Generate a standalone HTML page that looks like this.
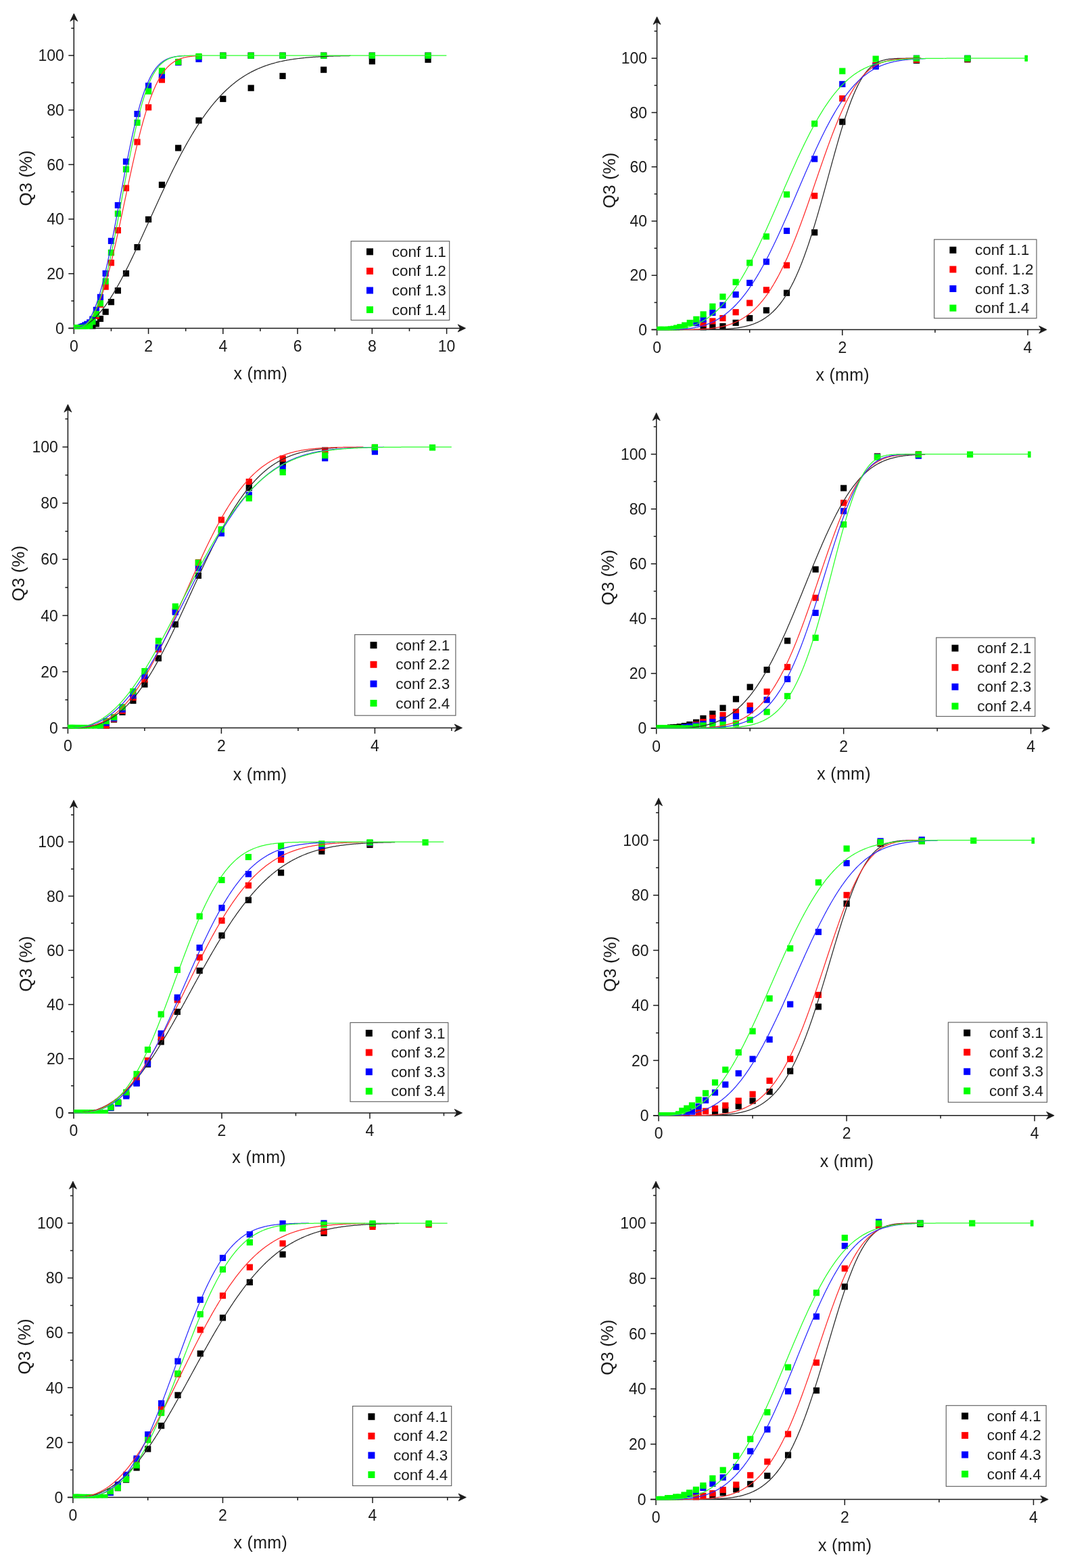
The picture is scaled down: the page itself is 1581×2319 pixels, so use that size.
<!DOCTYPE html>
<html><head><meta charset="utf-8"><title>Q3 cumulative distribution plots</title>
<style>html,body{margin:0;padding:0;background:#fff;}svg{display:block;}</style></head>
<body><svg xmlns="http://www.w3.org/2000/svg" width="1581" height="2319" viewBox="0 0 1581 2319">
<rect width="1581" height="2319" fill="#fff"/>
<g stroke="#1a1a1a" stroke-width="1.5" fill="none">
<line x1="109.3" y1="485.4" x2="109.3" y2="25.6"/>
<line x1="101.3" y1="485.4" x2="683" y2="485.4"/>
<line x1="101.3" y1="485.4" x2="109.3" y2="485.4"/>
<line x1="101.3" y1="404.73" x2="109.3" y2="404.73"/>
<line x1="101.3" y1="324.06" x2="109.3" y2="324.06"/>
<line x1="101.3" y1="243.39" x2="109.3" y2="243.39"/>
<line x1="101.3" y1="162.72" x2="109.3" y2="162.72"/>
<line x1="101.3" y1="82.05" x2="109.3" y2="82.05"/>
<line x1="105.3" y1="445.06" x2="109.3" y2="445.06"/>
<line x1="105.3" y1="364.39" x2="109.3" y2="364.39"/>
<line x1="105.3" y1="283.72" x2="109.3" y2="283.72"/>
<line x1="105.3" y1="203.05" x2="109.3" y2="203.05"/>
<line x1="105.3" y1="122.38" x2="109.3" y2="122.38"/>
<line x1="105.3" y1="41.71" x2="109.3" y2="41.71"/>
<line x1="109.3" y1="485.4" x2="109.3" y2="493.9"/>
<line x1="219.56" y1="485.4" x2="219.56" y2="493.9"/>
<line x1="329.82" y1="485.4" x2="329.82" y2="493.9"/>
<line x1="440.08" y1="485.4" x2="440.08" y2="493.9"/>
<line x1="550.34" y1="485.4" x2="550.34" y2="493.9"/>
<line x1="660.6" y1="485.4" x2="660.6" y2="493.9"/>
<line x1="164.43" y1="485.4" x2="164.43" y2="489.9"/>
<line x1="274.69" y1="485.4" x2="274.69" y2="489.9"/>
<line x1="384.95" y1="485.4" x2="384.95" y2="489.9"/>
<line x1="495.21" y1="485.4" x2="495.21" y2="489.9"/>
<line x1="605.47" y1="485.4" x2="605.47" y2="489.9"/>
</g>
<path d="M109.3,20 L114.8,31.4 L109.3,28 L103.8,31.4 Z" fill="#1a1a1a" stroke="#1a1a1a" stroke-width="0.8" stroke-linejoin="round"/>
<path d="M688.6,485.4 L677.2,479.9 L680.6,485.4 L677.2,490.9 Z" fill="#1a1a1a" stroke="#1a1a1a" stroke-width="0.8" stroke-linejoin="round"/>
<clipPath id="cP1"><rect x="109.3" y="33.65" width="551.3" height="452.75"/></clipPath>
<g clip-path="url(#cP1)">
<rect x="132.27" y="480.8" width="9.2" height="9.2" fill="#000000"/>
<rect x="137.78" y="474.35" width="9.2" height="9.2" fill="#000000"/>
<rect x="143.84" y="466.88" width="9.2" height="9.2" fill="#000000"/>
<rect x="151.56" y="456.6" width="9.2" height="9.2" fill="#000000"/>
<rect x="159.83" y="442.08" width="9.2" height="9.2" fill="#000000"/>
<rect x="169.75" y="425.18" width="9.2" height="9.2" fill="#000000"/>
<rect x="181.88" y="399.77" width="9.2" height="9.2" fill="#000000"/>
<rect x="198.42" y="361.05" width="9.2" height="9.2" fill="#000000"/>
<rect x="214.96" y="319.9" width="9.2" height="9.2" fill="#000000"/>
<rect x="234.81" y="268.72" width="9.2" height="9.2" fill="#000000"/>
<rect x="259.06" y="214.27" width="9.2" height="9.2" fill="#000000"/>
<rect x="289.39" y="173.57" width="9.2" height="9.2" fill="#000000"/>
<rect x="325.22" y="141.7" width="9.2" height="9.2" fill="#000000"/>
<rect x="366.57" y="125.57" width="9.2" height="9.2" fill="#000000"/>
<rect x="413.43" y="107.82" width="9.2" height="9.2" fill="#000000"/>
<rect x="474.07" y="98.59" width="9.2" height="9.2" fill="#000000"/>
<rect x="545.74" y="86.08" width="9.2" height="9.2" fill="#000000"/>
<rect x="628.43" y="83.66" width="9.2" height="9.2" fill="#000000"/>
<rect x="137.78" y="462.65" width="9.2" height="9.2" fill="#ff0000"/>
<rect x="143.84" y="445.71" width="9.2" height="9.2" fill="#ff0000"/>
<rect x="151.56" y="419.53" width="9.2" height="9.2" fill="#ff0000"/>
<rect x="159.83" y="384.04" width="9.2" height="9.2" fill="#ff0000"/>
<rect x="169.75" y="336.04" width="9.2" height="9.2" fill="#ff0000"/>
<rect x="181.88" y="273.56" width="9.2" height="9.2" fill="#ff0000"/>
<rect x="198.42" y="205.43" width="9.2" height="9.2" fill="#ff0000"/>
<rect x="214.96" y="154.21" width="9.2" height="9.2" fill="#ff0000"/>
<rect x="234.81" y="113.47" width="9.2" height="9.2" fill="#ff0000"/>
<rect x="259.06" y="87.7" width="9.2" height="9.2" fill="#ff0000"/>
<rect x="289.39" y="79.87" width="9.2" height="9.2" fill="#ff0000"/>
<rect x="325.22" y="77.61" width="9.2" height="9.2" fill="#ff0000"/>
<rect x="366.57" y="77.61" width="9.2" height="9.2" fill="#ff0000"/>
<rect x="413.43" y="77.61" width="9.2" height="9.2" fill="#ff0000"/>
<rect x="474.07" y="77.61" width="9.2" height="9.2" fill="#ff0000"/>
<rect x="545.74" y="77.61" width="9.2" height="9.2" fill="#ff0000"/>
<rect x="628.43" y="77.61" width="9.2" height="9.2" fill="#ff0000"/>
<rect x="114.62" y="479.59" width="9.2" height="9.2" fill="#0000ff"/>
<rect x="116.39" y="478.78" width="9.2" height="9.2" fill="#0000ff"/>
<rect x="118.48" y="477.98" width="9.2" height="9.2" fill="#0000ff"/>
<rect x="121.24" y="476.36" width="9.2" height="9.2" fill="#0000ff"/>
<rect x="124.27" y="474.75" width="9.2" height="9.2" fill="#0000ff"/>
<rect x="128.13" y="472.33" width="9.2" height="9.2" fill="#0000ff"/>
<rect x="132.27" y="467.49" width="9.2" height="9.2" fill="#0000ff"/>
<rect x="137.78" y="453.78" width="9.2" height="9.2" fill="#0000ff"/>
<rect x="143.84" y="434.82" width="9.2" height="9.2" fill="#0000ff"/>
<rect x="151.56" y="399.77" width="9.2" height="9.2" fill="#0000ff"/>
<rect x="159.83" y="351.77" width="9.2" height="9.2" fill="#0000ff"/>
<rect x="169.75" y="298.97" width="9.2" height="9.2" fill="#0000ff"/>
<rect x="181.88" y="234.43" width="9.2" height="9.2" fill="#0000ff"/>
<rect x="198.42" y="163.89" width="9.2" height="9.2" fill="#0000ff"/>
<rect x="214.96" y="122.34" width="9.2" height="9.2" fill="#0000ff"/>
<rect x="234.81" y="107.02" width="9.2" height="9.2" fill="#0000ff"/>
<rect x="259.06" y="87.7" width="9.2" height="9.2" fill="#0000ff"/>
<rect x="289.39" y="82.85" width="9.2" height="9.2" fill="#0000ff"/>
<rect x="325.22" y="77.61" width="9.2" height="9.2" fill="#0000ff"/>
<rect x="366.57" y="77.61" width="9.2" height="9.2" fill="#0000ff"/>
<rect x="413.43" y="77.61" width="9.2" height="9.2" fill="#0000ff"/>
<rect x="474.07" y="77.61" width="9.2" height="9.2" fill="#0000ff"/>
<rect x="545.74" y="77.61" width="9.2" height="9.2" fill="#0000ff"/>
<rect x="628.43" y="77.61" width="9.2" height="9.2" fill="#0000ff"/>
<rect x="105.8" y="480.8" width="9.2" height="9.2" fill="#00ff00"/>
<rect x="106.08" y="480.8" width="9.2" height="9.2" fill="#00ff00"/>
<rect x="106.46" y="480.8" width="9.2" height="9.2" fill="#00ff00"/>
<rect x="106.79" y="480.8" width="9.2" height="9.2" fill="#00ff00"/>
<rect x="107.18" y="480.8" width="9.2" height="9.2" fill="#00ff00"/>
<rect x="107.62" y="480.8" width="9.2" height="9.2" fill="#00ff00"/>
<rect x="108.17" y="480.8" width="9.2" height="9.2" fill="#00ff00"/>
<rect x="108.83" y="480.8" width="9.2" height="9.2" fill="#00ff00"/>
<rect x="109.66" y="480.8" width="9.2" height="9.2" fill="#00ff00"/>
<rect x="110.54" y="480.8" width="9.2" height="9.2" fill="#00ff00"/>
<rect x="111.59" y="480.8" width="9.2" height="9.2" fill="#00ff00"/>
<rect x="112.97" y="480.8" width="9.2" height="9.2" fill="#00ff00"/>
<rect x="114.62" y="480.8" width="9.2" height="9.2" fill="#00ff00"/>
<rect x="116.39" y="480.8" width="9.2" height="9.2" fill="#00ff00"/>
<rect x="118.48" y="480.8" width="9.2" height="9.2" fill="#00ff00"/>
<rect x="121.24" y="479.99" width="9.2" height="9.2" fill="#00ff00"/>
<rect x="124.27" y="478.78" width="9.2" height="9.2" fill="#00ff00"/>
<rect x="128.13" y="477.17" width="9.2" height="9.2" fill="#00ff00"/>
<rect x="132.27" y="471.12" width="9.2" height="9.2" fill="#00ff00"/>
<rect x="137.78" y="459.83" width="9.2" height="9.2" fill="#00ff00"/>
<rect x="143.84" y="444.1" width="9.2" height="9.2" fill="#00ff00"/>
<rect x="151.56" y="411.46" width="9.2" height="9.2" fill="#00ff00"/>
<rect x="159.83" y="369.11" width="9.2" height="9.2" fill="#00ff00"/>
<rect x="169.75" y="311.47" width="9.2" height="9.2" fill="#00ff00"/>
<rect x="181.88" y="245.73" width="9.2" height="9.2" fill="#00ff00"/>
<rect x="198.42" y="176.8" width="9.2" height="9.2" fill="#00ff00"/>
<rect x="214.96" y="130.41" width="9.2" height="9.2" fill="#00ff00"/>
<rect x="234.81" y="100.2" width="9.2" height="9.2" fill="#00ff00"/>
<rect x="259.06" y="86.89" width="9.2" height="9.2" fill="#00ff00"/>
<rect x="289.39" y="78.82" width="9.2" height="9.2" fill="#00ff00"/>
<rect x="325.22" y="77.61" width="9.2" height="9.2" fill="#00ff00"/>
<rect x="366.57" y="77.61" width="9.2" height="9.2" fill="#00ff00"/>
<rect x="413.43" y="77.61" width="9.2" height="9.2" fill="#00ff00"/>
<rect x="474.07" y="77.61" width="9.2" height="9.2" fill="#00ff00"/>
<rect x="545.74" y="77.61" width="9.2" height="9.2" fill="#00ff00"/>
<rect x="628.43" y="77.61" width="9.2" height="9.2" fill="#00ff00"/>
<polyline points="109.3,485.4 110.33,485.38 111.35,485.33 112.38,485.25 113.4,485.14 114.43,484.99 115.45,484.8 116.48,484.59 117.5,484.34 118.53,484.06 119.55,483.74 120.58,483.39 121.6,483.01 122.63,482.59 123.65,482.14 124.68,481.66 125.7,481.14 126.73,480.59 127.75,480.01 128.78,479.39 129.8,478.75 130.83,478.07 131.85,477.35 132.88,476.61 133.91,475.83 134.93,475.02 135.96,474.18 136.98,473.31 138.01,472.41 139.03,471.48 140.06,470.51 141.08,469.52 142.11,468.49 143.13,467.44 144.16,466.35 145.18,465.24 146.21,464.1 147.23,462.92 148.26,461.72 149.28,460.49 150.31,459.23 151.33,457.95 152.36,456.63 153.38,455.29 154.41,453.93 155.44,452.53 156.46,451.11 157.49,449.66 158.51,448.19 159.54,446.69 160.56,445.17 161.59,443.62 162.61,442.05 163.64,440.46 164.66,438.84 165.69,437.2 166.71,435.53 167.74,433.85 168.76,432.14 169.79,430.41 170.81,428.66 171.84,426.88 172.86,425.09 173.89,423.28 174.91,421.45 175.94,419.6 176.96,417.73 177.99,415.84 179.02,413.93 180.04,412.01 181.07,410.07 182.09,408.11 183.12,406.14 184.14,404.15 185.17,402.15 186.19,400.13 187.22,398.1 188.24,396.05 189.27,393.99 190.29,391.91 191.32,389.83 192.34,387.73 193.37,385.62 194.39,383.5 195.42,381.36 196.44,379.22 197.47,377.07 198.49,374.9 199.52,372.73 200.54,370.55 201.57,368.36 202.6,366.17 203.62,363.96 204.65,361.75 205.67,359.53 206.7,357.31 207.72,355.08 208.75,352.84 209.77,350.6 210.8,348.36 211.82,346.11 212.85,343.86 213.87,341.6 214.9,339.35 215.92,337.09 216.95,334.82 217.97,332.56 219,330.3 220.02,328.03 221.05,325.77 222.07,323.5 223.1,321.23 224.13,318.97 225.15,316.71 226.18,314.44 227.2,312.18 228.23,309.93 229.25,307.67 230.28,305.42 231.3,303.17 232.33,300.93 233.35,298.69 234.38,296.45 235.4,294.22 236.43,291.99 237.45,289.77 238.48,287.56 239.5,285.35 240.53,283.14 241.55,280.95 242.58,278.76 243.6,276.58 244.63,274.4 245.65,272.24 246.68,270.08 247.71,267.93 248.73,265.79 249.76,263.65 250.78,261.53 251.81,259.42 252.83,257.31 253.86,255.22 254.88,253.14 255.91,251.06 256.93,249 257.96,246.95 258.98,244.91 260.01,242.88 261.03,240.86 262.06,238.86 263.08,236.86 264.11,234.88 265.13,232.91 266.16,230.95 267.18,229.01 268.21,227.08 269.24,225.16 270.26,223.25 271.29,221.36 272.31,219.48 273.34,217.62 274.36,215.77 275.39,213.93 276.41,212.11 277.44,210.3 278.46,208.5 279.49,206.72 280.51,204.95 281.54,203.2 282.56,201.46 283.59,199.74 284.61,198.03 285.64,196.34 286.66,194.66 287.69,193 288.71,191.35 289.74,189.72 290.76,188.1 291.79,186.5 292.82,184.91 293.84,183.34 294.87,181.78 295.89,180.24 296.92,178.72 297.94,177.21 298.97,175.71 299.99,174.23 301.02,172.77 302.04,171.32 303.07,169.89 304.09,168.47 305.12,167.07 306.14,165.68 307.17,164.31 308.19,162.96 309.22,161.62 310.24,160.29 311.27,158.98 312.29,157.69 313.32,156.41 314.34,155.15 315.37,153.9 316.4,152.67 317.42,151.45 318.45,150.25 319.47,149.06 320.5,147.89 321.52,146.73 322.55,145.59 323.57,144.46 324.6,143.34 325.62,142.25 326.65,141.16 327.67,140.09 328.7,139.04 329.72,137.99 330.75,136.97 331.77,135.96 332.8,134.96 333.82,133.97 334.85,133 335.87,132.04 336.9,131.1 337.93,130.17 338.95,129.26 339.98,128.35 341,127.46 342.03,126.59 343.05,125.72 344.08,124.87 345.1,124.04 346.13,123.21 347.15,122.4 348.18,121.6 349.2,120.82 350.23,120.04 351.25,119.28 352.28,118.53 353.3,117.79 354.33,117.06 355.35,116.35 356.38,115.65 357.4,114.96 358.43,114.28 359.45,113.61 360.48,112.95 361.51,112.3 362.53,111.67 363.56,111.04 364.58,110.43 365.61,109.83 366.63,109.23 367.66,108.65 368.68,108.08 369.71,107.52 370.73,106.97 371.76,106.42 372.78,105.89 373.81,105.37 374.83,104.85 375.86,104.35 376.88,103.86 377.91,103.37 378.93,102.89 379.96,102.43 380.98,101.97 382.01,101.52 383.03,101.07 384.06,100.64 385.09,100.21 386.11,99.8 387.14,99.39 388.16,98.99 389.19,98.59 390.21,98.21 391.24,97.83 392.26,97.46 393.29,97.1 394.31,96.74 395.34,96.39 396.36,96.05 397.39,95.72 398.41,95.39 399.44,95.07 400.46,94.75 401.49,94.45 402.51,94.14 403.54,93.85 404.56,93.56 405.59,93.28 406.62,93 407.64,92.73 408.67,92.46 409.69,92.21 410.72,91.95 411.74,91.7 412.77,91.46 413.79,91.22 414.82,90.99 415.84,90.76 416.87,90.54 417.89,90.32 418.92,90.11 419.94,89.9 420.97,89.7 421.99,89.5 423.02,89.31 424.04,89.12 425.07,88.93 426.09,88.75 427.12,88.58 428.14,88.4 429.17,88.23 430.2,88.07 431.22,87.91 432.25,87.75 433.27,87.6 434.3,87.45 435.32,87.3 436.35,87.16 437.37,87.02 438.4,86.89 439.42,86.75 440.45,86.62 441.47,86.5 442.5,86.38 443.52,86.26 444.55,86.14 445.57,86.02 446.6,85.91 447.62,85.8 448.65,85.7 449.67,85.6 450.7,85.5 451.73,85.4 452.75,85.3 453.78,85.21 454.8,85.12 455.83,85.03 456.85,84.94 457.88,84.86 458.9,84.78 459.93,84.7 460.95,84.62 461.98,84.55 463,84.47 464.03,84.4 465.05,84.33 466.08,84.27 467.1,84.2 468.13,84.14 469.15,84.07 470.18,84.01 471.2,83.95 472.23,83.9 473.25,83.84 474.28,83.79 475.31,83.73 476.33,83.68 477.36,83.63 478.38,83.58 479.41,83.54 480.43,83.49 481.46,83.45 482.48,83.4 483.51,83.36 484.53,83.32 485.56,83.28 486.58,83.24 487.61,83.21 488.63,83.17 489.66,83.13 490.68,83.1 491.71,83.07 492.73,83.03 493.76,83 494.78,82.97 495.81,82.94 496.83,82.91 497.86,82.89 498.89,82.86 499.91,82.83 500.94,82.81 501.96,82.78 502.99,82.76 504.01,82.74 505.04,82.71 506.06,82.69 507.09,82.67 508.11,82.65 509.14,82.63 510.16,82.61 511.19,82.59 512.21,82.57 513.24,82.56 514.26,82.54 515.29,82.52 516.31,82.51 517.34,82.49 518.36,82.48" fill="none" stroke="#2a2a2a" stroke-width="1.25"/>
<polyline points="109.3,485.4 109.76,485.4 110.23,485.4 110.69,485.39 111.15,485.39 111.61,485.37 112.08,485.36 112.54,485.34 113,485.31 113.47,485.28 113.93,485.24 114.39,485.19 114.85,485.14 115.32,485.08 115.78,485.01 116.24,484.93 116.71,484.85 117.17,484.75 117.63,484.64 118.09,484.53 118.56,484.4 119.02,484.26 119.48,484.11 119.95,483.95 120.41,483.78 120.87,483.6 121.33,483.4 121.8,483.19 122.26,482.97 122.72,482.74 123.19,482.49 123.65,482.23 124.11,481.95 124.57,481.66 125.04,481.35 125.5,481.03 125.96,480.7 126.43,480.35 126.89,479.98 127.35,479.6 127.81,479.2 128.28,478.79 128.74,478.36 129.2,477.91 129.67,477.44 130.13,476.96 130.59,476.46 131.05,475.95 131.52,475.41 131.98,474.86 132.44,474.29 132.91,473.7 133.37,473.1 133.83,472.47 134.3,471.83 134.76,471.17 135.22,470.49 135.68,469.79 136.15,469.07 136.61,468.33 137.07,467.57 137.54,466.79 138,466 138.46,465.18 138.92,464.35 139.39,463.49 139.85,462.61 140.31,461.72 140.78,460.8 141.24,459.87 141.7,458.91 142.16,457.93 142.63,456.94 143.09,455.92 143.55,454.88 144.02,453.83 144.48,452.75 144.94,451.65 145.4,450.53 145.87,449.39 146.33,448.24 146.79,447.06 147.26,445.86 147.72,444.64 148.18,443.4 148.64,442.14 149.11,440.86 149.57,439.56 150.03,438.24 150.5,436.9 150.96,435.54 151.42,434.16 151.88,432.76 152.35,431.35 152.81,429.91 153.27,428.45 153.74,426.98 154.2,425.48 154.66,423.97 155.12,422.44 155.59,420.89 156.05,419.32 156.51,417.73 156.98,416.12 157.44,414.5 157.9,412.86 158.36,411.2 158.83,409.52 159.29,407.83 159.75,406.12 160.22,404.39 160.68,402.65 161.14,400.89 161.6,399.11 162.07,397.32 162.53,395.51 162.99,393.69 163.46,391.85 163.92,390 164.38,388.13 164.84,386.25 165.31,384.35 165.77,382.44 166.23,380.52 166.7,378.58 167.16,376.63 167.62,374.67 168.08,372.69 168.55,370.7 169.01,368.7 169.47,366.69 169.94,364.67 170.4,362.64 170.86,360.6 171.32,358.54 171.79,356.48 172.25,354.41 172.71,352.32 173.18,350.23 173.64,348.13 174.1,346.03 174.56,343.91 175.03,341.79 175.49,339.66 175.95,337.52 176.42,335.38 176.88,333.23 177.34,331.07 177.8,328.91 178.27,326.74 178.73,324.57 179.19,322.4 179.66,320.22 180.12,318.04 180.58,315.85 181.04,313.66 181.51,311.47 181.97,309.28 182.43,307.08 182.9,304.89 183.36,302.69 183.82,300.49 184.29,298.29 184.75,296.1 185.21,293.9 185.67,291.7 186.14,289.51 186.6,287.31 187.06,285.12 187.53,282.93 187.99,280.74 188.45,278.56 188.91,276.37 189.38,274.2 189.84,272.02 190.3,269.85 190.77,267.69 191.23,265.53 191.69,263.37 192.15,261.23 192.62,259.08 193.08,256.95 193.54,254.82 194.01,252.69 194.47,250.58 194.93,248.47 195.39,246.37 195.86,244.28 196.32,242.2 196.78,240.12 197.25,238.06 197.71,236 198.17,233.96 198.63,231.92 199.1,229.89 199.56,227.88 200.02,225.87 200.49,223.88 200.95,221.9 201.41,219.93 201.87,217.97 202.34,216.02 202.8,214.09 203.26,212.17 203.73,210.26 204.19,208.36 204.65,206.48 205.11,204.61 205.58,202.75 206.04,200.91 206.5,199.08 206.97,197.26 207.43,195.46 207.89,193.68 208.35,191.91 208.82,190.15 209.28,188.41 209.74,186.68 210.21,184.97 210.67,183.28 211.13,181.6 211.59,179.93 212.06,178.28 212.52,176.65 212.98,175.03 213.45,173.43 213.91,171.85 214.37,170.28 214.83,168.72 215.3,167.19 215.76,165.67 216.22,164.17 216.69,162.68 217.15,161.21 217.61,159.76 218.07,158.32 218.54,156.9 219,155.5 219.46,154.11 219.93,152.74 220.39,151.39 220.85,150.05 221.31,148.74 221.78,147.43 222.24,146.15 222.7,144.88 223.17,143.63 223.63,142.4 224.09,141.18 224.55,139.98 225.02,138.79 225.48,137.62 225.94,136.47 226.41,135.34 226.87,134.22 227.33,133.12 227.79,132.03 228.26,130.97 228.72,129.91 229.18,128.88 229.65,127.86 230.11,126.85 230.57,125.86 231.04,124.89 231.5,123.93 231.96,122.99 232.42,122.07 232.89,121.15 233.35,120.26 233.81,119.38 234.28,118.51 234.74,117.66 235.2,116.83 235.66,116.01 236.13,115.2 236.59,114.41 237.05,113.63 237.52,112.87 237.98,112.12 238.44,111.39 238.9,110.67 239.37,109.96 239.83,109.26 240.29,108.58 240.76,107.92 241.22,107.26 241.68,106.62 242.14,105.99 242.61,105.38 243.07,104.77 243.53,104.18 244,103.6 244.46,103.03 244.92,102.48 245.38,101.94 245.85,101.4 246.31,100.88 246.77,100.37 247.24,99.87 247.7,99.39 248.16,98.91 248.62,98.44 249.09,97.99 249.55,97.54 250.01,97.11 250.48,96.68 250.94,96.27 251.4,95.86 251.86,95.47 252.33,95.08 252.79,94.7 253.25,94.33 253.72,93.97 254.18,93.62 254.64,93.28 255.1,92.94 255.57,92.62 256.03,92.3 256.49,91.99 256.96,91.69 257.42,91.39 257.88,91.11 258.34,90.83 258.81,90.56 259.27,90.29 259.73,90.03 260.2,89.78 260.66,89.54 261.12,89.3 261.58,89.07 262.05,88.84 262.51,88.62 262.97,88.41 263.44,88.2 263.9,88 264.36,87.81 264.82,87.62 265.29,87.43 265.75,87.25 266.21,87.08 266.68,86.91 267.14,86.74 267.6,86.59 268.06,86.43 268.53,86.28 268.99,86.13 269.45,85.99 269.92,85.86 270.38,85.72 270.84,85.59 271.3,85.47 271.77,85.35 272.23,85.23 272.69,85.12 273.16,85.01 273.62,84.9 274.08,84.8 274.54,84.7 275.01,84.6 275.47,84.51 275.93,84.41 276.4,84.33 276.86,84.24 277.32,84.16 277.79,84.08 278.25,84 278.71,83.93 279.17,83.86 279.64,83.79 280.1,83.72 280.56,83.66 281.03,83.6 281.49,83.54 281.95,83.48 282.41,83.42 282.88,83.37 283.34,83.31 283.8,83.26 284.27,83.22 284.73,83.17 285.19,83.12 285.65,83.08 286.12,83.04 286.58,83 287.04,82.96 287.51,82.92 287.97,82.89 288.43,82.85 288.89,82.82 289.36,82.79 289.82,82.75 290.28,82.73 290.75,82.7 291.21,82.67 291.67,82.64 292.13,82.62 292.6,82.59 293.06,82.57 293.52,82.55 293.99,82.53" fill="none" stroke="#ff2a2a" stroke-width="1.25"/>
<polyline points="109.3,485.4 109.71,485.4 110.13,485.4 110.54,485.39 110.95,485.39 111.37,485.38 111.78,485.37 112.19,485.35 112.61,485.33 113.02,485.3 113.43,485.27 113.84,485.23 114.26,485.18 114.67,485.13 115.08,485.07 115.5,485 115.91,484.92 116.32,484.84 116.74,484.75 117.15,484.64 117.56,484.53 117.98,484.41 118.39,484.28 118.8,484.13 119.22,483.98 119.63,483.81 120.04,483.64 120.45,483.45 120.87,483.25 121.28,483.03 121.69,482.81 122.11,482.57 122.52,482.31 122.93,482.05 123.35,481.77 123.76,481.47 124.17,481.17 124.59,480.84 125,480.5 125.41,480.15 125.83,479.78 126.24,479.4 126.65,478.99 127.06,478.58 127.48,478.14 127.89,477.69 128.3,477.23 128.72,476.74 129.13,476.24 129.54,475.73 129.96,475.19 130.37,474.64 130.78,474.06 131.2,473.47 131.61,472.87 132.02,472.24 132.44,471.6 132.85,470.93 133.26,470.25 133.67,469.55 134.09,468.83 134.5,468.08 134.91,467.32 135.33,466.55 135.74,465.75 136.15,464.93 136.57,464.09 136.98,463.23 137.39,462.35 137.81,461.45 138.22,460.53 138.63,459.59 139.05,458.63 139.46,457.65 139.87,456.65 140.28,455.63 140.7,454.59 141.11,453.52 141.52,452.44 141.94,451.34 142.35,450.21 142.76,449.07 143.18,447.9 143.59,446.71 144,445.51 144.42,444.28 144.83,443.03 145.24,441.76 145.66,440.47 146.07,439.16 146.48,437.83 146.89,436.48 147.31,435.11 147.72,433.72 148.13,432.31 148.55,430.88 148.96,429.43 149.37,427.96 149.79,426.47 150.2,424.96 150.61,423.43 151.03,421.88 151.44,420.31 151.85,418.73 152.27,417.12 152.68,415.5 153.09,413.86 153.5,412.2 153.92,410.52 154.33,408.82 154.74,407.11 155.16,405.38 155.57,403.63 155.98,401.86 156.4,400.08 156.81,398.28 157.22,396.46 157.64,394.63 158.05,392.78 158.46,390.92 158.88,389.04 159.29,387.14 159.7,385.23 160.11,383.31 160.53,381.37 160.94,379.42 161.35,377.45 161.77,375.47 162.18,373.48 162.59,371.48 163.01,369.46 163.42,367.43 163.83,365.38 164.25,363.33 164.66,361.27 165.07,359.19 165.49,357.1 165.9,355.01 166.31,352.9 166.73,350.78 167.14,348.66 167.55,346.52 167.96,344.38 168.38,342.23 168.79,340.07 169.2,337.9 169.62,335.73 170.03,333.55 170.44,331.36 170.86,329.17 171.27,326.97 171.68,324.77 172.1,322.56 172.51,320.35 172.92,318.13 173.34,315.91 173.75,313.69 174.16,311.46 174.57,309.23 174.99,307 175.4,304.77 175.81,302.53 176.23,300.3 176.64,298.06 177.05,295.83 177.47,293.59 177.88,291.36 178.29,289.12 178.71,286.89 179.12,284.66 179.53,282.43 179.95,280.2 180.36,277.98 180.77,275.76 181.18,273.54 181.6,271.33 182.01,269.12 182.42,266.91 182.84,264.72 183.25,262.52 183.66,260.33 184.08,258.15 184.49,255.98 184.9,253.81 185.32,251.65 185.73,249.49 186.14,247.35 186.56,245.21 186.97,243.08 187.38,240.96 187.79,238.85 188.21,236.75 188.62,234.66 189.03,232.57 189.45,230.5 189.86,228.44 190.27,226.39 190.69,224.35 191.1,222.32 191.51,220.31 191.93,218.3 192.34,216.31 192.75,214.33 193.17,212.37 193.58,210.41 193.99,208.47 194.4,206.55 194.82,204.64 195.23,202.74 195.64,200.85 196.06,198.98 196.47,197.13 196.88,195.29 197.3,193.46 197.71,191.65 198.12,189.86 198.54,188.08 198.95,186.31 199.36,184.56 199.78,182.83 200.19,181.11 200.6,179.41 201.01,177.73 201.43,176.06 201.84,174.41 202.25,172.78 202.67,171.16 203.08,169.56 203.49,167.98 203.91,166.41 204.32,164.86 204.73,163.33 205.15,161.82 205.56,160.32 205.97,158.84 206.39,157.38 206.8,155.94 207.21,154.51 207.62,153.1 208.04,151.71 208.45,150.33 208.86,148.98 209.28,147.64 209.69,146.32 210.1,145.01 210.52,143.73 210.93,142.46 211.34,141.21 211.76,139.98 212.17,138.76 212.58,137.56 213,136.38 213.41,135.22 213.82,134.07 214.23,132.94 214.65,131.83 215.06,130.73 215.47,129.66 215.89,128.59 216.3,127.55 216.71,126.52 217.13,125.51 217.54,124.52 217.95,123.54 218.37,122.58 218.78,121.63 219.19,120.71 219.61,119.79 220.02,118.9 220.43,118.02 220.84,117.15 221.26,116.3 221.67,115.47 222.08,114.65 222.5,113.84 222.91,113.05 223.32,112.28 223.74,111.52 224.15,110.78 224.56,110.04 224.98,109.33 225.39,108.63 225.8,107.94 226.22,107.26 226.63,106.6 227.04,105.96 227.46,105.32 227.87,104.7 228.28,104.09 228.69,103.5 229.11,102.92 229.52,102.35 229.93,101.79 230.35,101.25 230.76,100.71 231.17,100.19 231.59,99.68 232,99.18 232.41,98.7 232.83,98.22 233.24,97.76 233.65,97.3 234.07,96.86 234.48,96.43 234.89,96.01 235.3,95.59 235.72,95.19 236.13,94.8 236.54,94.42 236.96,94.04 237.37,93.68 237.78,93.32 238.2,92.98 238.61,92.64 239.02,92.31 239.44,91.99 239.85,91.68 240.26,91.38 240.68,91.08 241.09,90.79 241.5,90.51 241.91,90.24 242.33,89.98 242.74,89.72 243.15,89.47 243.57,89.22 243.98,88.99 244.39,88.76 244.81,88.53 245.22,88.32 245.63,88.11 246.05,87.9 246.46,87.7 246.87,87.51 247.29,87.32 247.7,87.14 248.11,86.96 248.52,86.79 248.94,86.62 249.35,86.46 249.76,86.31 250.18,86.15 250.59,86.01 251,85.86 251.42,85.73 251.83,85.59 252.24,85.46 252.66,85.34 253.07,85.22 253.48,85.1 253.9,84.99 254.31,84.88 254.72,84.77 255.13,84.67 255.55,84.57 255.96,84.47 256.37,84.38 256.79,84.29 257.2,84.2 257.61,84.12 258.03,84.04 258.44,83.96 258.85,83.89 259.27,83.81 259.68,83.74 260.09,83.68 260.51,83.61 260.92,83.55 261.33,83.49 261.74,83.43 262.16,83.37 262.57,83.32 262.98,83.27 263.4,83.22 263.81,83.17 264.22,83.12 264.64,83.08 265.05,83.03 265.46,82.99 265.88,82.95 266.29,82.91 266.7,82.88 267.12,82.84 267.53,82.81 267.94,82.77 268.35,82.74 268.77,82.71 269.18,82.68 269.59,82.65 270.01,82.63 270.42,82.6 270.83,82.58 271.25,82.55 271.66,82.53 272.07,82.51 272.49,82.49 272.9,82.47 273.31,82.45 273.73,82.43 274.14,82.41" fill="none" stroke="#2a2aff" stroke-width="1.25"/>
<polyline points="109.3,485.4 110.68,485.4 112.06,485.37 113.45,485.31 114.83,485.21 116.21,485.03 117.59,484.79 118.97,484.46 120.35,484.03 121.74,483.49 123.12,482.83 124.5,482.04 125.88,481.11 127.26,480.03 128.64,478.79 130.03,477.38 131.41,475.8 132.79,474.04 134.17,472.09 135.55,469.94 136.93,467.58 138.32,465.02 139.7,462.25 141.08,459.26 142.46,456.05 143.84,452.62 145.22,448.97 146.61,445.09 147.99,440.99 149.37,436.66 150.75,432.11 152.13,427.34 153.51,422.35 154.9,417.15 156.28,411.74 157.66,406.12 159.04,400.31 160.42,394.32 161.8,388.14 163.19,381.79 164.57,375.27 165.95,368.61 167.33,361.8 168.71,354.87 170.09,347.82 171.48,340.67 172.86,333.42 174.24,326.1 175.62,318.72 177,311.28 178.39,303.82 179.77,296.33 181.15,288.83 182.53,281.35 183.91,273.89 185.29,266.47 186.68,259.1 188.06,251.8 189.44,244.57 190.82,237.44 192.2,230.41 193.58,223.5 194.97,216.71 196.35,210.06 197.73,203.57 199.11,197.22 200.49,191.05 201.87,185.04 203.26,179.21 204.64,173.57 206.02,168.12 207.4,162.87 208.78,157.81 210.16,152.95 211.55,148.29 212.93,143.83 214.31,139.57 215.69,135.52 217.07,131.66 218.45,128 219.84,124.53 221.22,121.26 222.6,118.17 223.98,115.26 225.36,112.53 226.74,109.98 228.13,107.59 229.51,105.35 230.89,103.28 232.27,101.35 233.65,99.56 235.04,97.9 236.42,96.38 237.8,94.97 239.18,93.68 240.56,92.49 241.94,91.41 243.33,90.42 244.71,89.52 246.09,88.71 247.47,87.97 248.85,87.3 250.23,86.69 251.62,86.15 253,85.66 254.38,85.22 255.76,84.83 257.14,84.49 258.52,84.18 259.91,83.9 261.29,83.66 262.67,83.45 264.05,83.26 265.43,83.09 266.81,82.95 268.2,82.82 269.58,82.71 270.96,82.61 272.34,82.53 273.72,82.46 275.1,82.4 276.49,82.34 277.87,82.3 279.25,82.26 280.63,82.22 282.01,82.2 283.39,82.17 284.78,82.15 286.16,82.13 287.54,82.12 288.92,82.11 290.3,82.1 291.68,82.09 293.07,82.08 294.45,82.08 295.83,82.07 297.21,82.07 298.59,82.06 299.98,82.06 301.36,82.06 302.74,82.06 304.12,82.06 305.5,82.05 306.88,82.05 308.27,82.05 309.65,82.05 311.03,82.05 312.41,82.05 313.79,82.05 315.17,82.05 316.56,82.05 317.94,82.05 319.32,82.05 320.7,82.05 322.08,82.05 323.46,82.05 324.85,82.05 326.23,82.05 327.61,82.05 328.99,82.05 330.37,82.05 331.75,82.05 333.14,82.05 334.52,82.05 335.9,82.05 337.28,82.05 338.66,82.05 340.04,82.05 341.43,82.05 342.81,82.05 344.19,82.05 345.57,82.05 346.95,82.05 348.33,82.05 349.72,82.05 351.1,82.05 352.48,82.05 353.86,82.05 355.24,82.05 356.63,82.05 358.01,82.05 359.39,82.05 360.77,82.05 362.15,82.05 363.53,82.05 364.92,82.05 366.3,82.05 367.68,82.05 369.06,82.05 370.44,82.05 371.82,82.05 373.21,82.05 374.59,82.05 375.97,82.05 377.35,82.05 378.73,82.05 380.11,82.05 381.5,82.05 382.88,82.05 384.26,82.05 385.64,82.05 387.02,82.05 388.4,82.05 389.79,82.05 391.17,82.05 392.55,82.05 393.93,82.05 395.31,82.05 396.69,82.05 398.08,82.05 399.46,82.05 400.84,82.05 402.22,82.05 403.6,82.05 404.98,82.05 406.37,82.05 407.75,82.05 409.13,82.05 410.51,82.05 411.89,82.05 413.27,82.05 414.66,82.05 416.04,82.05 417.42,82.05 418.8,82.05 420.18,82.05 421.57,82.05 422.95,82.05 424.33,82.05 425.71,82.05 427.09,82.05 428.47,82.05 429.86,82.05 431.24,82.05 432.62,82.05 434,82.05 435.38,82.05 436.76,82.05 438.15,82.05 439.53,82.05 440.91,82.05 442.29,82.05 443.67,82.05 445.05,82.05 446.44,82.05 447.82,82.05 449.2,82.05 450.58,82.05 451.96,82.05 453.34,82.05 454.73,82.05 456.11,82.05 457.49,82.05 458.87,82.05 460.25,82.05 461.63,82.05 463.02,82.05 464.4,82.05 465.78,82.05 467.16,82.05 468.54,82.05 469.92,82.05 471.31,82.05 472.69,82.05 474.07,82.05 475.45,82.05 476.83,82.05 478.22,82.05 479.6,82.05 480.98,82.05 482.36,82.05 483.74,82.05 485.12,82.05 486.51,82.05 487.89,82.05 489.27,82.05 490.65,82.05 492.03,82.05 493.41,82.05 494.8,82.05 496.18,82.05 497.56,82.05 498.94,82.05 500.32,82.05 501.7,82.05 503.09,82.05 504.47,82.05 505.85,82.05 507.23,82.05 508.61,82.05 509.99,82.05 511.38,82.05 512.76,82.05 514.14,82.05 515.52,82.05 516.9,82.05 518.28,82.05 519.67,82.05 521.05,82.05 522.43,82.05 523.81,82.05 525.19,82.05 526.57,82.05 527.96,82.05 529.34,82.05 530.72,82.05 532.1,82.05 533.48,82.05 534.86,82.05 536.25,82.05 537.63,82.05 539.01,82.05 540.39,82.05 541.77,82.05 543.16,82.05 544.54,82.05 545.92,82.05 547.3,82.05 548.68,82.05 550.06,82.05 551.45,82.05 552.83,82.05 554.21,82.05 555.59,82.05 556.97,82.05 558.35,82.05 559.74,82.05 561.12,82.05 562.5,82.05 563.88,82.05 565.26,82.05 566.64,82.05 568.03,82.05 569.41,82.05 570.79,82.05 572.17,82.05 573.55,82.05 574.93,82.05 576.32,82.05 577.7,82.05 579.08,82.05 580.46,82.05 581.84,82.05 583.22,82.05 584.61,82.05 585.99,82.05 587.37,82.05 588.75,82.05 590.13,82.05 591.51,82.05 592.9,82.05 594.28,82.05 595.66,82.05 597.04,82.05 598.42,82.05 599.81,82.05 601.19,82.05 602.57,82.05 603.95,82.05 605.33,82.05 606.71,82.05 608.1,82.05 609.48,82.05 610.86,82.05 612.24,82.05 613.62,82.05 615,82.05 616.39,82.05 617.77,82.05 619.15,82.05 620.53,82.05 621.91,82.05 623.29,82.05 624.68,82.05 626.06,82.05 627.44,82.05 628.82,82.05 630.2,82.05 631.58,82.05 632.97,82.05 634.35,82.05 635.73,82.05 637.11,82.05 638.49,82.05 639.87,82.05 641.26,82.05 642.64,82.05 644.02,82.05 645.4,82.05 646.78,82.05 648.16,82.05 649.55,82.05 650.93,82.05 652.31,82.05 653.69,82.05 655.07,82.05 656.45,82.05 657.84,82.05 659.22,82.05 660.6,82.05" fill="none" stroke="#2aff2a" stroke-width="1.25"/>
</g>
<g style="font-family:'Liberation Sans',Arial,sans-serif;font-size:23px" fill="#1a1a1a">
<text x="94.8" y="493.6" text-anchor="end">0</text>
<text x="94.8" y="412.93" text-anchor="end">20</text>
<text x="94.8" y="332.26" text-anchor="end">40</text>
<text x="94.8" y="251.59" text-anchor="end">60</text>
<text x="94.8" y="170.92" text-anchor="end">80</text>
<text x="94.8" y="90.25" text-anchor="end">100</text>
<text x="109.3" y="519.9" text-anchor="middle">0</text>
<text x="219.56" y="519.9" text-anchor="middle">2</text>
<text x="329.82" y="519.9" text-anchor="middle">4</text>
<text x="440.08" y="519.9" text-anchor="middle">6</text>
<text x="550.34" y="519.9" text-anchor="middle">8</text>
<text x="660.6" y="519.9" text-anchor="middle">10</text>
<text transform="translate(46.9,263.56) rotate(-90)" text-anchor="middle" style="font-size:26px">Q3 (%)</text>
<text x="385.35" y="560.9" text-anchor="middle" style="font-size:25px;letter-spacing:0.3px">x (mm)</text>
</g>
<rect x="519.2" y="356.7" width="145.5" height="116.8" fill="#fff" stroke="#666" stroke-width="1.2"/>
<g style="font-family:'Liberation Sans',Arial,sans-serif;font-size:22.5px" fill="#1a1a1a">
<rect x="542" y="367.3" width="10" height="10" fill="#000000"/>
<text x="579.7" y="379.8">conf 1.1</text>
<rect x="542" y="395.9" width="10" height="10" fill="#ff0000"/>
<text x="579.7" y="408.4">conf 1.2</text>
<rect x="542" y="424.5" width="10" height="10" fill="#0000ff"/>
<text x="579.7" y="437">conf 1.3</text>
<rect x="542" y="453.1" width="10" height="10" fill="#00ff00"/>
<text x="579.7" y="465.6">conf 1.4</text>
</g>
<g stroke="#1a1a1a" stroke-width="1.5" fill="none">
<line x1="971.6" y1="487.55" x2="971.6" y2="30.4"/>
<line x1="963.6" y1="487.55" x2="1542.5" y2="487.55"/>
<line x1="963.6" y1="487.55" x2="971.6" y2="487.55"/>
<line x1="963.6" y1="407.28" x2="971.6" y2="407.28"/>
<line x1="963.6" y1="327.01" x2="971.6" y2="327.01"/>
<line x1="963.6" y1="246.74" x2="971.6" y2="246.74"/>
<line x1="963.6" y1="166.47" x2="971.6" y2="166.47"/>
<line x1="963.6" y1="86.2" x2="971.6" y2="86.2"/>
<line x1="967.6" y1="447.42" x2="971.6" y2="447.42"/>
<line x1="967.6" y1="367.15" x2="971.6" y2="367.15"/>
<line x1="967.6" y1="286.88" x2="971.6" y2="286.88"/>
<line x1="967.6" y1="206.61" x2="971.6" y2="206.61"/>
<line x1="967.6" y1="126.34" x2="971.6" y2="126.34"/>
<line x1="967.6" y1="46.07" x2="971.6" y2="46.07"/>
<line x1="971.6" y1="487.55" x2="971.6" y2="496.05"/>
<line x1="1245.8" y1="487.55" x2="1245.8" y2="496.05"/>
<line x1="1520" y1="487.55" x2="1520" y2="496.05"/>
<line x1="1108.7" y1="487.55" x2="1108.7" y2="492.05"/>
<line x1="1382.9" y1="487.55" x2="1382.9" y2="492.05"/>
</g>
<path d="M971.6,24.8 L977.1,36.2 L971.6,32.8 L966.1,36.2 Z" fill="#1a1a1a" stroke="#1a1a1a" stroke-width="0.8" stroke-linejoin="round"/>
<path d="M1548.1,487.55 L1536.7,482.05 L1540.1,487.55 L1536.7,493.05 Z" fill="#1a1a1a" stroke="#1a1a1a" stroke-width="0.8" stroke-linejoin="round"/>
<clipPath id="cP2"><rect x="971.6" y="38.04" width="548.4" height="450.51"/></clipPath>
<g clip-path="url(#cP2)">
<rect x="1035.55" y="479.58" width="9.2" height="9.2" fill="#000000"/>
<rect x="1049.26" y="478.78" width="9.2" height="9.2" fill="#000000"/>
<rect x="1064.34" y="477.97" width="9.2" height="9.2" fill="#000000"/>
<rect x="1083.54" y="472.76" width="9.2" height="9.2" fill="#000000"/>
<rect x="1104.1" y="465.97" width="9.2" height="9.2" fill="#000000"/>
<rect x="1128.78" y="454.33" width="9.2" height="9.2" fill="#000000"/>
<rect x="1158.94" y="428.65" width="9.2" height="9.2" fill="#000000"/>
<rect x="1200.07" y="339.19" width="9.2" height="9.2" fill="#000000"/>
<rect x="1241.2" y="175.56" width="9.2" height="9.2" fill="#000000"/>
<rect x="1290.56" y="92.12" width="9.2" height="9.2" fill="#000000"/>
<rect x="1350.88" y="84.89" width="9.2" height="9.2" fill="#000000"/>
<rect x="1426.29" y="83.29" width="9.2" height="9.2" fill="#000000"/>
<rect x="1035.55" y="473.96" width="9.2" height="9.2" fill="#ff0000"/>
<rect x="1049.26" y="470.35" width="9.2" height="9.2" fill="#ff0000"/>
<rect x="1064.34" y="465.97" width="9.2" height="9.2" fill="#ff0000"/>
<rect x="1083.54" y="457.14" width="9.2" height="9.2" fill="#ff0000"/>
<rect x="1104.1" y="443.5" width="9.2" height="9.2" fill="#ff0000"/>
<rect x="1128.78" y="424.23" width="9.2" height="9.2" fill="#ff0000"/>
<rect x="1158.94" y="387.75" width="9.2" height="9.2" fill="#ff0000"/>
<rect x="1200.07" y="285.04" width="9.2" height="9.2" fill="#ff0000"/>
<rect x="1241.2" y="141.08" width="9.2" height="9.2" fill="#ff0000"/>
<rect x="1290.56" y="91.71" width="9.2" height="9.2" fill="#ff0000"/>
<rect x="1350.88" y="83.69" width="9.2" height="9.2" fill="#ff0000"/>
<rect x="1426.29" y="82.48" width="9.2" height="9.2" fill="#ff0000"/>
<rect x="1025.27" y="473.16" width="9.2" height="9.2" fill="#0000ff"/>
<rect x="1035.55" y="467.74" width="9.2" height="9.2" fill="#0000ff"/>
<rect x="1049.26" y="457.95" width="9.2" height="9.2" fill="#0000ff"/>
<rect x="1064.34" y="446.71" width="9.2" height="9.2" fill="#0000ff"/>
<rect x="1083.54" y="431.06" width="9.2" height="9.2" fill="#0000ff"/>
<rect x="1104.1" y="413.8" width="9.2" height="9.2" fill="#0000ff"/>
<rect x="1128.78" y="382.53" width="9.2" height="9.2" fill="#0000ff"/>
<rect x="1158.94" y="336.82" width="9.2" height="9.2" fill="#0000ff"/>
<rect x="1200.07" y="230.5" width="9.2" height="9.2" fill="#0000ff"/>
<rect x="1241.2" y="119.81" width="9.2" height="9.2" fill="#0000ff"/>
<rect x="1290.56" y="93.72" width="9.2" height="9.2" fill="#0000ff"/>
<rect x="1350.88" y="81.68" width="9.2" height="9.2" fill="#0000ff"/>
<rect x="1426.29" y="81.68" width="9.2" height="9.2" fill="#0000ff"/>
<rect x="969.74" y="482.95" width="9.2" height="9.2" fill="#00ff00"/>
<rect x="970.43" y="482.95" width="9.2" height="9.2" fill="#00ff00"/>
<rect x="971.39" y="482.95" width="9.2" height="9.2" fill="#00ff00"/>
<rect x="972.21" y="482.95" width="9.2" height="9.2" fill="#00ff00"/>
<rect x="973.17" y="482.95" width="9.2" height="9.2" fill="#00ff00"/>
<rect x="974.27" y="482.95" width="9.2" height="9.2" fill="#00ff00"/>
<rect x="975.64" y="482.95" width="9.2" height="9.2" fill="#00ff00"/>
<rect x="977.28" y="482.95" width="9.2" height="9.2" fill="#00ff00"/>
<rect x="979.34" y="482.95" width="9.2" height="9.2" fill="#00ff00"/>
<rect x="981.53" y="482.95" width="9.2" height="9.2" fill="#00ff00"/>
<rect x="984.14" y="482.75" width="9.2" height="9.2" fill="#00ff00"/>
<rect x="987.56" y="482.35" width="9.2" height="9.2" fill="#00ff00"/>
<rect x="991.68" y="481.75" width="9.2" height="9.2" fill="#00ff00"/>
<rect x="996.07" y="480.54" width="9.2" height="9.2" fill="#00ff00"/>
<rect x="1001.27" y="479.14" width="9.2" height="9.2" fill="#00ff00"/>
<rect x="1008.13" y="476.53" width="9.2" height="9.2" fill="#00ff00"/>
<rect x="1015.67" y="472.92" width="9.2" height="9.2" fill="#00ff00"/>
<rect x="1025.27" y="467.7" width="9.2" height="9.2" fill="#00ff00"/>
<rect x="1035.55" y="460.35" width="9.2" height="9.2" fill="#00ff00"/>
<rect x="1049.26" y="448.71" width="9.2" height="9.2" fill="#00ff00"/>
<rect x="1064.34" y="434.27" width="9.2" height="9.2" fill="#00ff00"/>
<rect x="1083.54" y="412.59" width="9.2" height="9.2" fill="#00ff00"/>
<rect x="1104.1" y="384.14" width="9.2" height="9.2" fill="#00ff00"/>
<rect x="1128.78" y="345.21" width="9.2" height="9.2" fill="#00ff00"/>
<rect x="1158.94" y="283.04" width="9.2" height="9.2" fill="#00ff00"/>
<rect x="1200.07" y="178.37" width="9.2" height="9.2" fill="#00ff00"/>
<rect x="1241.2" y="100.54" width="9.2" height="9.2" fill="#00ff00"/>
<rect x="1290.56" y="82.48" width="9.2" height="9.2" fill="#00ff00"/>
<rect x="1350.88" y="81.68" width="9.2" height="9.2" fill="#00ff00"/>
<rect x="1426.29" y="81.68" width="9.2" height="9.2" fill="#00ff00"/>
<rect x="1515.4" y="81.68" width="9.2" height="9.2" fill="#00ff00"/>
<polyline points="971.6,487.55 972.58,487.55 973.56,487.55 974.54,487.55 975.52,487.55 976.5,487.55 977.48,487.55 978.46,487.55 979.43,487.55 980.41,487.55 981.39,487.55 982.37,487.55 983.35,487.55 984.33,487.55 985.31,487.55 986.29,487.55 987.27,487.55 988.25,487.55 989.23,487.55 990.21,487.55 991.19,487.55 992.17,487.55 993.14,487.55 994.12,487.55 995.1,487.55 996.08,487.55 997.06,487.55 998.04,487.55 999.02,487.55 1000,487.55 1000.98,487.55 1001.96,487.55 1002.94,487.55 1003.92,487.55 1004.9,487.55 1005.88,487.55 1006.85,487.55 1007.83,487.55 1008.81,487.55 1009.79,487.55 1010.77,487.55 1011.75,487.55 1012.73,487.55 1013.71,487.55 1014.69,487.55 1015.67,487.55 1016.65,487.54 1017.63,487.54 1018.61,487.54 1019.59,487.54 1020.56,487.54 1021.54,487.54 1022.52,487.54 1023.5,487.54 1024.48,487.54 1025.46,487.53 1026.44,487.53 1027.42,487.53 1028.4,487.53 1029.38,487.52 1030.36,487.52 1031.34,487.52 1032.32,487.51 1033.3,487.51 1034.27,487.51 1035.25,487.5 1036.23,487.5 1037.21,487.49 1038.19,487.49 1039.17,487.48 1040.15,487.47 1041.13,487.47 1042.11,487.46 1043.09,487.45 1044.07,487.44 1045.05,487.43 1046.03,487.42 1047.01,487.41 1047.98,487.4 1048.96,487.38 1049.94,487.37 1050.92,487.35 1051.9,487.34 1052.88,487.32 1053.86,487.3 1054.84,487.28 1055.82,487.26 1056.8,487.24 1057.78,487.22 1058.76,487.19 1059.74,487.17 1060.71,487.14 1061.69,487.11 1062.67,487.08 1063.65,487.04 1064.63,487.01 1065.61,486.97 1066.59,486.93 1067.57,486.89 1068.55,486.84 1069.53,486.8 1070.51,486.75 1071.49,486.69 1072.47,486.64 1073.45,486.58 1074.42,486.52 1075.4,486.45 1076.38,486.39 1077.36,486.32 1078.34,486.24 1079.32,486.16 1080.3,486.08 1081.28,485.99 1082.26,485.9 1083.24,485.81 1084.22,485.71 1085.2,485.6 1086.18,485.49 1087.16,485.38 1088.13,485.25 1089.11,485.13 1090.09,485 1091.07,484.86 1092.05,484.72 1093.03,484.56 1094.01,484.41 1094.99,484.24 1095.97,484.07 1096.95,483.89 1097.93,483.71 1098.91,483.51 1099.89,483.31 1100.87,483.1 1101.85,482.88 1102.82,482.66 1103.8,482.42 1104.78,482.17 1105.76,481.92 1106.74,481.65 1107.72,481.37 1108.7,481.08 1109.68,480.78 1110.66,480.47 1111.64,480.15 1112.62,479.82 1113.6,479.47 1114.58,479.11 1115.56,478.74 1116.53,478.35 1117.51,477.95 1118.49,477.53 1119.47,477.11 1120.45,476.66 1121.43,476.2 1122.41,475.72 1123.39,475.23 1124.37,474.72 1125.35,474.19 1126.33,473.65 1127.31,473.09 1128.29,472.5 1129.27,471.9 1130.24,471.28 1131.22,470.64 1132.2,469.98 1133.18,469.3 1134.16,468.6 1135.14,467.87 1136.12,467.13 1137.1,466.36 1138.08,465.56 1139.06,464.75 1140.04,463.9 1141.02,463.04 1142,462.15 1142.98,461.23 1143.95,460.28 1144.93,459.31 1145.91,458.31 1146.89,457.29 1147.87,456.23 1148.85,455.15 1149.83,454.03 1150.81,452.89 1151.79,451.71 1152.77,450.51 1153.75,449.27 1154.73,448 1155.71,446.7 1156.68,445.36 1157.66,444 1158.64,442.59 1159.62,441.16 1160.6,439.68 1161.58,438.18 1162.56,436.63 1163.54,435.05 1164.52,433.44 1165.5,431.78 1166.48,430.09 1167.46,428.36 1168.44,426.59 1169.42,424.79 1170.39,422.94 1171.37,421.06 1172.35,419.13 1173.33,417.17 1174.31,415.16 1175.29,413.12 1176.27,411.03 1177.25,408.91 1178.23,406.74 1179.21,404.53 1180.19,402.28 1181.17,399.99 1182.15,397.66 1183.13,395.28 1184.11,392.87 1185.08,390.41 1186.06,387.92 1187.04,385.38 1188.02,382.8 1189,380.18 1189.98,377.52 1190.96,374.81 1191.94,372.07 1192.92,369.29 1193.9,366.47 1194.88,363.61 1195.86,360.72 1196.84,357.78 1197.82,354.81 1198.79,351.8 1199.77,348.75 1200.75,345.67 1201.73,342.56 1202.71,339.41 1203.69,336.23 1204.67,333.01 1205.65,329.77 1206.63,326.49 1207.61,323.19 1208.59,319.85 1209.57,316.5 1210.55,313.11 1211.53,309.7 1212.5,306.27 1213.48,302.82 1214.46,299.34 1215.44,295.85 1216.42,292.34 1217.4,288.81 1218.38,285.27 1219.36,281.71 1220.34,278.15 1221.32,274.57 1222.3,270.99 1223.28,267.4 1224.26,263.81 1225.24,260.21 1226.21,256.62 1227.19,253.02 1228.17,249.43 1229.15,245.84 1230.13,242.26 1231.11,238.69 1232.09,235.13 1233.07,231.58 1234.05,228.04 1235.03,224.53 1236.01,221.03 1236.99,217.55 1237.97,214.09 1238.95,210.66 1239.92,207.25 1240.9,203.88 1241.88,200.53 1242.86,197.21 1243.84,193.93 1244.82,190.68 1245.8,187.48 1246.78,184.3 1247.76,181.17 1248.74,178.09 1249.72,175.04 1250.7,172.04 1251.68,169.09 1252.65,166.19 1253.63,163.33 1254.61,160.53 1255.59,157.78 1256.57,155.08 1257.55,152.43 1258.53,149.84 1259.51,147.31 1260.49,144.83 1261.47,142.41 1262.45,140.05 1263.43,137.75 1264.41,135.5 1265.39,133.32 1266.37,131.19 1267.34,129.13 1268.32,127.12 1269.3,125.18 1270.28,123.29 1271.26,121.47 1272.24,119.7 1273.22,117.99 1274.2,116.35 1275.18,114.76 1276.16,113.23 1277.14,111.75 1278.12,110.34 1279.1,108.98 1280.08,107.67 1281.05,106.42 1282.03,105.22 1283.01,104.08 1283.99,102.98 1284.97,101.94 1285.95,100.94 1286.93,99.99 1287.91,99.09 1288.89,98.23 1289.87,97.42 1290.85,96.65 1291.83,95.92 1292.81,95.23 1293.79,94.58 1294.76,93.97 1295.74,93.39 1296.72,92.85 1297.7,92.34 1298.68,91.86 1299.66,91.41 1300.64,91 1301.62,90.6 1302.6,90.24 1303.58,89.9 1304.56,89.58 1305.54,89.29 1306.52,89.02 1307.5,88.77 1308.47,88.53 1309.45,88.32 1310.43,88.12 1311.41,87.94 1312.39,87.77 1313.37,87.62 1314.35,87.48 1315.33,87.35 1316.31,87.23 1317.29,87.12 1318.27,87.03 1319.25,86.94 1320.23,86.86 1321.2,86.79 1322.18,86.72 1323.16,86.66 1324.14,86.61 1325.12,86.56 1326.1,86.52 1327.08,86.48 1328.06,86.45 1329.04,86.42 1330.02,86.39 1331,86.37 1331.98,86.34 1332.96,86.33 1333.94,86.31 1334.91,86.29 1335.89,86.28 1336.87,86.27 1337.85,86.26 1338.83,86.25 1339.81,86.24 1340.79,86.24 1341.77,86.23 1342.75,86.23 1343.73,86.22 1344.71,86.22 1345.69,86.22 1346.67,86.21 1347.65,86.21 1348.62,86.21 1349.6,86.21 1350.58,86.21 1351.56,86.21 1352.54,86.2 1353.52,86.2 1354.5,86.2 1355.48,86.2 1356.46,86.2 1357.44,86.2 1358.42,86.2 1359.4,86.2 1360.38,86.2 1361.36,86.2 1362.34,86.2" fill="none" stroke="#2a2a2a" stroke-width="1.25"/>
<polyline points="971.6,487.55 972.58,487.55 973.56,487.55 974.54,487.55 975.52,487.55 976.5,487.55 977.48,487.55 978.46,487.55 979.43,487.55 980.41,487.55 981.39,487.55 982.37,487.55 983.35,487.55 984.33,487.55 985.31,487.55 986.29,487.55 987.27,487.55 988.25,487.55 989.23,487.55 990.21,487.55 991.19,487.55 992.17,487.55 993.14,487.55 994.12,487.55 995.1,487.54 996.08,487.54 997.06,487.54 998.04,487.54 999.02,487.54 1000,487.54 1000.98,487.53 1001.96,487.53 1002.94,487.53 1003.92,487.52 1004.9,487.52 1005.88,487.52 1006.85,487.51 1007.83,487.51 1008.81,487.5 1009.79,487.49 1010.77,487.49 1011.75,487.48 1012.73,487.47 1013.71,487.46 1014.69,487.45 1015.67,487.44 1016.65,487.43 1017.63,487.41 1018.61,487.4 1019.59,487.38 1020.56,487.37 1021.54,487.35 1022.52,487.33 1023.5,487.31 1024.48,487.29 1025.46,487.26 1026.44,487.24 1027.42,487.21 1028.4,487.18 1029.38,487.15 1030.36,487.12 1031.34,487.08 1032.32,487.04 1033.3,487 1034.27,486.96 1035.25,486.92 1036.23,486.87 1037.21,486.82 1038.19,486.76 1039.17,486.71 1040.15,486.65 1041.13,486.58 1042.11,486.52 1043.09,486.45 1044.07,486.37 1045.05,486.3 1046.03,486.22 1047.01,486.13 1047.98,486.04 1048.96,485.95 1049.94,485.85 1050.92,485.74 1051.9,485.64 1052.88,485.52 1053.86,485.4 1054.84,485.28 1055.82,485.15 1056.8,485.01 1057.78,484.87 1058.76,484.72 1059.74,484.57 1060.71,484.41 1061.69,484.24 1062.67,484.07 1063.65,483.89 1064.63,483.7 1065.61,483.51 1066.59,483.3 1067.57,483.09 1068.55,482.87 1069.53,482.64 1070.51,482.41 1071.49,482.16 1072.47,481.91 1073.45,481.64 1074.42,481.37 1075.4,481.09 1076.38,480.79 1077.36,480.49 1078.34,480.18 1079.32,479.85 1080.3,479.52 1081.28,479.17 1082.26,478.81 1083.24,478.44 1084.22,478.06 1085.2,477.67 1086.18,477.26 1087.16,476.84 1088.13,476.41 1089.11,475.96 1090.09,475.5 1091.07,475.03 1092.05,474.54 1093.03,474.04 1094.01,473.52 1094.99,472.99 1095.97,472.44 1096.95,471.87 1097.93,471.29 1098.91,470.7 1099.89,470.09 1100.87,469.46 1101.85,468.81 1102.82,468.15 1103.8,467.47 1104.78,466.77 1105.76,466.05 1106.74,465.31 1107.72,464.56 1108.7,463.78 1109.68,462.99 1110.66,462.18 1111.64,461.34 1112.62,460.49 1113.6,459.62 1114.58,458.72 1115.56,457.81 1116.53,456.87 1117.51,455.91 1118.49,454.93 1119.47,453.93 1120.45,452.9 1121.43,451.85 1122.41,450.78 1123.39,449.69 1124.37,448.57 1125.35,447.43 1126.33,446.26 1127.31,445.07 1128.29,443.86 1129.27,442.62 1130.24,441.35 1131.22,440.06 1132.2,438.75 1133.18,437.41 1134.16,436.05 1135.14,434.65 1136.12,433.24 1137.1,431.79 1138.08,430.33 1139.06,428.83 1140.04,427.31 1141.02,425.76 1142,424.18 1142.98,422.58 1143.95,420.95 1144.93,419.29 1145.91,417.61 1146.89,415.9 1147.87,414.16 1148.85,412.4 1149.83,410.6 1150.81,408.79 1151.79,406.94 1152.77,405.06 1153.75,403.16 1154.73,401.23 1155.71,399.28 1156.68,397.3 1157.66,395.29 1158.64,393.25 1159.62,391.19 1160.6,389.1 1161.58,386.98 1162.56,384.84 1163.54,382.67 1164.52,380.48 1165.5,378.26 1166.48,376.01 1167.46,373.74 1168.44,371.45 1169.42,369.13 1170.39,366.79 1171.37,364.42 1172.35,362.03 1173.33,359.61 1174.31,357.18 1175.29,354.72 1176.27,352.24 1177.25,349.74 1178.23,347.21 1179.21,344.67 1180.19,342.1 1181.17,339.52 1182.15,336.92 1183.13,334.3 1184.11,331.66 1185.08,329 1186.06,326.33 1187.04,323.64 1188.02,320.93 1189,318.21 1189.98,315.48 1190.96,312.73 1191.94,309.97 1192.92,307.2 1193.9,304.42 1194.88,301.63 1195.86,298.82 1196.84,296.01 1197.82,293.19 1198.79,290.36 1199.77,287.53 1200.75,284.68 1201.73,281.84 1202.71,278.99 1203.69,276.14 1204.67,273.28 1205.65,270.42 1206.63,267.57 1207.61,264.71 1208.59,261.85 1209.57,259 1210.55,256.15 1211.53,253.3 1212.5,250.46 1213.48,247.62 1214.46,244.79 1215.44,241.97 1216.42,239.15 1217.4,236.35 1218.38,233.55 1219.36,230.77 1220.34,228 1221.32,225.24 1222.3,222.5 1223.28,219.77 1224.26,217.05 1225.24,214.35 1226.21,211.67 1227.19,209.01 1228.17,206.37 1229.15,203.75 1230.13,201.14 1231.11,198.56 1232.09,196 1233.07,193.47 1234.05,190.96 1235.03,188.47 1236.01,186.01 1236.99,183.57 1237.97,181.16 1238.95,178.78 1239.92,176.43 1240.9,174.1 1241.88,171.81 1242.86,169.54 1243.84,167.3 1244.82,165.1 1245.8,162.92 1246.78,160.78 1247.76,158.67 1248.74,156.59 1249.72,154.55 1250.7,152.54 1251.68,150.56 1252.65,148.62 1253.63,146.71 1254.61,144.83 1255.59,142.99 1256.57,141.19 1257.55,139.41 1258.53,137.68 1259.51,135.98 1260.49,134.31 1261.47,132.69 1262.45,131.09 1263.43,129.53 1264.41,128.01 1265.39,126.52 1266.37,125.07 1267.34,123.65 1268.32,122.27 1269.3,120.92 1270.28,119.61 1271.26,118.33 1272.24,117.08 1273.22,115.87 1274.2,114.69 1275.18,113.55 1276.16,112.44 1277.14,111.36 1278.12,110.31 1279.1,109.29 1280.08,108.31 1281.05,107.36 1282.03,106.43 1283.01,105.54 1283.99,104.68 1284.97,103.84 1285.95,103.04 1286.93,102.26 1287.91,101.51 1288.89,100.79 1289.87,100.09 1290.85,99.42 1291.83,98.77 1292.81,98.15 1293.79,97.55 1294.76,96.98 1295.74,96.43 1296.72,95.9 1297.7,95.39 1298.68,94.91 1299.66,94.44 1300.64,93.99 1301.62,93.57 1302.6,93.16 1303.58,92.77 1304.56,92.4 1305.54,92.05 1306.52,91.71 1307.5,91.39 1308.47,91.09 1309.45,90.79 1310.43,90.52 1311.41,90.26 1312.39,90.01 1313.37,89.77 1314.35,89.55 1315.33,89.33 1316.31,89.13 1317.29,88.94 1318.27,88.76 1319.25,88.6 1320.23,88.44 1321.2,88.29 1322.18,88.14 1323.16,88.01 1324.14,87.88 1325.12,87.77 1326.1,87.65 1327.08,87.55 1328.06,87.45 1329.04,87.36 1330.02,87.28 1331,87.2 1331.98,87.12 1332.96,87.05 1333.94,86.99 1334.91,86.92 1335.89,86.87 1336.87,86.82 1337.85,86.77 1338.83,86.72 1339.81,86.68 1340.79,86.64 1341.77,86.6 1342.75,86.57 1343.73,86.54 1344.71,86.51 1345.69,86.48 1346.67,86.46 1347.65,86.44 1348.62,86.41 1349.6,86.4 1350.58,86.38 1351.56,86.36 1352.54,86.35 1353.52,86.33 1354.5,86.32 1355.48,86.31 1356.46,86.3 1357.44,86.29 1358.42,86.28 1359.4,86.27 1360.38,86.27 1361.36,86.26 1362.34,86.25" fill="none" stroke="#ff2a2a" stroke-width="1.25"/>
<polyline points="971.6,487.55 972.6,487.55 973.59,487.55 974.59,487.55 975.59,487.55 976.58,487.55 977.58,487.55 978.58,487.55 979.57,487.55 980.57,487.54 981.56,487.54 982.56,487.54 983.56,487.54 984.55,487.53 985.55,487.53 986.55,487.52 987.54,487.51 988.54,487.5 989.54,487.49 990.53,487.48 991.53,487.47 992.53,487.45 993.52,487.43 994.52,487.41 995.52,487.39 996.51,487.37 997.51,487.34 998.5,487.31 999.5,487.28 1000.5,487.25 1001.49,487.21 1002.49,487.17 1003.49,487.12 1004.48,487.08 1005.48,487.03 1006.48,486.97 1007.47,486.91 1008.47,486.85 1009.47,486.78 1010.46,486.71 1011.46,486.63 1012.46,486.55 1013.45,486.46 1014.45,486.36 1015.44,486.27 1016.44,486.16 1017.44,486.05 1018.43,485.94 1019.43,485.81 1020.43,485.69 1021.42,485.55 1022.42,485.41 1023.42,485.26 1024.41,485.1 1025.41,484.94 1026.41,484.77 1027.4,484.59 1028.4,484.4 1029.4,484.21 1030.39,484.01 1031.39,483.79 1032.38,483.57 1033.38,483.34 1034.38,483.1 1035.37,482.86 1036.37,482.6 1037.37,482.33 1038.36,482.05 1039.36,481.76 1040.36,481.46 1041.35,481.16 1042.35,480.84 1043.35,480.5 1044.34,480.16 1045.34,479.81 1046.33,479.44 1047.33,479.06 1048.33,478.67 1049.32,478.27 1050.32,477.86 1051.32,477.43 1052.31,476.99 1053.31,476.54 1054.31,476.07 1055.3,475.59 1056.3,475.1 1057.3,474.59 1058.29,474.07 1059.29,473.53 1060.29,472.98 1061.28,472.42 1062.28,471.83 1063.27,471.24 1064.27,470.63 1065.27,470 1066.26,469.36 1067.26,468.7 1068.26,468.03 1069.25,467.34 1070.25,466.63 1071.25,465.91 1072.24,465.17 1073.24,464.42 1074.24,463.64 1075.23,462.85 1076.23,462.05 1077.23,461.22 1078.22,460.38 1079.22,459.52 1080.21,458.64 1081.21,457.75 1082.21,456.83 1083.2,455.9 1084.2,454.95 1085.2,453.98 1086.19,452.99 1087.19,451.98 1088.19,450.96 1089.18,449.91 1090.18,448.85 1091.18,447.77 1092.17,446.67 1093.17,445.54 1094.17,444.4 1095.16,443.24 1096.16,442.06 1097.15,440.87 1098.15,439.65 1099.15,438.41 1100.14,437.15 1101.14,435.87 1102.14,434.58 1103.13,433.26 1104.13,431.92 1105.13,430.57 1106.12,429.19 1107.12,427.79 1108.12,426.38 1109.11,424.94 1110.11,423.49 1111.11,422.01 1112.1,420.52 1113.1,419 1114.09,417.47 1115.09,415.91 1116.09,414.34 1117.08,412.75 1118.08,411.14 1119.08,409.51 1120.07,407.86 1121.07,406.19 1122.07,404.5 1123.06,402.79 1124.06,401.07 1125.06,399.32 1126.05,397.56 1127.05,395.78 1128.05,393.98 1129.04,392.17 1130.04,390.33 1131.03,388.48 1132.03,386.62 1133.03,384.73 1134.02,382.83 1135.02,380.91 1136.02,378.97 1137.01,377.02 1138.01,375.05 1139.01,373.07 1140,371.07 1141,369.06 1142,367.03 1142.99,364.98 1143.99,362.93 1144.99,360.85 1145.98,358.77 1146.98,356.67 1147.97,354.56 1148.97,352.43 1149.97,350.29 1150.96,348.14 1151.96,345.98 1152.96,343.81 1153.95,341.62 1154.95,339.42 1155.95,337.22 1156.94,335 1157.94,332.78 1158.94,330.54 1159.93,328.3 1160.93,326.04 1161.93,323.78 1162.92,321.51 1163.92,319.24 1164.91,316.96 1165.91,314.67 1166.91,312.37 1167.9,310.07 1168.9,307.76 1169.9,305.45 1170.89,303.14 1171.89,300.82 1172.89,298.49 1173.88,296.17 1174.88,293.84 1175.88,291.51 1176.87,289.18 1177.87,286.85 1178.86,284.51 1179.86,282.18 1180.86,279.84 1181.85,277.51 1182.85,275.18 1183.85,272.85 1184.84,270.52 1185.84,268.19 1186.84,265.87 1187.83,263.55 1188.83,261.23 1189.83,258.92 1190.82,256.62 1191.82,254.31 1192.82,252.02 1193.81,249.73 1194.81,247.45 1195.8,245.17 1196.8,242.9 1197.8,240.64 1198.79,238.39 1199.79,236.14 1200.79,233.91 1201.78,231.69 1202.78,229.47 1203.78,227.27 1204.77,225.08 1205.77,222.89 1206.77,220.72 1207.76,218.57 1208.76,216.42 1209.76,214.29 1210.75,212.17 1211.75,210.07 1212.74,207.97 1213.74,205.9 1214.74,203.84 1215.73,201.79 1216.73,199.76 1217.73,197.74 1218.72,195.74 1219.72,193.76 1220.72,191.79 1221.71,189.84 1222.71,187.91 1223.71,185.99 1224.7,184.1 1225.7,182.22 1226.7,180.36 1227.69,178.51 1228.69,176.69 1229.68,174.88 1230.68,173.1 1231.68,171.33 1232.67,169.59 1233.67,167.86 1234.67,166.15 1235.66,164.47 1236.66,162.8 1237.66,161.15 1238.65,159.53 1239.65,157.92 1240.65,156.34 1241.64,154.78 1242.64,153.23 1243.64,151.71 1244.63,150.21 1245.63,148.73 1246.62,147.28 1247.62,145.84 1248.62,144.43 1249.61,143.03 1250.61,141.66 1251.61,140.31 1252.6,138.98 1253.6,137.67 1254.6,136.39 1255.59,135.12 1256.59,133.88 1257.59,132.65 1258.58,131.45 1259.58,130.27 1260.58,129.11 1261.57,127.97 1262.57,126.86 1263.56,125.76 1264.56,124.68 1265.56,123.63 1266.55,122.59 1267.55,121.58 1268.55,120.58 1269.54,119.61 1270.54,118.66 1271.54,117.72 1272.53,116.8 1273.53,115.91 1274.53,115.03 1275.52,114.17 1276.52,113.34 1277.52,112.51 1278.51,111.71 1279.51,110.93 1280.5,110.16 1281.5,109.42 1282.5,108.69 1283.49,107.97 1284.49,107.28 1285.49,106.6 1286.48,105.94 1287.48,105.29 1288.48,104.66 1289.47,104.05 1290.47,103.45 1291.47,102.87 1292.46,102.31 1293.46,101.76 1294.46,101.22 1295.45,100.7 1296.45,100.19 1297.44,99.7 1298.44,99.22 1299.44,98.75 1300.43,98.3 1301.43,97.86 1302.43,97.43 1303.42,97.02 1304.42,96.62 1305.42,96.23 1306.41,95.85 1307.41,95.48 1308.41,95.13 1309.4,94.79 1310.4,94.45 1311.39,94.13 1312.39,93.82 1313.39,93.52 1314.38,93.23 1315.38,92.94 1316.38,92.67 1317.37,92.41 1318.37,92.15 1319.37,91.91 1320.36,91.67 1321.36,91.44 1322.36,91.22 1323.35,91.01 1324.35,90.8 1325.35,90.6 1326.34,90.41 1327.34,90.23 1328.33,90.05 1329.33,89.88 1330.33,89.72 1331.32,89.56 1332.32,89.41 1333.32,89.26 1334.31,89.12 1335.31,88.99 1336.31,88.86 1337.3,88.74 1338.3,88.62 1339.3,88.5 1340.29,88.39 1341.29,88.29 1342.29,88.19 1343.28,88.09 1344.28,88 1345.27,87.91 1346.27,87.83 1347.27,87.74 1348.26,87.67 1349.26,87.59 1350.26,87.52 1351.25,87.45 1352.25,87.39 1353.25,87.33 1354.24,87.27 1355.24,87.21 1356.24,87.16 1357.23,87.11 1358.23,87.06 1359.23,87.02 1360.22,86.97 1361.22,86.93 1362.21,86.89 1363.21,86.85 1364.21,86.82 1365.2,86.78 1366.2,86.75 1367.2,86.72 1368.19,86.69 1369.19,86.66" fill="none" stroke="#2a2aff" stroke-width="1.25"/>
<polyline points="971.6,487.55 972.97,487.55 974.35,487.55 975.72,487.55 977.1,487.54 978.47,487.54 979.85,487.53 981.22,487.52 982.6,487.5 983.97,487.48 985.34,487.45 986.72,487.42 988.09,487.38 989.47,487.34 990.84,487.28 992.22,487.22 993.59,487.14 994.97,487.06 996.34,486.97 997.71,486.86 999.09,486.75 1000.46,486.62 1001.84,486.47 1003.21,486.31 1004.59,486.14 1005.96,485.96 1007.34,485.75 1008.71,485.53 1010.08,485.29 1011.46,485.04 1012.83,484.77 1014.21,484.47 1015.58,484.16 1016.96,483.82 1018.33,483.47 1019.71,483.09 1021.08,482.69 1022.45,482.27 1023.83,481.82 1025.2,481.35 1026.58,480.85 1027.95,480.33 1029.33,479.78 1030.7,479.21 1032.08,478.6 1033.45,477.97 1034.82,477.31 1036.2,476.63 1037.57,475.91 1038.95,475.16 1040.32,474.38 1041.7,473.57 1043.07,472.73 1044.45,471.86 1045.82,470.95 1047.19,470.01 1048.57,469.04 1049.94,468.03 1051.32,466.99 1052.69,465.91 1054.07,464.8 1055.44,463.65 1056.82,462.47 1058.19,461.25 1059.56,459.99 1060.94,458.7 1062.31,457.37 1063.69,456 1065.06,454.6 1066.44,453.15 1067.81,451.67 1069.18,450.15 1070.56,448.6 1071.93,447 1073.31,445.37 1074.68,443.7 1076.06,441.98 1077.43,440.23 1078.81,438.45 1080.18,436.62 1081.55,434.75 1082.93,432.85 1084.3,430.91 1085.68,428.93 1087.05,426.91 1088.43,424.85 1089.8,422.76 1091.18,420.62 1092.55,418.45 1093.92,416.25 1095.3,414 1096.67,411.72 1098.05,409.41 1099.42,407.06 1100.8,404.67 1102.17,402.25 1103.55,399.8 1104.92,397.31 1106.29,394.78 1107.67,392.23 1109.04,389.64 1110.42,387.02 1111.79,384.37 1113.17,381.7 1114.54,378.99 1115.92,376.25 1117.29,373.48 1118.66,370.69 1120.04,367.87 1121.41,365.02 1122.79,362.15 1124.16,359.26 1125.54,356.34 1126.91,353.4 1128.29,350.44 1129.66,347.46 1131.03,344.46 1132.41,341.44 1133.78,338.4 1135.16,335.35 1136.53,332.28 1137.91,329.19 1139.28,326.1 1140.66,322.99 1142.03,319.86 1143.4,316.73 1144.78,313.59 1146.15,310.44 1147.53,307.29 1148.9,304.13 1150.28,300.96 1151.65,297.79 1153.03,294.62 1154.4,291.44 1155.77,288.27 1157.15,285.09 1158.52,281.92 1159.9,278.75 1161.27,275.59 1162.65,272.43 1164.02,269.28 1165.4,266.13 1166.77,263 1168.14,259.87 1169.52,256.76 1170.89,253.66 1172.27,250.57 1173.64,247.49 1175.02,244.43 1176.39,241.39 1177.77,238.36 1179.14,235.35 1180.51,232.36 1181.89,229.39 1183.26,226.44 1184.64,223.52 1186.01,220.62 1187.39,217.74 1188.76,214.88 1190.14,212.05 1191.51,209.25 1192.88,206.48 1194.26,203.73 1195.63,201.01 1197.01,198.32 1198.38,195.66 1199.76,193.03 1201.13,190.44 1202.51,187.87 1203.88,185.34 1205.25,182.84 1206.63,180.37 1208,177.94 1209.38,175.55 1210.75,173.18 1212.13,170.86 1213.5,168.56 1214.88,166.31 1216.25,164.09 1217.62,161.91 1219,159.76 1220.37,157.65 1221.75,155.58 1223.12,153.55 1224.5,151.55 1225.87,149.6 1227.25,147.67 1228.62,145.79 1229.99,143.95 1231.37,142.14 1232.74,140.37 1234.12,138.64 1235.49,136.94 1236.87,135.28 1238.24,133.66 1239.62,132.08 1240.99,130.53 1242.36,129.02 1243.74,127.55 1245.11,126.11 1246.49,124.71 1247.86,123.34 1249.24,122.01 1250.61,120.71 1251.98,119.45 1253.36,118.22 1254.73,117.03 1256.11,115.87 1257.48,114.74 1258.86,113.64 1260.23,112.58 1261.61,111.54 1262.98,110.54 1264.35,109.57 1265.73,108.63 1267.1,107.71 1268.48,106.83 1269.85,105.97 1271.23,105.15 1272.6,104.35 1273.98,103.57 1275.35,102.83 1276.72,102.1 1278.1,101.41 1279.47,100.73 1280.85,100.09 1282.22,99.46 1283.6,98.86 1284.97,98.28 1286.35,97.72 1287.72,97.18 1289.09,96.66 1290.47,96.17 1291.84,95.69 1293.22,95.23 1294.59,94.79 1295.97,94.37 1297.34,93.96 1298.72,93.58 1300.09,93.2 1301.46,92.85 1302.84,92.51 1304.21,92.18 1305.59,91.87 1306.96,91.57 1308.34,91.29 1309.71,91.02 1311.09,90.76 1312.46,90.51 1313.83,90.27 1315.21,90.05 1316.58,89.83 1317.96,89.63 1319.33,89.44 1320.71,89.25 1322.08,89.08 1323.46,88.91 1324.83,88.75 1326.2,88.6 1327.58,88.46 1328.95,88.32 1330.33,88.2 1331.7,88.08 1333.08,87.96 1334.45,87.85 1335.83,87.75 1337.2,87.65 1338.57,87.56 1339.95,87.47 1341.32,87.39 1342.7,87.32 1344.07,87.24 1345.45,87.18 1346.82,87.11 1348.2,87.05 1349.57,86.99 1350.94,86.94 1352.32,86.89 1353.69,86.84 1355.07,86.8 1356.44,86.76 1357.82,86.72 1359.19,86.68 1360.57,86.65 1361.94,86.62 1363.31,86.59 1364.69,86.56 1366.06,86.53 1367.44,86.51 1368.81,86.49 1370.19,86.46 1371.56,86.44 1372.94,86.43 1374.31,86.41 1375.68,86.39 1377.06,86.38 1378.43,86.36 1379.81,86.35 1381.18,86.34 1382.56,86.33 1383.93,86.32 1385.31,86.31 1386.68,86.3 1388.05,86.29 1389.43,86.28 1390.8,86.28 1392.18,86.27 1393.55,86.27 1394.93,86.26 1396.3,86.25 1397.68,86.25 1399.05,86.25 1400.42,86.24 1401.8,86.24 1403.17,86.23 1404.55,86.23 1405.92,86.23 1407.3,86.23 1408.67,86.22 1410.05,86.22 1411.42,86.22 1412.79,86.22 1414.17,86.22 1415.54,86.21 1416.92,86.21 1418.29,86.21 1419.67,86.21 1421.04,86.21 1422.42,86.21 1423.79,86.21 1425.16,86.21 1426.54,86.21 1427.91,86.21 1429.29,86.21 1430.66,86.2 1432.04,86.2 1433.41,86.2 1434.78,86.2 1436.16,86.2 1437.53,86.2 1438.91,86.2 1440.28,86.2 1441.66,86.2 1443.03,86.2 1444.41,86.2 1445.78,86.2 1447.15,86.2 1448.53,86.2 1449.9,86.2 1451.28,86.2 1452.65,86.2 1454.03,86.2 1455.4,86.2 1456.78,86.2 1458.15,86.2 1459.52,86.2 1460.9,86.2 1462.27,86.2 1463.65,86.2 1465.02,86.2 1466.4,86.2 1467.77,86.2 1469.15,86.2 1470.52,86.2 1471.89,86.2 1473.27,86.2 1474.64,86.2 1476.02,86.2 1477.39,86.2 1478.77,86.2 1480.14,86.2 1481.52,86.2 1482.89,86.2 1484.26,86.2 1485.64,86.2 1487.01,86.2 1488.39,86.2 1489.76,86.2 1491.14,86.2 1492.51,86.2 1493.89,86.2 1495.26,86.2 1496.63,86.2 1498.01,86.2 1499.38,86.2 1500.76,86.2 1502.13,86.2 1503.51,86.2 1504.88,86.2 1506.26,86.2 1507.63,86.2 1509,86.2 1510.38,86.2 1511.75,86.2 1513.13,86.2 1514.5,86.2 1515.88,86.2 1517.25,86.2 1518.63,86.2 1520,86.2" fill="none" stroke="#2aff2a" stroke-width="1.25"/>
</g>
<g style="font-family:'Liberation Sans',Arial,sans-serif;font-size:23px" fill="#1a1a1a">
<text x="957.1" y="495.75" text-anchor="end">0</text>
<text x="957.1" y="415.48" text-anchor="end">20</text>
<text x="957.1" y="335.21" text-anchor="end">40</text>
<text x="957.1" y="254.94" text-anchor="end">60</text>
<text x="957.1" y="174.67" text-anchor="end">80</text>
<text x="957.1" y="94.4" text-anchor="end">100</text>
<text x="971.6" y="522.05" text-anchor="middle">0</text>
<text x="1245.8" y="522.05" text-anchor="middle">2</text>
<text x="1520" y="522.05" text-anchor="middle">4</text>
<text transform="translate(909.7,266.81) rotate(-90)" text-anchor="middle" style="font-size:26px">Q3 (%)</text>
<text x="1246.2" y="562.8" text-anchor="middle" style="font-size:25px;letter-spacing:0.3px">x (mm)</text>
</g>
<rect x="1381.6" y="354.2" width="151.4" height="116.4" fill="#fff" stroke="#666" stroke-width="1.2"/>
<g style="font-family:'Liberation Sans',Arial,sans-serif;font-size:22.5px" fill="#1a1a1a">
<rect x="1404.4" y="364.8" width="10" height="10" fill="#000000"/>
<text x="1442.1" y="377.3">conf 1.1</text>
<rect x="1404.4" y="393.4" width="10" height="10" fill="#ff0000"/>
<text x="1442.1" y="405.9">conf. 1.2</text>
<rect x="1404.4" y="422" width="10" height="10" fill="#0000ff"/>
<text x="1442.1" y="434.5">conf 1.3</text>
<rect x="1404.4" y="450.6" width="10" height="10" fill="#00ff00"/>
<text x="1442.1" y="463.1">conf 1.4</text>
</g>
<g stroke="#1a1a1a" stroke-width="1.5" fill="none">
<line x1="100.4" y1="1076.55" x2="100.4" y2="603.7"/>
<line x1="92.4" y1="1076.55" x2="678" y2="1076.55"/>
<line x1="92.4" y1="1076.55" x2="100.4" y2="1076.55"/>
<line x1="92.4" y1="993.46" x2="100.4" y2="993.46"/>
<line x1="92.4" y1="910.37" x2="100.4" y2="910.37"/>
<line x1="92.4" y1="827.28" x2="100.4" y2="827.28"/>
<line x1="92.4" y1="744.19" x2="100.4" y2="744.19"/>
<line x1="92.4" y1="661.1" x2="100.4" y2="661.1"/>
<line x1="96.4" y1="1035" x2="100.4" y2="1035"/>
<line x1="96.4" y1="951.91" x2="100.4" y2="951.91"/>
<line x1="96.4" y1="868.82" x2="100.4" y2="868.82"/>
<line x1="96.4" y1="785.73" x2="100.4" y2="785.73"/>
<line x1="96.4" y1="702.64" x2="100.4" y2="702.64"/>
<line x1="96.4" y1="619.56" x2="100.4" y2="619.56"/>
<line x1="100.4" y1="1076.55" x2="100.4" y2="1085.05"/>
<line x1="327.4" y1="1076.55" x2="327.4" y2="1085.05"/>
<line x1="554.4" y1="1076.55" x2="554.4" y2="1085.05"/>
<line x1="213.9" y1="1076.55" x2="213.9" y2="1081.05"/>
<line x1="440.9" y1="1076.55" x2="440.9" y2="1081.05"/>
<line x1="667.9" y1="1076.55" x2="667.9" y2="1081.05"/>
</g>
<path d="M100.4,598.1 L105.9,609.5 L100.4,606.1 L94.9,609.5 Z" fill="#1a1a1a" stroke="#1a1a1a" stroke-width="0.8" stroke-linejoin="round"/>
<path d="M683.6,1076.55 L672.2,1071.05 L675.6,1076.55 L672.2,1082.05 Z" fill="#1a1a1a" stroke="#1a1a1a" stroke-width="0.8" stroke-linejoin="round"/>
<clipPath id="cP3"><rect x="100.4" y="611.25" width="567.5" height="466.3"/></clipPath>
<g clip-path="url(#cP3)">
<rect x="152.55" y="1069.46" width="9.2" height="9.2" fill="#000000"/>
<rect x="163.9" y="1059.49" width="9.2" height="9.2" fill="#000000"/>
<rect x="176.39" y="1048.68" width="9.2" height="9.2" fill="#000000"/>
<rect x="192.28" y="1031.65" width="9.2" height="9.2" fill="#000000"/>
<rect x="209.3" y="1007.56" width="9.2" height="9.2" fill="#000000"/>
<rect x="229.73" y="969" width="9.2" height="9.2" fill="#000000"/>
<rect x="254.7" y="918.86" width="9.2" height="9.2" fill="#000000"/>
<rect x="288.75" y="846.73" width="9.2" height="9.2" fill="#000000"/>
<rect x="322.8" y="779.18" width="9.2" height="9.2" fill="#000000"/>
<rect x="363.66" y="716.99" width="9.2" height="9.2" fill="#000000"/>
<rect x="413.6" y="680.93" width="9.2" height="9.2" fill="#000000"/>
<rect x="476.02" y="661.44" width="9.2" height="9.2" fill="#000000"/>
<rect x="549.8" y="658.99" width="9.2" height="9.2" fill="#000000"/>
<rect x="152.55" y="1070.7" width="9.2" height="9.2" fill="#ff0000"/>
<rect x="163.9" y="1058.66" width="9.2" height="9.2" fill="#ff0000"/>
<rect x="176.39" y="1046.61" width="9.2" height="9.2" fill="#ff0000"/>
<rect x="192.28" y="1027.08" width="9.2" height="9.2" fill="#ff0000"/>
<rect x="209.3" y="1000.12" width="9.2" height="9.2" fill="#ff0000"/>
<rect x="229.73" y="955.75" width="9.2" height="9.2" fill="#ff0000"/>
<rect x="254.7" y="899.12" width="9.2" height="9.2" fill="#ff0000"/>
<rect x="288.75" y="827.25" width="9.2" height="9.2" fill="#ff0000"/>
<rect x="322.8" y="764.27" width="9.2" height="9.2" fill="#ff0000"/>
<rect x="363.66" y="707.89" width="9.2" height="9.2" fill="#ff0000"/>
<rect x="413.6" y="673.49" width="9.2" height="9.2" fill="#ff0000"/>
<rect x="476.02" y="662.69" width="9.2" height="9.2" fill="#ff0000"/>
<rect x="549.8" y="656.92" width="9.2" height="9.2" fill="#ff0000"/>
<rect x="144.04" y="1069.87" width="9.2" height="9.2" fill="#0000ff"/>
<rect x="152.55" y="1064.47" width="9.2" height="9.2" fill="#0000ff"/>
<rect x="163.9" y="1057.82" width="9.2" height="9.2" fill="#0000ff"/>
<rect x="176.39" y="1044.53" width="9.2" height="9.2" fill="#0000ff"/>
<rect x="192.28" y="1024.17" width="9.2" height="9.2" fill="#0000ff"/>
<rect x="209.3" y="995.13" width="9.2" height="9.2" fill="#0000ff"/>
<rect x="229.73" y="952.84" width="9.2" height="9.2" fill="#0000ff"/>
<rect x="254.7" y="900.62" width="9.2" height="9.2" fill="#0000ff"/>
<rect x="288.75" y="835.56" width="9.2" height="9.2" fill="#0000ff"/>
<rect x="322.8" y="784.17" width="9.2" height="9.2" fill="#0000ff"/>
<rect x="363.66" y="727.38" width="9.2" height="9.2" fill="#0000ff"/>
<rect x="413.6" y="687.99" width="9.2" height="9.2" fill="#0000ff"/>
<rect x="476.02" y="673.08" width="9.2" height="9.2" fill="#0000ff"/>
<rect x="549.8" y="663.52" width="9.2" height="9.2" fill="#0000ff"/>
<rect x="98.07" y="1071.95" width="9.2" height="9.2" fill="#00ff00"/>
<rect x="98.64" y="1071.95" width="9.2" height="9.2" fill="#00ff00"/>
<rect x="99.43" y="1071.95" width="9.2" height="9.2" fill="#00ff00"/>
<rect x="100.11" y="1071.95" width="9.2" height="9.2" fill="#00ff00"/>
<rect x="100.91" y="1071.95" width="9.2" height="9.2" fill="#00ff00"/>
<rect x="101.82" y="1071.95" width="9.2" height="9.2" fill="#00ff00"/>
<rect x="102.95" y="1071.95" width="9.2" height="9.2" fill="#00ff00"/>
<rect x="104.31" y="1071.95" width="9.2" height="9.2" fill="#00ff00"/>
<rect x="106.02" y="1071.95" width="9.2" height="9.2" fill="#00ff00"/>
<rect x="107.83" y="1071.95" width="9.2" height="9.2" fill="#00ff00"/>
<rect x="109.99" y="1071.95" width="9.2" height="9.2" fill="#00ff00"/>
<rect x="112.83" y="1071.95" width="9.2" height="9.2" fill="#00ff00"/>
<rect x="116.23" y="1071.95" width="9.2" height="9.2" fill="#00ff00"/>
<rect x="119.86" y="1071.95" width="9.2" height="9.2" fill="#00ff00"/>
<rect x="124.18" y="1071.95" width="9.2" height="9.2" fill="#00ff00"/>
<rect x="129.85" y="1071.95" width="9.2" height="9.2" fill="#00ff00"/>
<rect x="136.09" y="1071.95" width="9.2" height="9.2" fill="#00ff00"/>
<rect x="144.04" y="1069.87" width="9.2" height="9.2" fill="#00ff00"/>
<rect x="152.55" y="1061.98" width="9.2" height="9.2" fill="#00ff00"/>
<rect x="163.9" y="1056.16" width="9.2" height="9.2" fill="#00ff00"/>
<rect x="176.39" y="1041.21" width="9.2" height="9.2" fill="#00ff00"/>
<rect x="192.28" y="1017.94" width="9.2" height="9.2" fill="#00ff00"/>
<rect x="209.3" y="988.07" width="9.2" height="9.2" fill="#00ff00"/>
<rect x="229.73" y="943.33" width="9.2" height="9.2" fill="#00ff00"/>
<rect x="254.7" y="892.35" width="9.2" height="9.2" fill="#00ff00"/>
<rect x="288.75" y="827.67" width="9.2" height="9.2" fill="#00ff00"/>
<rect x="322.8" y="778.35" width="9.2" height="9.2" fill="#00ff00"/>
<rect x="363.66" y="732.32" width="9.2" height="9.2" fill="#00ff00"/>
<rect x="413.6" y="693.81" width="9.2" height="9.2" fill="#00ff00"/>
<rect x="476.02" y="668.96" width="9.2" height="9.2" fill="#00ff00"/>
<rect x="549.8" y="656.92" width="9.2" height="9.2" fill="#00ff00"/>
<rect x="634.92" y="657.33" width="9.2" height="9.2" fill="#00ff00"/>
<polyline points="100.4,1076.55 101.4,1076.55 102.4,1076.55 103.4,1076.55 104.39,1076.54 105.39,1076.54 106.39,1076.53 107.39,1076.52 108.39,1076.51 109.39,1076.49 110.38,1076.47 111.38,1076.45 112.38,1076.42 113.38,1076.39 114.38,1076.35 115.38,1076.31 116.38,1076.26 117.37,1076.2 118.37,1076.14 119.37,1076.08 120.37,1076 121.37,1075.92 122.37,1075.84 123.36,1075.74 124.36,1075.64 125.36,1075.53 126.36,1075.41 127.36,1075.28 128.36,1075.15 129.36,1075 130.35,1074.85 131.35,1074.68 132.35,1074.51 133.35,1074.33 134.35,1074.13 135.35,1073.93 136.34,1073.71 137.34,1073.49 138.34,1073.25 139.34,1073 140.34,1072.74 141.34,1072.47 142.34,1072.18 143.33,1071.88 144.33,1071.58 145.33,1071.25 146.33,1070.92 147.33,1070.57 148.33,1070.21 149.32,1069.83 150.32,1069.44 151.32,1069.04 152.32,1068.62 153.32,1068.19 154.32,1067.74 155.32,1067.28 156.31,1066.81 157.31,1066.32 158.31,1065.81 159.31,1065.29 160.31,1064.75 161.31,1064.2 162.3,1063.63 163.3,1063.05 164.3,1062.45 165.3,1061.83 166.3,1061.2 167.3,1060.55 168.3,1059.88 169.29,1059.2 170.29,1058.5 171.29,1057.78 172.29,1057.05 173.29,1056.29 174.29,1055.52 175.28,1054.74 176.28,1053.93 177.28,1053.11 178.28,1052.27 179.28,1051.41 180.28,1050.54 181.28,1049.64 182.27,1048.73 183.27,1047.8 184.27,1046.85 185.27,1045.89 186.27,1044.9 187.27,1043.9 188.26,1042.88 189.26,1041.84 190.26,1040.78 191.26,1039.7 192.26,1038.61 193.26,1037.49 194.26,1036.36 195.25,1035.21 196.25,1034.04 197.25,1032.85 198.25,1031.65 199.25,1030.42 200.25,1029.18 201.24,1027.92 202.24,1026.64 203.24,1025.34 204.24,1024.02 205.24,1022.69 206.24,1021.33 207.24,1019.96 208.23,1018.57 209.23,1017.17 210.23,1015.74 211.23,1014.3 212.23,1012.84 213.23,1011.36 214.22,1009.86 215.22,1008.35 216.22,1006.82 217.22,1005.27 218.22,1003.71 219.22,1002.13 220.22,1000.53 221.21,998.91 222.21,997.28 223.21,995.63 224.21,993.97 225.21,992.29 226.21,990.59 227.2,988.88 228.2,987.15 229.2,985.41 230.2,983.65 231.2,981.88 232.2,980.1 233.19,978.29 234.19,976.48 235.19,974.65 236.19,972.8 237.19,970.95 238.19,969.07 239.19,967.19 240.18,965.29 241.18,963.38 242.18,961.46 243.18,959.53 244.18,957.58 245.18,955.62 246.17,953.65 247.17,951.67 248.17,949.68 249.17,947.68 250.17,945.66 251.17,943.64 252.17,941.61 253.16,939.57 254.16,937.52 255.16,935.46 256.16,933.39 257.16,931.31 258.16,929.23 259.15,927.13 260.15,925.03 261.15,922.93 262.15,920.81 263.15,918.69 264.15,916.57 265.15,914.44 266.14,912.3 267.14,910.16 268.14,908.01 269.14,905.86 270.14,903.7 271.14,901.54 272.13,899.38 273.13,897.21 274.13,895.04 275.13,892.87 276.13,890.7 277.13,888.52 278.13,886.35 279.12,884.17 280.12,881.99 281.12,879.81 282.12,877.63 283.12,875.45 284.12,873.28 285.11,871.1 286.11,868.92 287.11,866.75 288.11,864.58 289.11,862.4 290.11,860.24 291.11,858.07 292.1,855.91 293.1,853.75 294.1,851.6 295.1,849.45 296.1,847.3 297.1,845.16 298.09,843.03 299.09,840.9 300.09,838.77 301.09,836.66 302.09,834.55 303.09,832.44 304.09,830.34 305.08,828.25 306.08,826.17 307.08,824.1 308.08,822.03 309.08,819.97 310.08,817.92 311.07,815.88 312.07,813.85 313.07,811.83 314.07,809.82 315.07,807.82 316.07,805.82 317.07,803.84 318.06,801.87 319.06,799.92 320.06,797.97 321.06,796.03 322.06,794.11 323.06,792.2 324.05,790.3 325.05,788.41 326.05,786.53 327.05,784.67 328.05,782.82 329.05,780.99 330.05,779.17 331.04,777.36 332.04,775.56 333.04,773.78 334.04,772.02 335.04,770.26 336.04,768.53 337.03,766.8 338.03,765.1 339.03,763.4 340.03,761.72 341.03,760.06 342.03,758.41 343.03,756.78 344.02,755.16 345.02,753.56 346.02,751.97 347.02,750.4 348.02,748.85 349.02,747.31 350.01,745.79 351.01,744.28 352.01,742.79 353.01,741.32 354.01,739.86 355.01,738.42 356.01,737 357,735.59 358,734.2 359,732.82 360,731.46 361,730.12 362,728.79 362.99,727.48 363.99,726.19 364.99,724.91 365.99,723.65 366.99,722.41 367.99,721.18 368.99,719.97 369.98,718.78 370.98,717.6 371.98,716.44 372.98,715.3 373.98,714.17 374.98,713.06 375.97,711.96 376.97,710.88 377.97,709.82 378.97,708.77 379.97,707.74 380.97,706.72 381.97,705.72 382.96,704.74 383.96,703.77 384.96,702.82 385.96,701.88 386.96,700.96 387.96,700.05 388.95,699.16 389.95,698.28 390.95,697.42 391.95,696.57 392.95,695.74 393.95,694.92 394.95,694.11 395.94,693.32 396.94,692.55 397.94,691.79 398.94,691.04 399.94,690.31 400.94,689.59 401.93,688.88 402.93,688.19 403.93,687.51 404.93,686.84 405.93,686.19 406.93,685.55 407.93,684.92 408.92,684.31 409.92,683.7 410.92,683.11 411.92,682.53 412.92,681.97 413.92,681.41 414.91,680.87 415.91,680.34 416.91,679.82 417.91,679.31 418.91,678.81 419.91,678.33 420.91,677.85 421.9,677.38 422.9,676.93 423.9,676.48 424.9,676.05 425.9,675.62 426.9,675.21 427.89,674.8 428.89,674.41 429.89,674.02 430.89,673.64 431.89,673.28 432.89,672.92 433.89,672.56 434.88,672.22 435.88,671.89 436.88,671.56 437.88,671.25 438.88,670.94 439.88,670.64 440.87,670.34 441.87,670.06 442.87,669.78 443.87,669.51 444.87,669.24 445.87,668.98 446.87,668.73 447.86,668.49 448.86,668.25 449.86,668.02 450.86,667.8 451.86,667.58 452.86,667.37 453.85,667.16 454.85,666.96 455.85,666.77 456.85,666.58 457.85,666.39 458.85,666.21 459.85,666.04 460.84,665.87 461.84,665.71 462.84,665.55 463.84,665.4 464.84,665.25 465.84,665.1 466.83,664.96 467.83,664.82 468.83,664.69 469.83,664.56 470.83,664.44 471.83,664.32 472.83,664.2 473.82,664.09 474.82,663.98 475.82,663.88 476.82,663.77 477.82,663.68 478.82,663.58 479.81,663.49 480.81,663.4 481.81,663.31 482.81,663.23 483.81,663.15 484.81,663.07 485.81,662.99 486.8,662.92 487.8,662.85 488.8,662.78 489.8,662.71 490.8,662.65 491.8,662.59 492.79,662.53 493.79,662.47 494.79,662.42 495.79,662.37 496.79,662.31 497.79,662.27 498.78,662.22" fill="none" stroke="#2a2a2a" stroke-width="1.25"/>
<polyline points="100.4,1076.55 101.5,1076.55 102.59,1076.55 103.69,1076.55 104.78,1076.54 105.88,1076.53 106.97,1076.52 108.07,1076.51 109.16,1076.48 110.26,1076.46 111.35,1076.43 112.45,1076.39 113.54,1076.35 114.64,1076.3 115.73,1076.24 116.83,1076.17 117.92,1076.1 119.02,1076.02 120.11,1075.93 121.21,1075.82 122.3,1075.71 123.4,1075.59 124.49,1075.46 125.59,1075.31 126.68,1075.16 127.78,1074.99 128.87,1074.81 129.97,1074.62 131.06,1074.41 132.16,1074.19 133.26,1073.96 134.35,1073.71 135.45,1073.45 136.54,1073.18 137.64,1072.88 138.73,1072.58 139.83,1072.25 140.92,1071.91 142.02,1071.56 143.11,1071.19 144.21,1070.8 145.3,1070.39 146.4,1069.96 147.49,1069.52 148.59,1069.06 149.68,1068.58 150.78,1068.08 151.87,1067.56 152.97,1067.03 154.06,1066.47 155.16,1065.89 156.25,1065.3 157.35,1064.68 158.44,1064.04 159.54,1063.38 160.63,1062.7 161.73,1062 162.83,1061.28 163.92,1060.53 165.02,1059.77 166.11,1058.98 167.21,1058.17 168.3,1057.34 169.4,1056.48 170.49,1055.6 171.59,1054.7 172.68,1053.78 173.78,1052.83 174.87,1051.86 175.97,1050.87 177.06,1049.85 178.16,1048.81 179.25,1047.75 180.35,1046.66 181.44,1045.55 182.54,1044.41 183.63,1043.25 184.73,1042.07 185.82,1040.86 186.92,1039.63 188.01,1038.37 189.11,1037.09 190.2,1035.79 191.3,1034.46 192.39,1033.11 193.49,1031.73 194.59,1030.33 195.68,1028.91 196.78,1027.46 197.87,1025.99 198.97,1024.49 200.06,1022.97 201.16,1021.43 202.25,1019.86 203.35,1018.27 204.44,1016.66 205.54,1015.02 206.63,1013.36 207.73,1011.68 208.82,1009.98 209.92,1008.25 211.01,1006.5 212.11,1004.73 213.2,1002.93 214.3,1001.11 215.39,999.28 216.49,997.42 217.58,995.54 218.68,993.64 219.77,991.71 220.87,989.77 221.96,987.81 223.06,985.83 224.15,983.82 225.25,981.8 226.35,979.76 227.44,977.7 228.54,975.63 229.63,973.53 230.73,971.42 231.82,969.29 232.92,967.14 234.01,964.97 235.11,962.79 236.2,960.6 237.3,958.38 238.39,956.16 239.49,953.92 240.58,951.66 241.68,949.39 242.77,947.1 243.87,944.81 244.96,942.5 246.06,940.17 247.15,937.84 248.25,935.49 249.34,933.14 250.44,930.77 251.53,928.39 252.63,926 253.72,923.61 254.82,921.2 255.91,918.79 257.01,916.37 258.11,913.94 259.2,911.5 260.3,909.06 261.39,906.62 262.49,904.16 263.58,901.71 264.68,899.24 265.77,896.78 266.87,894.31 267.96,891.84 269.06,889.36 270.15,886.88 271.25,884.41 272.34,881.93 273.44,879.45 274.53,876.97 275.63,874.49 276.72,872.01 277.82,869.54 278.91,867.06 280.01,864.59 281.1,862.12 282.2,859.66 283.29,857.2 284.39,854.74 285.48,852.29 286.58,849.84 287.68,847.4 288.77,844.97 289.87,842.54 290.96,840.12 292.06,837.71 293.15,835.31 294.25,832.91 295.34,830.53 296.44,828.15 297.53,825.78 298.63,823.43 299.72,821.08 300.82,818.75 301.91,816.43 303.01,814.12 304.1,811.82 305.2,809.53 306.29,807.26 307.39,805 308.48,802.76 309.58,800.53 310.67,798.31 311.77,796.11 312.86,793.93 313.96,791.76 315.05,789.6 316.15,787.47 317.24,785.35 318.34,783.24 319.44,781.15 320.53,779.09 321.63,777.03 322.72,775 323.82,772.98 324.91,770.99 326.01,769.01 327.1,767.05 328.2,765.11 329.29,763.18 330.39,761.28 331.48,759.4 332.58,757.54 333.67,755.69 334.77,753.87 335.86,752.07 336.96,750.29 338.05,748.52 339.15,746.78 340.24,745.06 341.34,743.36 342.43,741.69 343.53,740.03 344.62,738.39 345.72,736.78 346.81,735.18 347.91,733.61 349,732.06 350.1,730.53 351.2,729.02 352.29,727.53 353.39,726.07 354.48,724.62 355.58,723.2 356.67,721.8 357.77,720.41 358.86,719.06 359.96,717.72 361.05,716.4 362.15,715.1 363.24,713.83 364.34,712.57 365.43,711.34 366.53,710.13 367.62,708.93 368.72,707.76 369.81,706.61 370.91,705.48 372,704.37 373.1,703.28 374.19,702.21 375.29,701.16 376.38,700.13 377.48,699.11 378.57,698.12 379.67,697.15 380.76,696.19 381.86,695.26 382.96,694.34 384.05,693.44 385.15,692.56 386.24,691.7 387.34,690.86 388.43,690.03 389.53,689.22 390.62,688.43 391.72,687.66 392.81,686.9 393.91,686.16 395,685.43 396.1,684.73 397.19,684.04 398.29,683.36 399.38,682.7 400.48,682.05 401.57,681.43 402.67,680.81 403.76,680.21 404.86,679.63 405.95,679.05 407.05,678.5 408.14,677.95 409.24,677.43 410.33,676.91 411.43,676.41 412.52,675.92 413.62,675.44 414.72,674.98 415.81,674.52 416.91,674.08 418,673.65 419.1,673.24 420.19,672.83 421.29,672.44 422.38,672.06 423.48,671.68 424.57,671.32 425.67,670.97 426.76,670.63 427.86,670.3 428.95,669.97 430.05,669.66 431.14,669.36 432.24,669.06 433.33,668.78 434.43,668.5 435.52,668.23 436.62,667.97 437.71,667.72 438.81,667.48 439.9,667.24 441,667.01 442.09,666.79 443.19,666.57 444.29,666.37 445.38,666.17 446.48,665.97 447.57,665.78 448.67,665.6 449.76,665.43 450.86,665.26 451.95,665.09 453.05,664.93 454.14,664.78 455.24,664.63 456.33,664.49 457.43,664.35 458.52,664.22 459.62,664.09 460.71,663.97 461.81,663.85 462.9,663.74 464,663.63 465.09,663.52 466.19,663.42 467.28,663.32 468.38,663.22 469.47,663.13 470.57,663.04 471.66,662.96 472.76,662.88 473.85,662.8 474.95,662.73 476.05,662.65 477.14,662.58 478.24,662.52 479.33,662.45 480.43,662.39 481.52,662.33 482.62,662.28 483.71,662.22 484.81,662.17 485.9,662.12 487,662.07 488.09,662.03 489.19,661.99 490.28,661.94 491.38,661.9 492.47,661.87 493.57,661.83 494.66,661.79 495.76,661.76 496.85,661.73 497.95,661.7 499.04,661.67 500.14,661.64 501.23,661.61 502.33,661.59 503.42,661.56 504.52,661.54 505.61,661.52 506.71,661.5 507.81,661.48 508.9,661.46 510,661.44 511.09,661.42 512.19,661.4 513.28,661.39 514.38,661.37 515.47,661.36 516.57,661.34 517.66,661.33 518.76,661.32 519.85,661.31 520.95,661.3 522.04,661.29 523.14,661.28 524.23,661.27 525.33,661.26 526.42,661.25 527.52,661.24 528.61,661.23 529.71,661.22 530.8,661.22 531.9,661.21 532.99,661.2 534.09,661.2 535.18,661.19 536.28,661.19 537.38,661.18" fill="none" stroke="#ff2a2a" stroke-width="1.25"/>
<polyline points="100.4,1076.55 101.57,1076.55 102.74,1076.54 103.92,1076.54 105.09,1076.52 106.26,1076.5 107.43,1076.47 108.6,1076.43 109.78,1076.38 110.95,1076.32 112.12,1076.25 113.29,1076.17 114.46,1076.08 115.64,1075.98 116.81,1075.86 117.98,1075.73 119.15,1075.59 120.32,1075.43 121.5,1075.26 122.67,1075.07 123.84,1074.87 125.01,1074.65 126.18,1074.42 127.36,1074.17 128.53,1073.9 129.7,1073.61 130.87,1073.31 132.04,1072.99 133.22,1072.65 134.39,1072.3 135.56,1071.92 136.73,1071.53 137.9,1071.11 139.08,1070.68 140.25,1070.23 141.42,1069.76 142.59,1069.26 143.76,1068.75 144.94,1068.22 146.11,1067.66 147.28,1067.09 148.45,1066.49 149.62,1065.87 150.8,1065.23 151.97,1064.57 153.14,1063.88 154.31,1063.18 155.48,1062.45 156.66,1061.7 157.83,1060.92 159,1060.13 160.17,1059.31 161.34,1058.47 162.51,1057.6 163.69,1056.72 164.86,1055.81 166.03,1054.87 167.2,1053.92 168.37,1052.94 169.55,1051.93 170.72,1050.91 171.89,1049.86 173.06,1048.79 174.23,1047.69 175.41,1046.57 176.58,1045.43 177.75,1044.26 178.92,1043.07 180.09,1041.86 181.27,1040.62 182.44,1039.36 183.61,1038.08 184.78,1036.77 185.95,1035.45 187.13,1034.1 188.3,1032.72 189.47,1031.32 190.64,1029.91 191.81,1028.46 192.99,1027 194.16,1025.51 195.33,1024 196.5,1022.47 197.67,1020.92 198.85,1019.35 200.02,1017.75 201.19,1016.14 202.36,1014.5 203.53,1012.84 204.71,1011.16 205.88,1009.46 207.05,1007.74 208.22,1006 209.39,1004.24 210.57,1002.47 211.74,1000.67 212.91,998.85 214.08,997.01 215.25,995.16 216.43,993.29 217.6,991.4 218.77,989.49 219.94,987.56 221.11,985.62 222.29,983.66 223.46,981.68 224.63,979.69 225.8,977.68 226.97,975.65 228.15,973.61 229.32,971.56 230.49,969.49 231.66,967.41 232.83,965.31 234.01,963.2 235.18,961.08 236.35,958.94 237.52,956.79 238.69,954.63 239.87,952.46 241.04,950.27 242.21,948.08 243.38,945.87 244.55,943.65 245.73,941.43 246.9,939.19 248.07,936.95 249.24,934.7 250.41,932.44 251.59,930.17 252.76,927.89 253.93,925.61 255.1,923.32 256.27,921.03 257.45,918.72 258.62,916.42 259.79,914.11 260.96,911.79 262.13,909.47 263.31,907.15 264.48,904.82 265.65,902.49 266.82,900.16 267.99,897.82 269.17,895.49 270.34,893.15 271.51,890.81 272.68,888.47 273.85,886.14 275.03,883.8 276.2,881.46 277.37,879.13 278.54,876.79 279.71,874.46 280.88,872.13 282.06,869.81 283.23,867.48 284.4,865.16 285.57,862.85 286.74,860.54 287.92,858.23 289.09,855.93 290.26,853.64 291.43,851.35 292.6,849.06 293.78,846.79 294.95,844.52 296.12,842.26 297.29,840 298.46,837.76 299.64,835.52 300.81,833.29 301.98,831.07 303.15,828.86 304.32,826.66 305.5,824.47 306.67,822.29 307.84,820.12 309.01,817.96 310.18,815.82 311.36,813.68 312.53,811.56 313.7,809.45 314.87,807.35 316.04,805.26 317.22,803.19 318.39,801.13 319.56,799.08 320.73,797.05 321.9,795.03 323.08,793.03 324.25,791.04 325.42,789.06 326.59,787.1 327.76,785.15 328.94,783.22 330.11,781.31 331.28,779.41 332.45,777.53 333.62,775.66 334.8,773.81 335.97,771.97 337.14,770.15 338.31,768.35 339.48,766.56 340.66,764.79 341.83,763.04 343,761.31 344.17,759.59 345.34,757.89 346.52,756.2 347.69,754.54 348.86,752.89 350.03,751.26 351.2,749.65 352.38,748.05 353.55,746.47 354.72,744.92 355.89,743.37 357.06,741.85 358.24,740.34 359.41,738.86 360.58,737.39 361.75,735.94 362.92,734.5 364.1,733.09 365.27,731.69 366.44,730.31 367.61,728.95 368.78,727.61 369.96,726.28 371.13,724.97 372.3,723.68 373.47,722.41 374.64,721.16 375.82,719.92 376.99,718.7 378.16,717.5 379.33,716.32 380.5,715.15 381.68,714.01 382.85,712.88 384.02,711.76 385.19,710.67 386.36,709.59 387.54,708.53 388.71,707.48 389.88,706.45 391.05,705.44 392.22,704.45 393.39,703.47 394.57,702.51 395.74,701.56 396.91,700.63 398.08,699.72 399.25,698.82 400.43,697.94 401.6,697.07 402.77,696.22 403.94,695.38 405.11,694.56 406.29,693.76 407.46,692.97 408.63,692.19 409.8,691.43 410.97,690.68 412.15,689.95 413.32,689.23 414.49,688.53 415.66,687.84 416.83,687.16 418.01,686.5 419.18,685.85 420.35,685.21 421.52,684.58 422.69,683.97 423.87,683.37 425.04,682.79 426.21,682.22 427.38,681.65 428.55,681.1 429.73,680.57 430.9,680.04 432.07,679.53 433.24,679.02 434.41,678.53 435.59,678.05 436.76,677.58 437.93,677.12 439.1,676.67 440.27,676.23 441.45,675.8 442.62,675.39 443.79,674.98 444.96,674.58 446.13,674.19 447.31,673.81 448.48,673.44 449.65,673.08 450.82,672.72 451.99,672.38 453.17,672.04 454.34,671.72 455.51,671.4 456.68,671.09 457.85,670.78 459.03,670.49 460.2,670.2 461.37,669.92 462.54,669.65 463.71,669.38 464.89,669.12 466.06,668.87 467.23,668.62 468.4,668.39 469.57,668.15 470.75,667.93 471.92,667.71 473.09,667.5 474.26,667.29 475.43,667.09 476.61,666.89 477.78,666.7 478.95,666.51 480.12,666.33 481.29,666.16 482.47,665.99 483.64,665.83 484.81,665.67 485.98,665.51 487.15,665.36 488.33,665.21 489.5,665.07 490.67,664.93 491.84,664.8 493.01,664.67 494.19,664.55 495.36,664.43 496.53,664.31 497.7,664.19 498.87,664.08 500.05,663.98 501.22,663.87 502.39,663.77 503.56,663.68 504.73,663.58 505.91,663.49 507.08,663.4 508.25,663.32 509.42,663.24 510.59,663.16 511.76,663.08 512.94,663.01 514.11,662.93 515.28,662.86 516.45,662.8 517.62,662.73 518.8,662.67 519.97,662.61 521.14,662.55 522.31,662.49 523.48,662.44 524.66,662.39 525.83,662.34 527,662.29 528.17,662.24 529.34,662.2 530.52,662.15 531.69,662.11 532.86,662.07 534.03,662.03 535.2,661.99 536.38,661.96 537.55,661.92 538.72,661.89 539.89,661.85 541.06,661.82 542.24,661.79 543.41,661.76 544.58,661.74 545.75,661.71 546.92,661.68 548.1,661.66 549.27,661.64 550.44,661.61 551.61,661.59 552.78,661.57 553.96,661.55 555.13,661.53 556.3,661.51 557.47,661.49 558.64,661.48 559.82,661.46 560.99,661.44 562.16,661.43 563.33,661.41 564.5,661.4 565.68,661.39 566.85,661.37 568.02,661.36" fill="none" stroke="#2a2aff" stroke-width="1.25"/>
<polyline points="100.4,1076.55 101.82,1076.55 103.24,1076.54 104.67,1076.51 106.09,1076.48 107.51,1076.43 108.93,1076.36 110.36,1076.28 111.78,1076.17 113.2,1076.05 114.62,1075.91 116.05,1075.74 117.47,1075.55 118.89,1075.34 120.31,1075.1 121.73,1074.84 123.16,1074.55 124.58,1074.24 126,1073.9 127.42,1073.53 128.85,1073.14 130.27,1072.72 131.69,1072.26 133.11,1071.78 134.54,1071.27 135.96,1070.73 137.38,1070.16 138.8,1069.55 140.22,1068.92 141.65,1068.25 143.07,1067.55 144.49,1066.82 145.91,1066.06 147.34,1065.26 148.76,1064.43 150.18,1063.57 151.6,1062.67 153.03,1061.74 154.45,1060.78 155.87,1059.78 157.29,1058.75 158.71,1057.68 160.14,1056.58 161.56,1055.44 162.98,1054.28 164.4,1053.07 165.83,1051.83 167.25,1050.56 168.67,1049.25 170.09,1047.91 171.52,1046.54 172.94,1045.13 174.36,1043.68 175.78,1042.2 177.2,1040.69 178.63,1039.15 180.05,1037.57 181.47,1035.95 182.89,1034.31 184.32,1032.63 185.74,1030.92 187.16,1029.17 188.58,1027.39 190.01,1025.59 191.43,1023.75 192.85,1021.87 194.27,1019.97 195.69,1018.04 197.12,1016.07 198.54,1014.08 199.96,1012.06 201.38,1010 202.81,1007.92 204.23,1005.81 205.65,1003.67 207.07,1001.51 208.5,999.32 209.92,997.1 211.34,994.85 212.76,992.58 214.18,990.29 215.61,987.97 217.03,985.62 218.45,983.26 219.87,980.87 221.3,978.45 222.72,976.02 224.14,973.56 225.56,971.09 226.99,968.59 228.41,966.08 229.83,963.54 231.25,960.99 232.67,958.42 234.1,955.84 235.52,953.24 236.94,950.62 238.36,947.99 239.79,945.34 241.21,942.68 242.63,940.01 244.05,937.33 245.48,934.63 246.9,931.93 248.32,929.21 249.74,926.48 251.16,923.75 252.59,921.01 254.01,918.26 255.43,915.5 256.85,912.74 258.28,909.98 259.7,907.21 261.12,904.43 262.54,901.65 263.97,898.88 265.39,896.09 266.81,893.31 268.23,890.53 269.65,887.75 271.08,884.97 272.5,882.19 273.92,879.41 275.34,876.64 276.77,873.87 278.19,871.11 279.61,868.35 281.03,865.59 282.46,862.85 283.88,860.11 285.3,857.38 286.72,854.65 288.14,851.94 289.57,849.23 290.99,846.54 292.41,843.85 293.83,841.18 295.26,838.52 296.68,835.87 298.1,833.23 299.52,830.61 300.95,828 302.37,825.41 303.79,822.83 305.21,820.26 306.63,817.72 308.06,815.19 309.48,812.67 310.9,810.18 312.32,807.7 313.75,805.24 315.17,802.79 316.59,800.37 318.01,797.97 319.44,795.58 320.86,793.22 322.28,790.88 323.7,788.56 325.12,786.26 326.55,783.98 327.97,781.72 329.39,779.48 330.81,777.27 332.24,775.08 333.66,772.91 335.08,770.77 336.5,768.64 337.93,766.55 339.35,764.47 340.77,762.42 342.19,760.39 343.61,758.39 345.04,756.41 346.46,754.46 347.88,752.53 349.3,750.63 350.73,748.75 352.15,746.89 353.57,745.06 354.99,743.26 356.42,741.48 357.84,739.72 359.26,737.99 360.68,736.29 362.1,734.61 363.53,732.95 364.95,731.32 366.37,729.72 367.79,728.14 369.22,726.58 370.64,725.05 372.06,723.55 373.48,722.07 374.91,720.61 376.33,719.18 377.75,717.77 379.17,716.39 380.59,715.03 382.02,713.69 383.44,712.38 384.86,711.1 386.28,709.83 387.71,708.59 389.13,707.37 390.55,706.18 391.97,705.01 393.39,703.86 394.82,702.73 396.24,701.63 397.66,700.55 399.08,699.49 400.51,698.45 401.93,697.43 403.35,696.44 404.77,695.46 406.2,694.51 407.62,693.58 409.04,692.66 410.46,691.77 411.88,690.89 413.31,690.04 414.73,689.21 416.15,688.39 417.57,687.59 419,686.81 420.42,686.05 421.84,685.31 423.26,684.59 424.69,683.88 426.11,683.19 427.53,682.51 428.95,681.86 430.37,681.22 431.8,680.59 433.22,679.98 434.64,679.39 436.06,678.81 437.49,678.25 438.91,677.7 440.33,677.17 441.75,676.65 443.18,676.14 444.6,675.65 446.02,675.17 447.44,674.7 448.86,674.25 450.29,673.81 451.71,673.38 453.13,672.97 454.55,672.56 455.98,672.17 457.4,671.79 458.82,671.42 460.24,671.06 461.67,670.71 463.09,670.37 464.51,670.04 465.93,669.72 467.35,669.42 468.78,669.12 470.2,668.83 471.62,668.55 473.04,668.27 474.47,668.01 475.89,667.76 477.31,667.51 478.73,667.27 480.16,667.04 481.58,666.81 483,666.6 484.42,666.39 485.84,666.19 487.27,665.99 488.69,665.8 490.11,665.62 491.53,665.44 492.96,665.27 494.38,665.11 495.8,664.95 497.22,664.79 498.65,664.65 500.07,664.5 501.49,664.37 502.91,664.23 504.33,664.1 505.76,663.98 507.18,663.86 508.6,663.75 510.02,663.64 511.45,663.53 512.87,663.43 514.29,663.33 515.71,663.24 517.14,663.14 518.56,663.06 519.98,662.97 521.4,662.89 522.82,662.81 524.25,662.74 525.67,662.67 527.09,662.6 528.51,662.53 529.94,662.47 531.36,662.41 532.78,662.35 534.2,662.29 535.63,662.24 537.05,662.19 538.47,662.14 539.89,662.09 541.31,662.04 542.74,662 544.16,661.96 545.58,661.92 547,661.88 548.43,661.84 549.85,661.81 551.27,661.77 552.69,661.74 554.12,661.71 555.54,661.68 556.96,661.65 558.38,661.63 559.8,661.6 561.23,661.58 562.65,661.55 564.07,661.53 565.49,661.51 566.92,661.49 568.34,661.47 569.76,661.45 571.18,661.43 572.61,661.42 574.03,661.4 575.45,661.38 576.87,661.37 578.29,661.36 579.72,661.34 581.14,661.33 582.56,661.32 583.98,661.31 585.41,661.3 586.83,661.29 588.25,661.28 589.67,661.27 591.1,661.26 592.52,661.25 593.94,661.24 595.36,661.23 596.78,661.23 598.21,661.22 599.63,661.21 601.05,661.21 602.47,661.2 603.9,661.2 605.32,661.19 606.74,661.18 608.16,661.18 609.59,661.18 611.01,661.17 612.43,661.17 613.85,661.16 615.27,661.16 616.7,661.16 618.12,661.15 619.54,661.15 620.96,661.15 622.39,661.14 623.81,661.14 625.23,661.14 626.65,661.14 628.08,661.13 629.5,661.13 630.92,661.13 632.34,661.13 633.76,661.13 635.19,661.13 636.61,661.12 638.03,661.12 639.45,661.12 640.88,661.12 642.3,661.12 643.72,661.12 645.14,661.12 646.57,661.12 647.99,661.11 649.41,661.11 650.83,661.11 652.25,661.11 653.68,661.11 655.1,661.11 656.52,661.11 657.94,661.11 659.37,661.11 660.79,661.11 662.21,661.11 663.63,661.11 665.06,661.11 666.48,661.11 667.9,661.11" fill="none" stroke="#2aff2a" stroke-width="1.25"/>
</g>
<g style="font-family:'Liberation Sans',Arial,sans-serif;font-size:23px" fill="#1a1a1a">
<text x="85.9" y="1084.75" text-anchor="end">0</text>
<text x="85.9" y="1001.66" text-anchor="end">20</text>
<text x="85.9" y="918.57" text-anchor="end">40</text>
<text x="85.9" y="835.48" text-anchor="end">60</text>
<text x="85.9" y="752.39" text-anchor="end">80</text>
<text x="85.9" y="669.3" text-anchor="end">100</text>
<text x="100.4" y="1111.05" text-anchor="middle">0</text>
<text x="327.4" y="1111.05" text-anchor="middle">2</text>
<text x="554.4" y="1111.05" text-anchor="middle">4</text>
<text transform="translate(35.9,848.05) rotate(-90)" text-anchor="middle" style="font-size:26px">Q3 (%)</text>
<text x="384.55" y="1153.7" text-anchor="middle" style="font-size:25px;letter-spacing:0.3px">x (mm)</text>
</g>
<rect x="524.7" y="938.6" width="149.2" height="119.6" fill="#fff" stroke="#666" stroke-width="1.2"/>
<g style="font-family:'Liberation Sans',Arial,sans-serif;font-size:22.5px" fill="#1a1a1a">
<rect x="547.5" y="949.2" width="10" height="10" fill="#000000"/>
<text x="585.2" y="961.7">conf 2.1</text>
<rect x="547.5" y="977.8" width="10" height="10" fill="#ff0000"/>
<text x="585.2" y="990.3">conf 2.2</text>
<rect x="547.5" y="1006.4" width="10" height="10" fill="#0000ff"/>
<text x="585.2" y="1018.9">conf 2.3</text>
<rect x="547.5" y="1035" width="10" height="10" fill="#00ff00"/>
<text x="585.2" y="1047.5">conf 2.4</text>
</g>
<g stroke="#1a1a1a" stroke-width="1.5" fill="none">
<line x1="970.75" y1="1077.1" x2="970.75" y2="616.1"/>
<line x1="962.75" y1="1077.1" x2="1547" y2="1077.1"/>
<line x1="962.75" y1="1077.1" x2="970.75" y2="1077.1"/>
<line x1="962.75" y1="996.02" x2="970.75" y2="996.02"/>
<line x1="962.75" y1="914.94" x2="970.75" y2="914.94"/>
<line x1="962.75" y1="833.86" x2="970.75" y2="833.86"/>
<line x1="962.75" y1="752.78" x2="970.75" y2="752.78"/>
<line x1="962.75" y1="671.7" x2="970.75" y2="671.7"/>
<line x1="966.75" y1="1036.56" x2="970.75" y2="1036.56"/>
<line x1="966.75" y1="955.48" x2="970.75" y2="955.48"/>
<line x1="966.75" y1="874.4" x2="970.75" y2="874.4"/>
<line x1="966.75" y1="793.32" x2="970.75" y2="793.32"/>
<line x1="966.75" y1="712.24" x2="970.75" y2="712.24"/>
<line x1="966.75" y1="631.16" x2="970.75" y2="631.16"/>
<line x1="970.75" y1="1077.1" x2="970.75" y2="1085.6"/>
<line x1="1247.67" y1="1077.1" x2="1247.67" y2="1085.6"/>
<line x1="1524.59" y1="1077.1" x2="1524.59" y2="1085.6"/>
<line x1="1109.21" y1="1077.1" x2="1109.21" y2="1081.6"/>
<line x1="1386.13" y1="1077.1" x2="1386.13" y2="1081.6"/>
</g>
<path d="M970.75,610.5 L976.25,621.9 L970.75,618.5 L965.25,621.9 Z" fill="#1a1a1a" stroke="#1a1a1a" stroke-width="0.8" stroke-linejoin="round"/>
<path d="M1552.6,1077.1 L1541.2,1071.6 L1544.6,1077.1 L1541.2,1082.6 Z" fill="#1a1a1a" stroke="#1a1a1a" stroke-width="0.8" stroke-linejoin="round"/>
<clipPath id="cP4"><rect x="970.75" y="623.05" width="553.84" height="455.05"/></clipPath>
<g clip-path="url(#cP4)">
<rect x="986.92" y="1071.49" width="9.2" height="9.2" fill="#000000"/>
<rect x="991.07" y="1071.28" width="9.2" height="9.2" fill="#000000"/>
<rect x="995.5" y="1070.88" width="9.2" height="9.2" fill="#000000"/>
<rect x="1000.76" y="1070.27" width="9.2" height="9.2" fill="#000000"/>
<rect x="1007.69" y="1069.05" width="9.2" height="9.2" fill="#000000"/>
<rect x="1015.3" y="1067.03" width="9.2" height="9.2" fill="#000000"/>
<rect x="1025" y="1063.78" width="9.2" height="9.2" fill="#000000"/>
<rect x="1035.38" y="1057.91" width="9.2" height="9.2" fill="#000000"/>
<rect x="1049.23" y="1051.01" width="9.2" height="9.2" fill="#000000"/>
<rect x="1064.46" y="1042.5" width="9.2" height="9.2" fill="#000000"/>
<rect x="1083.84" y="1029.28" width="9.2" height="9.2" fill="#000000"/>
<rect x="1104.61" y="1011.49" width="9.2" height="9.2" fill="#000000"/>
<rect x="1129.53" y="985.99" width="9.2" height="9.2" fill="#000000"/>
<rect x="1159.99" y="943.1" width="9.2" height="9.2" fill="#000000"/>
<rect x="1201.53" y="837.49" width="9.2" height="9.2" fill="#000000"/>
<rect x="1243.07" y="717.29" width="9.2" height="9.2" fill="#000000"/>
<rect x="1292.92" y="670.34" width="9.2" height="9.2" fill="#000000"/>
<rect x="1353.84" y="667.51" width="9.2" height="9.2" fill="#000000"/>
<rect x="1025" y="1067.23" width="9.2" height="9.2" fill="#ff0000"/>
<rect x="1035.38" y="1063.18" width="9.2" height="9.2" fill="#ff0000"/>
<rect x="1049.23" y="1057.09" width="9.2" height="9.2" fill="#ff0000"/>
<rect x="1064.46" y="1053.04" width="9.2" height="9.2" fill="#ff0000"/>
<rect x="1083.84" y="1048.34" width="9.2" height="9.2" fill="#ff0000"/>
<rect x="1104.61" y="1039.01" width="9.2" height="9.2" fill="#ff0000"/>
<rect x="1129.53" y="1018.38" width="9.2" height="9.2" fill="#ff0000"/>
<rect x="1159.99" y="981.93" width="9.2" height="9.2" fill="#ff0000"/>
<rect x="1201.53" y="879.57" width="9.2" height="9.2" fill="#ff0000"/>
<rect x="1243.07" y="739.14" width="9.2" height="9.2" fill="#ff0000"/>
<rect x="1292.92" y="670.75" width="9.2" height="9.2" fill="#ff0000"/>
<rect x="1353.84" y="667.51" width="9.2" height="9.2" fill="#ff0000"/>
<rect x="1007.69" y="1070.88" width="9.2" height="9.2" fill="#0000ff"/>
<rect x="1015.3" y="1070.07" width="9.2" height="9.2" fill="#0000ff"/>
<rect x="1025" y="1068.45" width="9.2" height="9.2" fill="#0000ff"/>
<rect x="1035.38" y="1066.01" width="9.2" height="9.2" fill="#0000ff"/>
<rect x="1049.23" y="1063.18" width="9.2" height="9.2" fill="#0000ff"/>
<rect x="1064.46" y="1059.93" width="9.2" height="9.2" fill="#0000ff"/>
<rect x="1083.84" y="1054.78" width="9.2" height="9.2" fill="#0000ff"/>
<rect x="1104.61" y="1045.91" width="9.2" height="9.2" fill="#0000ff"/>
<rect x="1129.53" y="1030.5" width="9.2" height="9.2" fill="#0000ff"/>
<rect x="1159.99" y="999.77" width="9.2" height="9.2" fill="#0000ff"/>
<rect x="1201.53" y="901.83" width="9.2" height="9.2" fill="#0000ff"/>
<rect x="1243.07" y="751.26" width="9.2" height="9.2" fill="#0000ff"/>
<rect x="1292.92" y="671.15" width="9.2" height="9.2" fill="#0000ff"/>
<rect x="1353.84" y="669.53" width="9.2" height="9.2" fill="#0000ff"/>
<rect x="968.92" y="1072.5" width="9.2" height="9.2" fill="#00ff00"/>
<rect x="969.61" y="1072.5" width="9.2" height="9.2" fill="#00ff00"/>
<rect x="970.58" y="1072.5" width="9.2" height="9.2" fill="#00ff00"/>
<rect x="971.41" y="1072.5" width="9.2" height="9.2" fill="#00ff00"/>
<rect x="972.38" y="1072.5" width="9.2" height="9.2" fill="#00ff00"/>
<rect x="973.49" y="1072.5" width="9.2" height="9.2" fill="#00ff00"/>
<rect x="974.87" y="1072.5" width="9.2" height="9.2" fill="#00ff00"/>
<rect x="976.53" y="1072.5" width="9.2" height="9.2" fill="#00ff00"/>
<rect x="978.61" y="1072.5" width="9.2" height="9.2" fill="#00ff00"/>
<rect x="980.83" y="1072.5" width="9.2" height="9.2" fill="#00ff00"/>
<rect x="983.46" y="1072.5" width="9.2" height="9.2" fill="#00ff00"/>
<rect x="986.92" y="1072.5" width="9.2" height="9.2" fill="#00ff00"/>
<rect x="991.07" y="1072.5" width="9.2" height="9.2" fill="#00ff00"/>
<rect x="995.5" y="1072.5" width="9.2" height="9.2" fill="#00ff00"/>
<rect x="1000.76" y="1072.5" width="9.2" height="9.2" fill="#00ff00"/>
<rect x="1007.69" y="1072.5" width="9.2" height="9.2" fill="#00ff00"/>
<rect x="1015.3" y="1072.5" width="9.2" height="9.2" fill="#00ff00"/>
<rect x="1025" y="1070.07" width="9.2" height="9.2" fill="#00ff00"/>
<rect x="1035.38" y="1068.45" width="9.2" height="9.2" fill="#00ff00"/>
<rect x="1049.23" y="1068.04" width="9.2" height="9.2" fill="#00ff00"/>
<rect x="1064.46" y="1067.23" width="9.2" height="9.2" fill="#00ff00"/>
<rect x="1083.84" y="1065.32" width="9.2" height="9.2" fill="#00ff00"/>
<rect x="1104.61" y="1060.05" width="9.2" height="9.2" fill="#00ff00"/>
<rect x="1129.53" y="1048.34" width="9.2" height="9.2" fill="#00ff00"/>
<rect x="1159.99" y="1024.87" width="9.2" height="9.2" fill="#00ff00"/>
<rect x="1201.53" y="938.64" width="9.2" height="9.2" fill="#00ff00"/>
<rect x="1243.07" y="771.09" width="9.2" height="9.2" fill="#00ff00"/>
<rect x="1292.92" y="671.56" width="9.2" height="9.2" fill="#00ff00"/>
<rect x="1353.84" y="667.51" width="9.2" height="9.2" fill="#00ff00"/>
<rect x="1429.99" y="667.51" width="9.2" height="9.2" fill="#00ff00"/>
<rect x="1519.99" y="667.51" width="9.2" height="9.2" fill="#00ff00"/>
<polyline points="970.75,1077.1 971.75,1077.1 972.74,1077.1 973.74,1077.1 974.73,1077.1 975.73,1077.1 976.73,1077.1 977.72,1077.1 978.72,1077.1 979.71,1077.1 980.71,1077.1 981.71,1077.1 982.7,1077.1 983.7,1077.09 984.69,1077.09 985.69,1077.09 986.69,1077.09 987.68,1077.08 988.68,1077.08 989.67,1077.07 990.67,1077.07 991.66,1077.06 992.66,1077.05 993.66,1077.04 994.65,1077.04 995.65,1077.02 996.64,1077.01 997.64,1077 998.64,1076.98 999.63,1076.97 1000.63,1076.95 1001.62,1076.93 1002.62,1076.91 1003.62,1076.88 1004.61,1076.86 1005.61,1076.83 1006.6,1076.8 1007.6,1076.76 1008.6,1076.73 1009.59,1076.69 1010.59,1076.65 1011.58,1076.6 1012.58,1076.56 1013.58,1076.5 1014.57,1076.45 1015.57,1076.39 1016.56,1076.33 1017.56,1076.27 1018.56,1076.2 1019.55,1076.12 1020.55,1076.05 1021.54,1075.96 1022.54,1075.88 1023.53,1075.78 1024.53,1075.69 1025.53,1075.59 1026.52,1075.48 1027.52,1075.37 1028.51,1075.25 1029.51,1075.12 1030.51,1074.99 1031.5,1074.86 1032.5,1074.71 1033.49,1074.57 1034.49,1074.41 1035.49,1074.25 1036.48,1074.08 1037.48,1073.9 1038.47,1073.72 1039.47,1073.52 1040.47,1073.32 1041.46,1073.12 1042.46,1072.9 1043.45,1072.67 1044.45,1072.44 1045.45,1072.2 1046.44,1071.95 1047.44,1071.69 1048.43,1071.42 1049.43,1071.14 1050.43,1070.85 1051.42,1070.55 1052.42,1070.24 1053.41,1069.92 1054.41,1069.59 1055.4,1069.24 1056.4,1068.89 1057.4,1068.53 1058.39,1068.15 1059.39,1067.76 1060.38,1067.36 1061.38,1066.95 1062.38,1066.52 1063.37,1066.09 1064.37,1065.64 1065.36,1065.17 1066.36,1064.7 1067.36,1064.21 1068.35,1063.7 1069.35,1063.18 1070.34,1062.65 1071.34,1062.11 1072.34,1061.55 1073.33,1060.97 1074.33,1060.38 1075.32,1059.77 1076.32,1059.15 1077.32,1058.52 1078.31,1057.86 1079.31,1057.19 1080.3,1056.51 1081.3,1055.81 1082.3,1055.09 1083.29,1054.36 1084.29,1053.6 1085.28,1052.84 1086.28,1052.05 1087.28,1051.25 1088.27,1050.43 1089.27,1049.59 1090.26,1048.73 1091.26,1047.85 1092.25,1046.96 1093.25,1046.05 1094.25,1045.12 1095.24,1044.17 1096.24,1043.2 1097.23,1042.21 1098.23,1041.2 1099.23,1040.18 1100.22,1039.13 1101.22,1038.06 1102.21,1036.98 1103.21,1035.87 1104.21,1034.75 1105.2,1033.6 1106.2,1032.43 1107.19,1031.25 1108.19,1030.04 1109.19,1028.81 1110.18,1027.56 1111.18,1026.3 1112.17,1025.01 1113.17,1023.69 1114.17,1022.36 1115.16,1021.01 1116.16,1019.64 1117.15,1018.24 1118.15,1016.83 1119.15,1015.39 1120.14,1013.93 1121.14,1012.45 1122.13,1010.95 1123.13,1009.43 1124.12,1007.89 1125.12,1006.33 1126.12,1004.74 1127.11,1003.14 1128.11,1001.51 1129.1,999.86 1130.1,998.19 1131.1,996.5 1132.09,994.8 1133.09,993.07 1134.08,991.32 1135.08,989.54 1136.08,987.75 1137.07,985.94 1138.07,984.11 1139.06,982.26 1140.06,980.39 1141.06,978.5 1142.05,976.59 1143.05,974.66 1144.04,972.71 1145.04,970.75 1146.04,968.76 1147.03,966.76 1148.03,964.74 1149.02,962.7 1150.02,960.64 1151.02,958.57 1152.01,956.48 1153.01,954.37 1154,952.24 1155,950.1 1155.99,947.94 1156.99,945.77 1157.99,943.58 1158.98,941.38 1159.98,939.16 1160.97,936.93 1161.97,934.69 1162.97,932.43 1163.96,930.16 1164.96,927.87 1165.95,925.57 1166.95,923.26 1167.95,920.94 1168.94,918.61 1169.94,916.27 1170.93,913.91 1171.93,911.55 1172.93,909.18 1173.92,906.8 1174.92,904.41 1175.91,902.01 1176.91,899.6 1177.91,897.19 1178.9,894.77 1179.9,892.34 1180.89,889.91 1181.89,887.47 1182.89,885.03 1183.88,882.59 1184.88,880.14 1185.87,877.69 1186.87,875.23 1187.86,872.78 1188.86,870.32 1189.86,867.86 1190.85,865.4 1191.85,862.94 1192.84,860.48 1193.84,858.02 1194.84,855.57 1195.83,853.11 1196.83,850.66 1197.82,848.21 1198.82,845.77 1199.82,843.33 1200.81,840.89 1201.81,838.47 1202.8,836.04 1203.8,833.63 1204.8,831.22 1205.79,828.81 1206.79,826.42 1207.78,824.04 1208.78,821.66 1209.78,819.29 1210.77,816.94 1211.77,814.59 1212.76,812.26 1213.76,809.94 1214.76,807.63 1215.75,805.33 1216.75,803.05 1217.74,800.77 1218.74,798.52 1219.74,796.28 1220.73,794.05 1221.73,791.84 1222.72,789.64 1223.72,787.46 1224.71,785.3 1225.71,783.16 1226.71,781.03 1227.7,778.92 1228.7,776.83 1229.69,774.76 1230.69,772.7 1231.69,770.67 1232.68,768.66 1233.68,766.66 1234.67,764.69 1235.67,762.74 1236.67,760.8 1237.66,758.89 1238.66,757.01 1239.65,755.14 1240.65,753.29 1241.65,751.47 1242.64,749.67 1243.64,747.89 1244.63,746.14 1245.63,744.41 1246.63,742.7 1247.62,741.01 1248.62,739.35 1249.61,737.71 1250.61,736.1 1251.61,734.51 1252.6,732.94 1253.6,731.4 1254.59,729.88 1255.59,728.39 1256.58,726.92 1257.58,725.47 1258.58,724.05 1259.57,722.66 1260.57,721.28 1261.56,719.93 1262.56,718.61 1263.56,717.31 1264.55,716.03 1265.55,714.78 1266.54,713.55 1267.54,712.35 1268.54,711.17 1269.53,710.01 1270.53,708.88 1271.52,707.77 1272.52,706.68 1273.52,705.62 1274.51,704.58 1275.51,703.56 1276.5,702.57 1277.5,701.6 1278.5,700.65 1279.49,699.72 1280.49,698.81 1281.48,697.92 1282.48,697.06 1283.48,696.22 1284.47,695.4 1285.47,694.59 1286.46,693.81 1287.46,693.05 1288.45,692.31 1289.45,691.59 1290.45,690.89 1291.44,690.2 1292.44,689.54 1293.43,688.89 1294.43,688.26 1295.43,687.65 1296.42,687.06 1297.42,686.49 1298.41,685.93 1299.41,685.38 1300.41,684.86 1301.4,684.35 1302.4,683.85 1303.39,683.38 1304.39,682.91 1305.39,682.46 1306.38,682.03 1307.38,681.61 1308.37,681.2 1309.37,680.81 1310.37,680.43 1311.36,680.06 1312.36,679.71 1313.35,679.37 1314.35,679.04 1315.35,678.72 1316.34,678.41 1317.34,678.11 1318.33,677.83 1319.33,677.55 1320.33,677.29 1321.32,677.04 1322.32,676.79 1323.31,676.56 1324.31,676.33 1325.3,676.11 1326.3,675.9 1327.3,675.7 1328.29,675.51 1329.29,675.33 1330.28,675.15 1331.28,674.98 1332.28,674.82 1333.27,674.66 1334.27,674.51 1335.26,674.37 1336.26,674.24 1337.26,674.11 1338.25,673.98 1339.25,673.86 1340.24,673.75 1341.24,673.64 1342.24,673.54 1343.23,673.44 1344.23,673.34 1345.22,673.25 1346.22,673.17 1347.22,673.09 1348.21,673.01 1349.21,672.94 1350.2,672.87 1351.2,672.8 1352.2,672.74 1353.19,672.68 1354.19,672.62 1355.18,672.57 1356.18,672.52 1357.17,672.47 1358.17,672.42 1359.17,672.38 1360.16,672.34 1361.16,672.3 1362.15,672.26 1363.15,672.23 1364.15,672.19 1365.14,672.16 1366.14,672.13 1367.13,672.11 1368.13,672.08" fill="none" stroke="#2a2a2a" stroke-width="1.25"/>
<polyline points="970.75,1077.1 971.75,1077.1 972.74,1077.1 973.74,1077.1 974.73,1077.1 975.73,1077.1 976.73,1077.1 977.72,1077.1 978.72,1077.1 979.71,1077.1 980.71,1077.1 981.71,1077.1 982.7,1077.1 983.7,1077.1 984.69,1077.1 985.69,1077.1 986.69,1077.1 987.68,1077.1 988.68,1077.1 989.67,1077.1 990.67,1077.1 991.66,1077.1 992.66,1077.1 993.66,1077.1 994.65,1077.1 995.65,1077.1 996.64,1077.09 997.64,1077.09 998.64,1077.09 999.63,1077.09 1000.63,1077.09 1001.62,1077.09 1002.62,1077.08 1003.62,1077.08 1004.61,1077.08 1005.61,1077.08 1006.6,1077.07 1007.6,1077.07 1008.6,1077.06 1009.59,1077.06 1010.59,1077.05 1011.58,1077.05 1012.58,1077.04 1013.58,1077.03 1014.57,1077.02 1015.57,1077.02 1016.56,1077.01 1017.56,1077 1018.56,1076.98 1019.55,1076.97 1020.55,1076.96 1021.54,1076.94 1022.54,1076.93 1023.53,1076.91 1024.53,1076.89 1025.53,1076.87 1026.52,1076.85 1027.52,1076.83 1028.51,1076.81 1029.51,1076.78 1030.51,1076.75 1031.5,1076.72 1032.5,1076.69 1033.49,1076.66 1034.49,1076.62 1035.49,1076.59 1036.48,1076.55 1037.48,1076.5 1038.47,1076.46 1039.47,1076.41 1040.47,1076.36 1041.46,1076.31 1042.46,1076.25 1043.45,1076.19 1044.45,1076.13 1045.45,1076.06 1046.44,1075.99 1047.44,1075.92 1048.43,1075.84 1049.43,1075.76 1050.43,1075.68 1051.42,1075.59 1052.42,1075.49 1053.41,1075.4 1054.41,1075.29 1055.4,1075.19 1056.4,1075.07 1057.4,1074.95 1058.39,1074.83 1059.39,1074.7 1060.38,1074.57 1061.38,1074.43 1062.38,1074.28 1063.37,1074.13 1064.37,1073.97 1065.36,1073.8 1066.36,1073.63 1067.36,1073.45 1068.35,1073.26 1069.35,1073.07 1070.34,1072.86 1071.34,1072.65 1072.34,1072.43 1073.33,1072.2 1074.33,1071.97 1075.32,1071.72 1076.32,1071.47 1077.32,1071.21 1078.31,1070.93 1079.31,1070.65 1080.3,1070.36 1081.3,1070.05 1082.3,1069.74 1083.29,1069.41 1084.29,1069.08 1085.28,1068.73 1086.28,1068.37 1087.28,1068 1088.27,1067.62 1089.27,1067.22 1090.26,1066.81 1091.26,1066.39 1092.25,1065.96 1093.25,1065.51 1094.25,1065.04 1095.24,1064.57 1096.24,1064.08 1097.23,1063.57 1098.23,1063.05 1099.23,1062.51 1100.22,1061.96 1101.22,1061.39 1102.21,1060.8 1103.21,1060.2 1104.21,1059.58 1105.2,1058.95 1106.2,1058.29 1107.19,1057.62 1108.19,1056.93 1109.19,1056.22 1110.18,1055.5 1111.18,1054.75 1112.17,1053.99 1113.17,1053.2 1114.17,1052.4 1115.16,1051.57 1116.16,1050.72 1117.15,1049.86 1118.15,1048.97 1119.15,1048.06 1120.14,1047.12 1121.14,1046.17 1122.13,1045.19 1123.13,1044.19 1124.12,1043.17 1125.12,1042.12 1126.12,1041.05 1127.11,1039.96 1128.11,1038.84 1129.1,1037.7 1130.1,1036.53 1131.1,1035.34 1132.09,1034.12 1133.09,1032.88 1134.08,1031.61 1135.08,1030.32 1136.08,1029 1137.07,1027.65 1138.07,1026.28 1139.06,1024.88 1140.06,1023.45 1141.06,1022 1142.05,1020.51 1143.05,1019 1144.04,1017.47 1145.04,1015.9 1146.04,1014.31 1147.03,1012.69 1148.03,1011.04 1149.02,1009.36 1150.02,1007.65 1151.02,1005.92 1152.01,1004.15 1153.01,1002.36 1154,1000.54 1155,998.69 1155.99,996.81 1156.99,994.91 1157.99,992.97 1158.98,991.01 1159.98,989.01 1160.97,986.99 1161.97,984.94 1162.97,982.86 1163.96,980.76 1164.96,978.62 1165.95,976.46 1166.95,974.27 1167.95,972.05 1168.94,969.8 1169.94,967.53 1170.93,965.23 1171.93,962.9 1172.93,960.55 1173.92,958.17 1174.92,955.77 1175.91,953.34 1176.91,950.88 1177.91,948.4 1178.9,945.89 1179.9,943.37 1180.89,940.81 1181.89,938.24 1182.89,935.64 1183.88,933.02 1184.88,930.38 1185.87,927.72 1186.87,925.03 1187.86,922.33 1188.86,919.61 1189.86,916.87 1190.85,914.11 1191.85,911.33 1192.84,908.54 1193.84,905.73 1194.84,902.91 1195.83,900.07 1196.83,897.22 1197.82,894.35 1198.82,891.48 1199.82,888.59 1200.81,885.69 1201.81,882.78 1202.8,879.86 1203.8,876.94 1204.8,874.01 1205.79,871.07 1206.79,868.12 1207.78,865.17 1208.78,862.22 1209.78,859.27 1210.77,856.31 1211.77,853.36 1212.76,850.4 1213.76,847.45 1214.76,844.49 1215.75,841.54 1216.75,838.6 1217.74,835.66 1218.74,832.73 1219.74,829.8 1220.73,826.88 1221.73,823.98 1222.72,821.08 1223.72,818.19 1224.71,815.32 1225.71,812.46 1226.71,809.61 1227.7,806.78 1228.7,803.97 1229.69,801.17 1230.69,798.39 1231.69,795.63 1232.68,792.89 1233.68,790.17 1234.67,787.47 1235.67,784.8 1236.67,782.15 1237.66,779.52 1238.66,776.92 1239.65,774.34 1240.65,771.79 1241.65,769.27 1242.64,766.78 1243.64,764.32 1244.63,761.88 1245.63,759.48 1246.63,757.11 1247.62,754.77 1248.62,752.46 1249.61,750.19 1250.61,747.95 1251.61,745.74 1252.6,743.57 1253.6,741.43 1254.59,739.33 1255.59,737.26 1256.58,735.23 1257.58,733.23 1258.58,731.28 1259.57,729.35 1260.57,727.47 1261.56,725.62 1262.56,723.82 1263.56,722.04 1264.55,720.31 1265.55,718.61 1266.54,716.96 1267.54,715.34 1268.54,713.75 1269.53,712.21 1270.53,710.7 1271.52,709.23 1272.52,707.8 1273.52,706.4 1274.51,705.05 1275.51,703.73 1276.5,702.44 1277.5,701.19 1278.5,699.98 1279.49,698.8 1280.49,697.66 1281.48,696.55 1282.48,695.47 1283.48,694.43 1284.47,693.43 1285.47,692.45 1286.46,691.51 1287.46,690.6 1288.45,689.72 1289.45,688.88 1290.45,688.06 1291.44,687.27 1292.44,686.51 1293.43,685.78 1294.43,685.08 1295.43,684.4 1296.42,683.75 1297.42,683.13 1298.41,682.53 1299.41,681.96 1300.41,681.41 1301.4,680.89 1302.4,680.38 1303.39,679.9 1304.39,679.44 1305.39,679 1306.38,678.59 1307.38,678.19 1308.37,677.81 1309.37,677.45 1310.37,677.1 1311.36,676.77 1312.36,676.46 1313.35,676.17 1314.35,675.89 1315.35,675.62 1316.34,675.37 1317.34,675.13 1318.33,674.91 1319.33,674.7 1320.33,674.5 1321.32,674.31 1322.32,674.13 1323.31,673.96 1324.31,673.8 1325.3,673.66 1326.3,673.52 1327.3,673.39 1328.29,673.26 1329.29,673.15 1330.28,673.04 1331.28,672.94 1332.28,672.85 1333.27,672.76 1334.27,672.68 1335.26,672.6 1336.26,672.53 1337.26,672.46 1338.25,672.4 1339.25,672.34 1340.24,672.29 1341.24,672.24 1342.24,672.2 1343.23,672.15 1344.23,672.12 1345.22,672.08 1346.22,672.05 1347.22,672.02 1348.21,671.99 1349.21,671.96 1350.2,671.94 1351.2,671.92 1352.2,671.9 1353.19,671.88 1354.19,671.86 1355.18,671.85 1356.18,671.83 1357.17,671.82 1358.17,671.81 1359.17,671.8 1360.16,671.79 1361.16,671.78 1362.15,671.77 1363.15,671.76 1364.15,671.76 1365.14,671.75 1366.14,671.75 1367.13,671.74 1368.13,671.74" fill="none" stroke="#ff2a2a" stroke-width="1.25"/>
<polyline points="970.75,1077.1 971.75,1077.1 972.74,1077.1 973.74,1077.1 974.73,1077.1 975.73,1077.1 976.73,1077.1 977.72,1077.1 978.72,1077.1 979.71,1077.1 980.71,1077.1 981.71,1077.1 982.7,1077.1 983.7,1077.1 984.69,1077.1 985.69,1077.1 986.69,1077.1 987.68,1077.1 988.68,1077.1 989.67,1077.1 990.67,1077.1 991.66,1077.1 992.66,1077.1 993.66,1077.1 994.65,1077.1 995.65,1077.1 996.64,1077.1 997.64,1077.1 998.64,1077.1 999.63,1077.1 1000.63,1077.1 1001.62,1077.1 1002.62,1077.1 1003.62,1077.1 1004.61,1077.09 1005.61,1077.09 1006.6,1077.09 1007.6,1077.09 1008.6,1077.09 1009.59,1077.09 1010.59,1077.09 1011.58,1077.08 1012.58,1077.08 1013.58,1077.08 1014.57,1077.08 1015.57,1077.07 1016.56,1077.07 1017.56,1077.07 1018.56,1077.06 1019.55,1077.06 1020.55,1077.05 1021.54,1077.05 1022.54,1077.04 1023.53,1077.04 1024.53,1077.03 1025.53,1077.02 1026.52,1077.02 1027.52,1077.01 1028.51,1077 1029.51,1076.99 1030.51,1076.98 1031.5,1076.96 1032.5,1076.95 1033.49,1076.94 1034.49,1076.92 1035.49,1076.91 1036.48,1076.89 1037.48,1076.87 1038.47,1076.85 1039.47,1076.83 1040.47,1076.81 1041.46,1076.79 1042.46,1076.76 1043.45,1076.73 1044.45,1076.71 1045.45,1076.67 1046.44,1076.64 1047.44,1076.61 1048.43,1076.57 1049.43,1076.53 1050.43,1076.49 1051.42,1076.45 1052.42,1076.4 1053.41,1076.35 1054.41,1076.3 1055.4,1076.25 1056.4,1076.19 1057.4,1076.13 1058.39,1076.07 1059.39,1076 1060.38,1075.93 1061.38,1075.86 1062.38,1075.78 1063.37,1075.7 1064.37,1075.62 1065.36,1075.53 1066.36,1075.43 1067.36,1075.34 1068.35,1075.23 1069.35,1075.13 1070.34,1075.01 1071.34,1074.9 1072.34,1074.77 1073.33,1074.64 1074.33,1074.51 1075.32,1074.37 1076.32,1074.22 1077.32,1074.07 1078.31,1073.91 1079.31,1073.74 1080.3,1073.57 1081.3,1073.39 1082.3,1073.2 1083.29,1073.01 1084.29,1072.8 1085.28,1072.59 1086.28,1072.37 1087.28,1072.14 1088.27,1071.9 1089.27,1071.66 1090.26,1071.4 1091.26,1071.14 1092.25,1070.86 1093.25,1070.57 1094.25,1070.28 1095.24,1069.97 1096.24,1069.65 1097.23,1069.32 1098.23,1068.98 1099.23,1068.63 1100.22,1068.26 1101.22,1067.88 1102.21,1067.49 1103.21,1067.09 1104.21,1066.67 1105.2,1066.23 1106.2,1065.79 1107.19,1065.33 1108.19,1064.85 1109.19,1064.36 1110.18,1063.85 1111.18,1063.33 1112.17,1062.79 1113.17,1062.23 1114.17,1061.66 1115.16,1061.07 1116.16,1060.46 1117.15,1059.83 1118.15,1059.19 1119.15,1058.52 1120.14,1057.84 1121.14,1057.14 1122.13,1056.41 1123.13,1055.67 1124.12,1054.9 1125.12,1054.12 1126.12,1053.31 1127.11,1052.48 1128.11,1051.63 1129.1,1050.75 1130.1,1049.85 1131.1,1048.93 1132.09,1047.99 1133.09,1047.02 1134.08,1046.02 1135.08,1045 1136.08,1043.96 1137.07,1042.88 1138.07,1041.79 1139.06,1040.66 1140.06,1039.51 1141.06,1038.33 1142.05,1037.12 1143.05,1035.89 1144.04,1034.63 1145.04,1033.33 1146.04,1032.01 1147.03,1030.66 1148.03,1029.28 1149.02,1027.87 1150.02,1026.43 1151.02,1024.96 1152.01,1023.46 1153.01,1021.92 1154,1020.36 1155,1018.76 1155.99,1017.13 1156.99,1015.47 1157.99,1013.77 1158.98,1012.05 1159.98,1010.29 1160.97,1008.49 1161.97,1006.67 1162.97,1004.81 1163.96,1002.92 1164.96,1000.99 1165.95,999.03 1166.95,997.03 1167.95,995.01 1168.94,992.94 1169.94,990.85 1170.93,988.72 1171.93,986.55 1172.93,984.36 1173.92,982.13 1174.92,979.86 1175.91,977.56 1176.91,975.23 1177.91,972.87 1178.9,970.47 1179.9,968.04 1180.89,965.57 1181.89,963.08 1182.89,960.55 1183.88,957.99 1184.88,955.4 1185.87,952.77 1186.87,950.12 1187.86,947.44 1188.86,944.72 1189.86,941.98 1190.85,939.21 1191.85,936.41 1192.84,933.59 1193.84,930.73 1194.84,927.85 1195.83,924.95 1196.83,922.02 1197.82,919.06 1198.82,916.08 1199.82,913.08 1200.81,910.06 1201.81,907.02 1202.8,903.95 1203.8,900.87 1204.8,897.77 1205.79,894.65 1206.79,891.52 1207.78,888.37 1208.78,885.2 1209.78,882.03 1210.77,878.84 1211.77,875.64 1212.76,872.43 1213.76,869.21 1214.76,865.99 1215.75,862.76 1216.75,859.52 1217.74,856.28 1218.74,853.04 1219.74,849.79 1220.73,846.55 1221.73,843.31 1222.72,840.07 1223.72,836.84 1224.71,833.61 1225.71,830.39 1226.71,827.17 1227.7,823.97 1228.7,820.78 1229.69,817.6 1230.69,814.43 1231.69,811.28 1232.68,808.14 1233.68,805.02 1234.67,801.93 1235.67,798.85 1236.67,795.79 1237.66,792.76 1238.66,789.75 1239.65,786.76 1240.65,783.81 1241.65,780.88 1242.64,777.98 1243.64,775.11 1244.63,772.27 1245.63,769.47 1246.63,766.69 1247.62,763.96 1248.62,761.26 1249.61,758.59 1250.61,755.97 1251.61,753.38 1252.6,750.83 1253.6,748.32 1254.59,745.86 1255.59,743.43 1256.58,741.05 1257.58,738.71 1258.58,736.41 1259.57,734.16 1260.57,731.95 1261.56,729.79 1262.56,727.67 1263.56,725.6 1264.55,723.58 1265.55,721.6 1266.54,719.67 1267.54,717.79 1268.54,715.95 1269.53,714.16 1270.53,712.41 1271.52,710.72 1272.52,709.06 1273.52,707.46 1274.51,705.9 1275.51,704.39 1276.5,702.93 1277.5,701.51 1278.5,700.13 1279.49,698.8 1280.49,697.51 1281.48,696.27 1282.48,695.07 1283.48,693.91 1284.47,692.79 1285.47,691.72 1286.46,690.68 1287.46,689.69 1288.45,688.73 1289.45,687.82 1290.45,686.93 1291.44,686.09 1292.44,685.28 1293.43,684.51 1294.43,683.77 1295.43,683.06 1296.42,682.39 1297.42,681.75 1298.41,681.14 1299.41,680.55 1300.41,680 1301.4,679.47 1302.4,678.98 1303.39,678.5 1304.39,678.05 1305.39,677.63 1306.38,677.23 1307.38,676.85 1308.37,676.49 1309.37,676.15 1310.37,675.84 1311.36,675.54 1312.36,675.26 1313.35,674.99 1314.35,674.75 1315.35,674.52 1316.34,674.3 1317.34,674.1 1318.33,673.91 1319.33,673.73 1320.33,673.57 1321.32,673.41 1322.32,673.27 1323.31,673.14 1324.31,673.02 1325.3,672.9 1326.3,672.8 1327.3,672.7 1328.29,672.61 1329.29,672.53 1330.28,672.46 1331.28,672.39 1332.28,672.32 1333.27,672.26 1334.27,672.21 1335.26,672.16 1336.26,672.11 1337.26,672.07 1338.25,672.04 1339.25,672 1340.24,671.97 1341.24,671.94 1342.24,671.92 1343.23,671.89 1344.23,671.87 1345.22,671.85 1346.22,671.84 1347.22,671.82 1348.21,671.81 1349.21,671.8 1350.2,671.78 1351.2,671.78 1352.2,671.77 1353.19,671.76 1354.19,671.75 1355.18,671.75 1356.18,671.74 1357.17,671.73 1358.17,671.73 1359.17,671.73 1360.16,671.72 1361.16,671.72 1362.15,671.72 1363.15,671.72 1364.15,671.71 1365.14,671.71 1366.14,671.71 1367.13,671.71 1368.13,671.71" fill="none" stroke="#2a2aff" stroke-width="1.25"/>
<polyline points="970.75,1077.1 972.14,1077.1 973.53,1077.1 974.91,1077.1 976.3,1077.1 977.69,1077.1 979.08,1077.1 980.47,1077.1 981.85,1077.1 983.24,1077.1 984.63,1077.1 986.02,1077.1 987.41,1077.1 988.79,1077.1 990.18,1077.1 991.57,1077.1 992.96,1077.1 994.35,1077.1 995.74,1077.1 997.12,1077.1 998.51,1077.1 999.9,1077.1 1001.29,1077.1 1002.68,1077.1 1004.06,1077.1 1005.45,1077.1 1006.84,1077.1 1008.23,1077.1 1009.62,1077.1 1011,1077.1 1012.39,1077.1 1013.78,1077.1 1015.17,1077.1 1016.56,1077.1 1017.94,1077.1 1019.33,1077.1 1020.72,1077.1 1022.11,1077.1 1023.5,1077.09 1024.88,1077.09 1026.27,1077.09 1027.66,1077.09 1029.05,1077.09 1030.44,1077.09 1031.83,1077.08 1033.21,1077.08 1034.6,1077.08 1035.99,1077.07 1037.38,1077.07 1038.77,1077.07 1040.15,1077.06 1041.54,1077.05 1042.93,1077.05 1044.32,1077.04 1045.71,1077.03 1047.09,1077.02 1048.48,1077.01 1049.87,1077 1051.26,1076.99 1052.65,1076.98 1054.03,1076.96 1055.42,1076.94 1056.81,1076.93 1058.2,1076.91 1059.59,1076.88 1060.97,1076.86 1062.36,1076.83 1063.75,1076.8 1065.14,1076.77 1066.53,1076.74 1067.91,1076.7 1069.3,1076.66 1070.69,1076.61 1072.08,1076.57 1073.47,1076.51 1074.86,1076.46 1076.24,1076.4 1077.63,1076.33 1079.02,1076.26 1080.41,1076.18 1081.8,1076.1 1083.18,1076.01 1084.57,1075.91 1085.96,1075.81 1087.35,1075.7 1088.74,1075.58 1090.12,1075.46 1091.51,1075.32 1092.9,1075.18 1094.29,1075.02 1095.68,1074.85 1097.06,1074.68 1098.45,1074.49 1099.84,1074.29 1101.23,1074.08 1102.62,1073.85 1104,1073.61 1105.39,1073.35 1106.78,1073.08 1108.17,1072.79 1109.56,1072.48 1110.95,1072.16 1112.33,1071.81 1113.72,1071.45 1115.11,1071.06 1116.5,1070.65 1117.89,1070.22 1119.27,1069.77 1120.66,1069.29 1122.05,1068.78 1123.44,1068.25 1124.83,1067.69 1126.21,1067.1 1127.6,1066.48 1128.99,1065.82 1130.38,1065.13 1131.77,1064.41 1133.15,1063.65 1134.54,1062.86 1135.93,1062.02 1137.32,1061.15 1138.71,1060.23 1140.09,1059.27 1141.48,1058.26 1142.87,1057.21 1144.26,1056.11 1145.65,1054.96 1147.03,1053.76 1148.42,1052.51 1149.81,1051.2 1151.2,1049.84 1152.59,1048.42 1153.98,1046.94 1155.36,1045.39 1156.75,1043.79 1158.14,1042.12 1159.53,1040.38 1160.92,1038.58 1162.3,1036.71 1163.69,1034.76 1165.08,1032.74 1166.47,1030.65 1167.86,1028.48 1169.24,1026.24 1170.63,1023.91 1172.02,1021.51 1173.41,1019.02 1174.8,1016.45 1176.18,1013.79 1177.57,1011.05 1178.96,1008.22 1180.35,1005.3 1181.74,1002.3 1183.12,999.2 1184.51,996.02 1185.9,992.74 1187.29,989.37 1188.68,985.91 1190.07,982.36 1191.45,978.71 1192.84,974.98 1194.23,971.15 1195.62,967.23 1197.01,963.22 1198.39,959.12 1199.78,954.93 1201.17,950.65 1202.56,946.29 1203.95,941.85 1205.33,937.32 1206.72,932.71 1208.11,928.02 1209.5,923.26 1210.89,918.42 1212.27,913.52 1213.66,908.55 1215.05,903.52 1216.44,898.43 1217.83,893.28 1219.21,888.09 1220.6,882.85 1221.99,877.57 1223.38,872.25 1224.77,866.9 1226.15,861.53 1227.54,856.14 1228.93,850.74 1230.32,845.32 1231.71,839.91 1233.1,834.5 1234.48,829.11 1235.87,823.73 1237.26,818.37 1238.65,813.05 1240.04,807.76 1241.42,802.52 1242.81,797.33 1244.2,792.2 1245.59,787.13 1246.98,782.13 1248.36,777.21 1249.75,772.36 1251.14,767.61 1252.53,762.95 1253.92,758.4 1255.3,753.94 1256.69,749.6 1258.08,745.37 1259.47,741.25 1260.86,737.26 1262.24,733.39 1263.63,729.66 1265.02,726.05 1266.41,722.57 1267.8,719.23 1269.19,716.03 1270.57,712.96 1271.96,710.02 1273.35,707.23 1274.74,704.57 1276.13,702.04 1277.51,699.65 1278.9,697.39 1280.29,695.26 1281.68,693.25 1283.07,691.37 1284.45,689.62 1285.84,687.97 1287.23,686.44 1288.62,685.02 1290.01,683.71 1291.39,682.5 1292.78,681.38 1294.17,680.35 1295.56,679.41 1296.95,678.55 1298.33,677.77 1299.72,677.07 1301.11,676.43 1302.5,675.85 1303.89,675.33 1305.27,674.87 1306.66,674.45 1308.05,674.08 1309.44,673.76 1310.83,673.47 1312.22,673.22 1313.6,673 1314.99,672.8 1316.38,672.63 1317.77,672.49 1319.16,672.36 1320.54,672.25 1321.93,672.16 1323.32,672.08 1324.71,672.02 1326.1,671.96 1327.48,671.91 1328.87,671.87 1330.26,671.84 1331.65,671.81 1333.04,671.79 1334.42,671.77 1335.81,671.76 1337.2,671.75 1338.59,671.74 1339.98,671.73 1341.36,671.72 1342.75,671.72 1344.14,671.71 1345.53,671.71 1346.92,671.71 1348.31,671.71 1349.69,671.7 1351.08,671.7 1352.47,671.7 1353.86,671.7 1355.25,671.7 1356.63,671.7 1358.02,671.7 1359.41,671.7 1360.8,671.7 1362.19,671.7 1363.57,671.7 1364.96,671.7 1366.35,671.7 1367.74,671.7 1369.13,671.7 1370.51,671.7 1371.9,671.7 1373.29,671.7 1374.68,671.7 1376.07,671.7 1377.45,671.7 1378.84,671.7 1380.23,671.7 1381.62,671.7 1383.01,671.7 1384.39,671.7 1385.78,671.7 1387.17,671.7 1388.56,671.7 1389.95,671.7 1391.34,671.7 1392.72,671.7 1394.11,671.7 1395.5,671.7 1396.89,671.7 1398.28,671.7 1399.66,671.7 1401.05,671.7 1402.44,671.7 1403.83,671.7 1405.22,671.7 1406.6,671.7 1407.99,671.7 1409.38,671.7 1410.77,671.7 1412.16,671.7 1413.54,671.7 1414.93,671.7 1416.32,671.7 1417.71,671.7 1419.1,671.7 1420.48,671.7 1421.87,671.7 1423.26,671.7 1424.65,671.7 1426.04,671.7 1427.43,671.7 1428.81,671.7 1430.2,671.7 1431.59,671.7 1432.98,671.7 1434.37,671.7 1435.75,671.7 1437.14,671.7 1438.53,671.7 1439.92,671.7 1441.31,671.7 1442.69,671.7 1444.08,671.7 1445.47,671.7 1446.86,671.7 1448.25,671.7 1449.63,671.7 1451.02,671.7 1452.41,671.7 1453.8,671.7 1455.19,671.7 1456.57,671.7 1457.96,671.7 1459.35,671.7 1460.74,671.7 1462.13,671.7 1463.51,671.7 1464.9,671.7 1466.29,671.7 1467.68,671.7 1469.07,671.7 1470.46,671.7 1471.84,671.7 1473.23,671.7 1474.62,671.7 1476.01,671.7 1477.4,671.7 1478.78,671.7 1480.17,671.7 1481.56,671.7 1482.95,671.7 1484.34,671.7 1485.72,671.7 1487.11,671.7 1488.5,671.7 1489.89,671.7 1491.28,671.7 1492.66,671.7 1494.05,671.7 1495.44,671.7 1496.83,671.7 1498.22,671.7 1499.6,671.7 1500.99,671.7 1502.38,671.7 1503.77,671.7 1505.16,671.7 1506.55,671.7 1507.93,671.7 1509.32,671.7 1510.71,671.7 1512.1,671.7 1513.49,671.7 1514.87,671.7 1516.26,671.7 1517.65,671.7 1519.04,671.7 1520.43,671.7 1521.81,671.7 1523.2,671.7 1524.59,671.7" fill="none" stroke="#2aff2a" stroke-width="1.25"/>
</g>
<g style="font-family:'Liberation Sans',Arial,sans-serif;font-size:23px" fill="#1a1a1a">
<text x="956.25" y="1085.3" text-anchor="end">0</text>
<text x="956.25" y="1004.22" text-anchor="end">20</text>
<text x="956.25" y="923.14" text-anchor="end">40</text>
<text x="956.25" y="842.06" text-anchor="end">60</text>
<text x="956.25" y="760.98" text-anchor="end">80</text>
<text x="956.25" y="679.9" text-anchor="end">100</text>
<text x="970.75" y="1111.6" text-anchor="middle">0</text>
<text x="1247.67" y="1111.6" text-anchor="middle">2</text>
<text x="1524.59" y="1111.6" text-anchor="middle">4</text>
<text transform="translate(908,854.13) rotate(-90)" text-anchor="middle" style="font-size:26px">Q3 (%)</text>
<text x="1248.07" y="1152.9" text-anchor="middle" style="font-size:25px;letter-spacing:0.3px">x (mm)</text>
</g>
<rect x="1384.7" y="943" width="146.1" height="116.5" fill="#fff" stroke="#666" stroke-width="1.2"/>
<g style="font-family:'Liberation Sans',Arial,sans-serif;font-size:22.5px" fill="#1a1a1a">
<rect x="1407.5" y="953.6" width="10" height="10" fill="#000000"/>
<text x="1445.2" y="966.1">conf 2.1</text>
<rect x="1407.5" y="982.2" width="10" height="10" fill="#ff0000"/>
<text x="1445.2" y="994.7">conf 2.2</text>
<rect x="1407.5" y="1010.8" width="10" height="10" fill="#0000ff"/>
<text x="1445.2" y="1023.3">conf 2.3</text>
<rect x="1407.5" y="1039.4" width="10" height="10" fill="#00ff00"/>
<text x="1445.2" y="1051.9">conf 2.4</text>
</g>
<g stroke="#1a1a1a" stroke-width="1.5" fill="none">
<line x1="109" y1="1645.9" x2="109" y2="1189"/>
<line x1="101" y1="1645.9" x2="678" y2="1645.9"/>
<line x1="101" y1="1645.9" x2="109" y2="1645.9"/>
<line x1="101" y1="1565.76" x2="109" y2="1565.76"/>
<line x1="101" y1="1485.62" x2="109" y2="1485.62"/>
<line x1="101" y1="1405.48" x2="109" y2="1405.48"/>
<line x1="101" y1="1325.34" x2="109" y2="1325.34"/>
<line x1="101" y1="1245.2" x2="109" y2="1245.2"/>
<line x1="105" y1="1605.83" x2="109" y2="1605.83"/>
<line x1="105" y1="1525.69" x2="109" y2="1525.69"/>
<line x1="105" y1="1445.55" x2="109" y2="1445.55"/>
<line x1="105" y1="1365.41" x2="109" y2="1365.41"/>
<line x1="105" y1="1285.27" x2="109" y2="1285.27"/>
<line x1="105" y1="1205.13" x2="109" y2="1205.13"/>
<line x1="109" y1="1645.9" x2="109" y2="1654.4"/>
<line x1="327.98" y1="1645.9" x2="327.98" y2="1654.4"/>
<line x1="546.96" y1="1645.9" x2="546.96" y2="1654.4"/>
<line x1="218.49" y1="1645.9" x2="218.49" y2="1650.4"/>
<line x1="437.47" y1="1645.9" x2="437.47" y2="1650.4"/>
<line x1="656.45" y1="1645.9" x2="656.45" y2="1650.4"/>
</g>
<path d="M109,1183.4 L114.5,1194.8 L109,1191.4 L103.5,1194.8 Z" fill="#1a1a1a" stroke="#1a1a1a" stroke-width="0.8" stroke-linejoin="round"/>
<path d="M683.6,1645.9 L672.2,1640.4 L675.6,1645.9 L672.2,1651.4 Z" fill="#1a1a1a" stroke="#1a1a1a" stroke-width="0.8" stroke-linejoin="round"/>
<clipPath id="cP5"><rect x="109" y="1197.12" width="547.45" height="449.78"/></clipPath>
<g clip-path="url(#cP5)">
<rect x="159.15" y="1633.69" width="9.2" height="9.2" fill="#000000"/>
<rect x="170.09" y="1626.87" width="9.2" height="9.2" fill="#000000"/>
<rect x="182.14" y="1614.85" width="9.2" height="9.2" fill="#000000"/>
<rect x="197.47" y="1597.06" width="9.2" height="9.2" fill="#000000"/>
<rect x="213.89" y="1569.45" width="9.2" height="9.2" fill="#000000"/>
<rect x="233.6" y="1536.24" width="9.2" height="9.2" fill="#000000"/>
<rect x="257.69" y="1491.84" width="9.2" height="9.2" fill="#000000"/>
<rect x="290.53" y="1431.01" width="9.2" height="9.2" fill="#000000"/>
<rect x="323.38" y="1378.96" width="9.2" height="9.2" fill="#000000"/>
<rect x="362.8" y="1326.55" width="9.2" height="9.2" fill="#000000"/>
<rect x="410.97" y="1286.12" width="9.2" height="9.2" fill="#000000"/>
<rect x="471.19" y="1254.5" width="9.2" height="9.2" fill="#000000"/>
<rect x="542.36" y="1244.89" width="9.2" height="9.2" fill="#000000"/>
<rect x="159.15" y="1633.69" width="9.2" height="9.2" fill="#ff0000"/>
<rect x="170.09" y="1626.47" width="9.2" height="9.2" fill="#ff0000"/>
<rect x="182.14" y="1614.05" width="9.2" height="9.2" fill="#ff0000"/>
<rect x="197.47" y="1593.1" width="9.2" height="9.2" fill="#ff0000"/>
<rect x="213.89" y="1563.84" width="9.2" height="9.2" fill="#ff0000"/>
<rect x="233.6" y="1529.06" width="9.2" height="9.2" fill="#ff0000"/>
<rect x="257.69" y="1474.21" width="9.2" height="9.2" fill="#ff0000"/>
<rect x="290.53" y="1411.38" width="9.2" height="9.2" fill="#ff0000"/>
<rect x="323.38" y="1356.96" width="9.2" height="9.2" fill="#ff0000"/>
<rect x="362.8" y="1304.91" width="9.2" height="9.2" fill="#ff0000"/>
<rect x="410.97" y="1266.93" width="9.2" height="9.2" fill="#ff0000"/>
<rect x="471.19" y="1248.89" width="9.2" height="9.2" fill="#ff0000"/>
<rect x="542.36" y="1242.48" width="9.2" height="9.2" fill="#ff0000"/>
<rect x="159.15" y="1634.09" width="9.2" height="9.2" fill="#0000ff"/>
<rect x="170.09" y="1627.28" width="9.2" height="9.2" fill="#0000ff"/>
<rect x="182.14" y="1616.46" width="9.2" height="9.2" fill="#0000ff"/>
<rect x="197.47" y="1597.62" width="9.2" height="9.2" fill="#0000ff"/>
<rect x="213.89" y="1568.25" width="9.2" height="9.2" fill="#0000ff"/>
<rect x="233.6" y="1523.85" width="9.2" height="9.2" fill="#0000ff"/>
<rect x="257.69" y="1470.6" width="9.2" height="9.2" fill="#0000ff"/>
<rect x="290.53" y="1396.99" width="9.2" height="9.2" fill="#0000ff"/>
<rect x="323.38" y="1338.13" width="9.2" height="9.2" fill="#0000ff"/>
<rect x="362.8" y="1288.12" width="9.2" height="9.2" fill="#0000ff"/>
<rect x="410.97" y="1258.51" width="9.2" height="9.2" fill="#0000ff"/>
<rect x="471.19" y="1246.89" width="9.2" height="9.2" fill="#0000ff"/>
<rect x="542.36" y="1242.08" width="9.2" height="9.2" fill="#0000ff"/>
<rect x="106.59" y="1641.3" width="9.2" height="9.2" fill="#00ff00"/>
<rect x="107.14" y="1641.3" width="9.2" height="9.2" fill="#00ff00"/>
<rect x="107.9" y="1641.3" width="9.2" height="9.2" fill="#00ff00"/>
<rect x="108.56" y="1641.3" width="9.2" height="9.2" fill="#00ff00"/>
<rect x="109.33" y="1641.3" width="9.2" height="9.2" fill="#00ff00"/>
<rect x="110.2" y="1641.3" width="9.2" height="9.2" fill="#00ff00"/>
<rect x="111.3" y="1641.3" width="9.2" height="9.2" fill="#00ff00"/>
<rect x="112.61" y="1641.3" width="9.2" height="9.2" fill="#00ff00"/>
<rect x="114.25" y="1641.3" width="9.2" height="9.2" fill="#00ff00"/>
<rect x="116.01" y="1641.3" width="9.2" height="9.2" fill="#00ff00"/>
<rect x="118.09" y="1641.3" width="9.2" height="9.2" fill="#00ff00"/>
<rect x="120.82" y="1641.3" width="9.2" height="9.2" fill="#00ff00"/>
<rect x="124.11" y="1641.3" width="9.2" height="9.2" fill="#00ff00"/>
<rect x="127.61" y="1641.3" width="9.2" height="9.2" fill="#00ff00"/>
<rect x="131.77" y="1641.3" width="9.2" height="9.2" fill="#00ff00"/>
<rect x="137.25" y="1641.3" width="9.2" height="9.2" fill="#00ff00"/>
<rect x="143.27" y="1641.3" width="9.2" height="9.2" fill="#00ff00"/>
<rect x="150.93" y="1641.3" width="9.2" height="9.2" fill="#00ff00"/>
<rect x="159.15" y="1633.01" width="9.2" height="9.2" fill="#00ff00"/>
<rect x="170.09" y="1625.39" width="9.2" height="9.2" fill="#00ff00"/>
<rect x="182.14" y="1610.85" width="9.2" height="9.2" fill="#00ff00"/>
<rect x="197.47" y="1583.88" width="9.2" height="9.2" fill="#00ff00"/>
<rect x="213.89" y="1547.86" width="9.2" height="9.2" fill="#00ff00"/>
<rect x="233.6" y="1495.45" width="9.2" height="9.2" fill="#00ff00"/>
<rect x="257.69" y="1429.81" width="9.2" height="9.2" fill="#00ff00"/>
<rect x="290.53" y="1350.55" width="9.2" height="9.2" fill="#00ff00"/>
<rect x="323.38" y="1296.94" width="9.2" height="9.2" fill="#00ff00"/>
<rect x="362.8" y="1262.92" width="9.2" height="9.2" fill="#00ff00"/>
<rect x="410.97" y="1246.89" width="9.2" height="9.2" fill="#00ff00"/>
<rect x="471.19" y="1243.28" width="9.2" height="9.2" fill="#00ff00"/>
<rect x="542.36" y="1241.28" width="9.2" height="9.2" fill="#00ff00"/>
<rect x="624.48" y="1241.28" width="9.2" height="9.2" fill="#00ff00"/>
<polyline points="109,1645.9 110.19,1645.9 111.38,1645.89 112.57,1645.88 113.76,1645.86 114.95,1645.83 116.15,1645.79 117.34,1645.74 118.53,1645.68 119.72,1645.6 120.91,1645.52 122.1,1645.42 123.29,1645.31 124.48,1645.18 125.67,1645.04 126.86,1644.89 128.06,1644.72 129.25,1644.53 130.44,1644.33 131.63,1644.11 132.82,1643.88 134.01,1643.63 135.2,1643.36 136.39,1643.08 137.58,1642.77 138.77,1642.45 139.96,1642.11 141.16,1641.75 142.35,1641.38 143.54,1640.98 144.73,1640.56 145.92,1640.13 147.11,1639.67 148.3,1639.2 149.49,1638.71 150.68,1638.19 151.87,1637.66 153.06,1637.1 154.26,1636.52 155.45,1635.93 156.64,1635.31 157.83,1634.67 159.02,1634.01 160.21,1633.33 161.4,1632.62 162.59,1631.9 163.78,1631.15 164.97,1630.38 166.17,1629.6 167.36,1628.78 168.55,1627.95 169.74,1627.1 170.93,1626.22 172.12,1625.32 173.31,1624.4 174.5,1623.46 175.69,1622.49 176.88,1621.5 178.07,1620.5 179.27,1619.46 180.46,1618.41 181.65,1617.34 182.84,1616.24 184.03,1615.12 185.22,1613.98 186.41,1612.82 187.6,1611.64 188.79,1610.43 189.98,1609.21 191.18,1607.96 192.37,1606.69 193.56,1605.4 194.75,1604.09 195.94,1602.76 197.13,1601.4 198.32,1600.03 199.51,1598.64 200.7,1597.22 201.89,1595.79 203.08,1594.33 204.28,1592.86 205.47,1591.36 206.66,1589.85 207.85,1588.31 209.04,1586.76 210.23,1585.19 211.42,1583.6 212.61,1581.99 213.8,1580.36 214.99,1578.72 216.18,1577.05 217.38,1575.37 218.57,1573.67 219.76,1571.96 220.95,1570.22 222.14,1568.47 223.33,1566.71 224.52,1564.93 225.71,1563.13 226.9,1561.31 228.09,1559.48 229.29,1557.64 230.48,1555.78 231.67,1553.91 232.86,1552.02 234.05,1550.12 235.24,1548.2 236.43,1546.27 237.62,1544.33 238.81,1542.38 240,1540.41 241.19,1538.43 242.39,1536.44 243.58,1534.44 244.77,1532.42 245.96,1530.4 247.15,1528.37 248.34,1526.32 249.53,1524.27 250.72,1522.21 251.91,1520.13 253.1,1518.05 254.3,1515.96 255.49,1513.87 256.68,1511.76 257.87,1509.65 259.06,1507.53 260.25,1505.41 261.44,1503.27 262.63,1501.14 263.82,1498.99 265.01,1496.85 266.2,1494.69 267.4,1492.54 268.59,1490.38 269.78,1488.21 270.97,1486.04 272.16,1483.87 273.35,1481.7 274.54,1479.53 275.73,1477.35 276.92,1475.17 278.11,1472.99 279.3,1470.81 280.5,1468.63 281.69,1466.45 282.88,1464.27 284.07,1462.09 285.26,1459.91 286.45,1457.73 287.64,1455.56 288.83,1453.38 290.02,1451.21 291.21,1449.05 292.41,1446.88 293.6,1444.72 294.79,1442.56 295.98,1440.41 297.17,1438.26 298.36,1436.11 299.55,1433.97 300.74,1431.84 301.93,1429.71 303.12,1427.59 304.31,1425.47 305.51,1423.36 306.7,1421.26 307.89,1419.17 309.08,1417.08 310.27,1415 311.46,1412.93 312.65,1410.87 313.84,1408.81 315.03,1406.77 316.22,1404.73 317.42,1402.7 318.61,1400.68 319.8,1398.68 320.99,1396.68 322.18,1394.69 323.37,1392.72 324.56,1390.75 325.75,1388.8 326.94,1386.86 328.13,1384.93 329.32,1383.01 330.52,1381.1 331.71,1379.21 332.9,1377.32 334.09,1375.45 335.28,1373.6 336.47,1371.75 337.66,1369.92 338.85,1368.1 340.04,1366.3 341.23,1364.51 342.42,1362.73 343.62,1360.97 344.81,1359.22 346,1357.49 347.19,1355.77 348.38,1354.06 349.57,1352.37 350.76,1350.69 351.95,1349.03 353.14,1347.39 354.33,1345.76 355.53,1344.14 356.72,1342.54 357.91,1340.95 359.1,1339.38 360.29,1337.83 361.48,1336.29 362.67,1334.76 363.86,1333.26 365.05,1331.76 366.24,1330.29 367.43,1328.83 368.63,1327.38 369.82,1325.95 371.01,1324.54 372.2,1323.14 373.39,1321.76 374.58,1320.4 375.77,1319.05 376.96,1317.71 378.15,1316.39 379.34,1315.09 380.54,1313.81 381.73,1312.54 382.92,1311.28 384.11,1310.05 385.3,1308.82 386.49,1307.62 387.68,1306.43 388.87,1305.25 390.06,1304.09 391.25,1302.95 392.44,1301.82 393.64,1300.71 394.83,1299.61 396.02,1298.53 397.21,1297.46 398.4,1296.41 399.59,1295.38 400.78,1294.36 401.97,1293.35 403.16,1292.36 404.35,1291.39 405.55,1290.42 406.74,1289.48 407.93,1288.55 409.12,1287.63 410.31,1286.73 411.5,1285.84 412.69,1284.97 413.88,1284.11 415.07,1283.26 416.26,1282.43 417.45,1281.61 418.65,1280.81 419.84,1280.01 421.03,1279.24 422.22,1278.47 423.41,1277.72 424.6,1276.98 425.79,1276.26 426.98,1275.55 428.17,1274.85 429.36,1274.16 430.55,1273.49 431.75,1272.82 432.94,1272.17 434.13,1271.54 435.32,1270.91 436.51,1270.3 437.7,1269.69 438.89,1269.1 440.08,1268.52 441.27,1267.95 442.46,1267.4 443.66,1266.85 444.85,1266.32 446.04,1265.79 447.23,1265.28 448.42,1264.77 449.61,1264.28 450.8,1263.79 451.99,1263.32 453.18,1262.86 454.37,1262.4 455.56,1261.96 456.76,1261.52 457.95,1261.1 459.14,1260.68 460.33,1260.27 461.52,1259.87 462.71,1259.48 463.9,1259.1 465.09,1258.73 466.28,1258.36 467.47,1258.01 468.67,1257.66 469.86,1257.32 471.05,1256.99 472.24,1256.66 473.43,1256.34 474.62,1256.03 475.81,1255.73 477,1255.43 478.19,1255.15 479.38,1254.86 480.57,1254.59 481.77,1254.32 482.96,1254.06 484.15,1253.8 485.34,1253.55 486.53,1253.31 487.72,1253.07 488.91,1252.84 490.1,1252.62 491.29,1252.4 492.48,1252.18 493.67,1251.97 494.87,1251.77 496.06,1251.57 497.25,1251.38 498.44,1251.19 499.63,1251.01 500.82,1250.83 502.01,1250.66 503.2,1250.49 504.39,1250.33 505.58,1250.17 506.78,1250.01 507.97,1249.86 509.16,1249.71 510.35,1249.57 511.54,1249.43 512.73,1249.29 513.92,1249.16 515.11,1249.04 516.3,1248.91 517.49,1248.79 518.68,1248.67 519.88,1248.56 521.07,1248.45 522.26,1248.34 523.45,1248.24 524.64,1248.14 525.83,1248.04 527.02,1247.94 528.21,1247.85 529.4,1247.76 530.59,1247.68 531.79,1247.59 532.98,1247.51 534.17,1247.43 535.36,1247.35 536.55,1247.28 537.74,1247.21 538.93,1247.14 540.12,1247.07 541.31,1247 542.5,1246.94 543.69,1246.88 544.89,1246.82 546.08,1246.76 547.27,1246.71 548.46,1246.65 549.65,1246.6 550.84,1246.55 552.03,1246.5 553.22,1246.45 554.41,1246.41 555.6,1246.36 556.79,1246.32 557.99,1246.28 559.18,1246.24 560.37,1246.2 561.56,1246.16 562.75,1246.13 563.94,1246.09 565.13,1246.06 566.32,1246.02 567.51,1245.99 568.7,1245.96 569.9,1245.93 571.09,1245.91 572.28,1245.88 573.47,1245.85 574.66,1245.83 575.85,1245.8 577.04,1245.78 578.23,1245.76 579.42,1245.73 580.61,1245.71 581.8,1245.69 583,1245.67 584.19,1245.65" fill="none" stroke="#2a2a2a" stroke-width="1.25"/>
<polyline points="109,1645.9 110.07,1645.9 111.15,1645.9 112.22,1645.89 113.29,1645.88 114.36,1645.86 115.44,1645.84 116.51,1645.81 117.58,1645.77 118.66,1645.72 119.73,1645.67 120.8,1645.6 121.88,1645.53 122.95,1645.45 124.02,1645.35 125.09,1645.25 126.17,1645.13 127.24,1645.01 128.31,1644.87 129.39,1644.71 130.46,1644.55 131.53,1644.37 132.6,1644.18 133.68,1643.97 134.75,1643.75 135.82,1643.52 136.9,1643.27 137.97,1643 139.04,1642.73 140.12,1642.43 141.19,1642.12 142.26,1641.79 143.33,1641.45 144.41,1641.09 145.48,1640.71 146.55,1640.31 147.63,1639.9 148.7,1639.47 149.77,1639.03 150.84,1638.56 151.92,1638.08 152.99,1637.57 154.06,1637.05 155.14,1636.51 156.21,1635.95 157.28,1635.38 158.36,1634.78 159.43,1634.16 160.5,1633.53 161.57,1632.87 162.65,1632.2 163.72,1631.5 164.79,1630.79 165.87,1630.05 166.94,1629.29 168.01,1628.52 169.09,1627.72 170.16,1626.9 171.23,1626.07 172.3,1625.21 173.38,1624.33 174.45,1623.43 175.52,1622.5 176.6,1621.56 177.67,1620.6 178.74,1619.62 179.81,1618.61 180.89,1617.58 181.96,1616.54 183.03,1615.47 184.11,1614.38 185.18,1613.27 186.25,1612.14 187.33,1610.99 188.4,1609.81 189.47,1608.62 190.54,1607.4 191.62,1606.17 192.69,1604.91 193.76,1603.63 194.84,1602.34 195.91,1601.02 196.98,1599.68 198.05,1598.32 199.13,1596.94 200.2,1595.54 201.27,1594.13 202.35,1592.69 203.42,1591.23 204.49,1589.75 205.57,1588.25 206.64,1586.74 207.71,1585.2 208.78,1583.65 209.86,1582.07 210.93,1580.48 212,1578.87 213.08,1577.24 214.15,1575.6 215.22,1573.93 216.29,1572.25 217.37,1570.55 218.44,1568.84 219.51,1567.1 220.59,1565.35 221.66,1563.59 222.73,1561.8 223.81,1560 224.88,1558.19 225.95,1556.36 227.02,1554.52 228.1,1552.66 229.17,1550.78 230.24,1548.89 231.32,1546.99 232.39,1545.07 233.46,1543.14 234.53,1541.2 235.61,1539.24 236.68,1537.27 237.75,1535.29 238.83,1533.3 239.9,1531.29 240.97,1529.28 242.05,1527.25 243.12,1525.21 244.19,1523.16 245.26,1521.1 246.34,1519.04 247.41,1516.96 248.48,1514.87 249.56,1512.78 250.63,1510.67 251.7,1508.56 252.77,1506.44 253.85,1504.32 254.92,1502.18 255.99,1500.04 257.07,1497.9 258.14,1495.75 259.21,1493.59 260.29,1491.43 261.36,1489.26 262.43,1487.09 263.5,1484.92 264.58,1482.74 265.65,1480.56 266.72,1478.37 267.8,1476.18 268.87,1474 269.94,1471.8 271.02,1469.61 272.09,1467.42 273.16,1465.23 274.23,1463.03 275.31,1460.84 276.38,1458.64 277.45,1456.45 278.53,1454.26 279.6,1452.07 280.67,1449.88 281.74,1447.69 282.82,1445.51 283.89,1443.33 284.96,1441.15 286.04,1438.98 287.11,1436.81 288.18,1434.65 289.26,1432.48 290.33,1430.33 291.4,1428.18 292.47,1426.03 293.55,1423.9 294.62,1421.76 295.69,1419.64 296.77,1417.52 297.84,1415.41 298.91,1413.31 299.98,1411.21 301.06,1409.12 302.13,1407.04 303.2,1404.97 304.28,1402.91 305.35,1400.86 306.42,1398.82 307.5,1396.79 308.57,1394.76 309.64,1392.75 310.71,1390.75 311.79,1388.76 312.86,1386.78 313.93,1384.82 315.01,1382.86 316.08,1380.92 317.15,1378.98 318.22,1377.07 319.3,1375.16 320.37,1373.27 321.44,1371.38 322.52,1369.52 323.59,1367.66 324.66,1365.82 325.74,1364 326.81,1362.18 327.88,1360.38 328.95,1358.6 330.03,1356.83 331.1,1355.07 332.17,1353.33 333.25,1351.61 334.32,1349.9 335.39,1348.2 336.46,1346.52 337.54,1344.86 338.61,1343.21 339.68,1341.57 340.76,1339.96 341.83,1338.35 342.9,1336.77 343.98,1335.2 345.05,1333.64 346.12,1332.11 347.19,1330.59 348.27,1329.08 349.34,1327.59 350.41,1326.12 351.49,1324.66 352.56,1323.22 353.63,1321.8 354.7,1320.39 355.78,1319 356.85,1317.63 357.92,1316.27 359,1314.93 360.07,1313.61 361.14,1312.3 362.22,1311.01 363.29,1309.74 364.36,1308.48 365.43,1307.24 366.51,1306.02 367.58,1304.81 368.65,1303.62 369.73,1302.44 370.8,1301.28 371.87,1300.14 372.94,1299.02 374.02,1297.91 375.09,1296.81 376.16,1295.73 377.24,1294.67 378.31,1293.63 379.38,1292.6 380.46,1291.58 381.53,1290.59 382.6,1289.6 383.67,1288.64 384.75,1287.68 385.82,1286.75 386.89,1285.83 387.97,1284.92 389.04,1284.03 390.11,1283.15 391.19,1282.29 392.26,1281.44 393.33,1280.61 394.4,1279.79 395.48,1278.99 396.55,1278.2 397.62,1277.42 398.7,1276.66 399.77,1275.92 400.84,1275.18 401.91,1274.46 402.99,1273.75 404.06,1273.06 405.13,1272.38 406.21,1271.71 407.28,1271.06 408.35,1270.41 409.43,1269.78 410.5,1269.17 411.57,1268.56 412.64,1267.97 413.72,1267.39 414.79,1266.82 415.86,1266.26 416.94,1265.71 418.01,1265.18 419.08,1264.65 420.15,1264.14 421.23,1263.64 422.3,1263.15 423.37,1262.67 424.45,1262.2 425.52,1261.74 426.59,1261.29 427.67,1260.85 428.74,1260.42 429.81,1260 430.88,1259.59 431.96,1259.18 433.03,1258.79 434.1,1258.41 435.18,1258.04 436.25,1257.67 437.32,1257.31 438.39,1256.96 439.47,1256.62 440.54,1256.29 441.61,1255.97 442.69,1255.65 443.76,1255.35 444.83,1255.04 445.91,1254.75 446.98,1254.47 448.05,1254.19 449.12,1253.92 450.2,1253.65 451.27,1253.39 452.34,1253.14 453.42,1252.9 454.49,1252.66 455.56,1252.43 456.63,1252.2 457.71,1251.98 458.78,1251.77 459.85,1251.56 460.93,1251.36 462,1251.16 463.07,1250.97 464.15,1250.79 465.22,1250.6 466.29,1250.43 467.36,1250.26 468.44,1250.09 469.51,1249.93 470.58,1249.77 471.66,1249.62 472.73,1249.47 473.8,1249.33 474.87,1249.19 475.95,1249.06 477.02,1248.92 478.09,1248.8 479.17,1248.67 480.24,1248.55 481.31,1248.44 482.39,1248.32 483.46,1248.22 484.53,1248.11 485.6,1248.01 486.68,1247.91 487.75,1247.81 488.82,1247.72 489.9,1247.63 490.97,1247.54 492.04,1247.46 493.12,1247.37 494.19,1247.29 495.26,1247.22 496.33,1247.14 497.41,1247.07 498.48,1247 499.55,1246.93 500.63,1246.87 501.7,1246.81 502.77,1246.75 503.84,1246.69 504.92,1246.63 505.99,1246.58 507.06,1246.52 508.14,1246.47 509.21,1246.42 510.28,1246.38 511.36,1246.33 512.43,1246.29 513.5,1246.24 514.57,1246.2 515.65,1246.16 516.72,1246.12 517.79,1246.09 518.87,1246.05 519.94,1246.02 521.01,1245.98 522.08,1245.95 523.16,1245.92 524.23,1245.89 525.3,1245.86 526.38,1245.84 527.45,1245.81 528.52,1245.78 529.6,1245.76 530.67,1245.74 531.74,1245.71 532.81,1245.69 533.89,1245.67 534.96,1245.65 536.03,1245.63 537.11,1245.61" fill="none" stroke="#ff2a2a" stroke-width="1.25"/>
<polyline points="109,1645.9 109.97,1645.9 110.94,1645.9 111.91,1645.9 112.87,1645.89 113.84,1645.89 114.81,1645.88 115.78,1645.86 116.75,1645.85 117.72,1645.82 118.69,1645.8 119.66,1645.77 120.62,1645.73 121.59,1645.69 122.56,1645.64 123.53,1645.59 124.5,1645.53 125.47,1645.46 126.44,1645.38 127.4,1645.3 128.37,1645.21 129.34,1645.11 130.31,1645 131.28,1644.88 132.25,1644.75 133.22,1644.62 134.19,1644.47 135.15,1644.31 136.12,1644.15 137.09,1643.97 138.06,1643.78 139.03,1643.58 140,1643.36 140.97,1643.14 141.93,1642.9 142.9,1642.65 143.87,1642.39 144.84,1642.11 145.81,1641.82 146.78,1641.52 147.75,1641.21 148.72,1640.87 149.68,1640.53 150.65,1640.17 151.62,1639.8 152.59,1639.41 153.56,1639.01 154.53,1638.59 155.5,1638.15 156.46,1637.7 157.43,1637.23 158.4,1636.75 159.37,1636.25 160.34,1635.74 161.31,1635.2 162.28,1634.65 163.25,1634.09 164.21,1633.5 165.18,1632.9 166.15,1632.28 167.12,1631.64 168.09,1630.99 169.06,1630.32 170.03,1629.62 170.99,1628.91 171.96,1628.19 172.93,1627.44 173.9,1626.67 174.87,1625.89 175.84,1625.08 176.81,1624.26 177.78,1623.42 178.74,1622.56 179.71,1621.68 180.68,1620.78 181.65,1619.86 182.62,1618.92 183.59,1617.96 184.56,1616.98 185.53,1615.98 186.49,1614.96 187.46,1613.92 188.43,1612.87 189.4,1611.79 190.37,1610.69 191.34,1609.57 192.31,1608.43 193.27,1607.27 194.24,1606.1 195.21,1604.9 196.18,1603.68 197.15,1602.44 198.12,1601.18 199.09,1599.91 200.06,1598.61 201.02,1597.29 201.99,1595.95 202.96,1594.6 203.93,1593.22 204.9,1591.83 205.87,1590.41 206.84,1588.98 207.8,1587.52 208.77,1586.05 209.74,1584.56 210.71,1583.05 211.68,1581.52 212.65,1579.97 213.62,1578.4 214.59,1576.82 215.55,1575.21 216.52,1573.59 217.49,1571.95 218.46,1570.29 219.43,1568.62 220.4,1566.93 221.37,1565.22 222.33,1563.49 223.3,1561.75 224.27,1559.99 225.24,1558.21 226.21,1556.42 227.18,1554.61 228.15,1552.79 229.12,1550.95 230.08,1549.1 231.05,1547.23 232.02,1545.34 232.99,1543.45 233.96,1541.53 234.93,1539.61 235.9,1537.67 236.86,1535.71 237.83,1533.75 238.8,1531.77 239.77,1529.78 240.74,1527.77 241.71,1525.76 242.68,1523.73 243.65,1521.69 244.61,1519.64 245.58,1517.58 246.55,1515.51 247.52,1513.43 248.49,1511.34 249.46,1509.25 250.43,1507.14 251.39,1505.02 252.36,1502.9 253.33,1500.77 254.3,1498.63 255.27,1496.48 256.24,1494.32 257.21,1492.16 258.18,1490 259.14,1487.83 260.11,1485.65 261.08,1483.47 262.05,1481.28 263.02,1479.09 263.99,1476.89 264.96,1474.7 265.92,1472.49 266.89,1470.29 267.86,1468.08 268.83,1465.87 269.8,1463.66 270.77,1461.45 271.74,1459.24 272.71,1457.03 273.67,1454.82 274.64,1452.6 275.61,1450.39 276.58,1448.18 277.55,1445.97 278.52,1443.77 279.49,1441.56 280.45,1439.36 281.42,1437.16 282.39,1434.96 283.36,1432.77 284.33,1430.58 285.3,1428.4 286.27,1426.22 287.24,1424.05 288.2,1421.88 289.17,1419.71 290.14,1417.56 291.11,1415.41 292.08,1413.26 293.05,1411.13 294.02,1409 294.98,1406.88 295.95,1404.77 296.92,1402.66 297.89,1400.57 298.86,1398.48 299.83,1396.41 300.8,1394.34 301.77,1392.28 302.73,1390.24 303.7,1388.2 304.67,1386.18 305.64,1384.16 306.61,1382.16 307.58,1380.17 308.55,1378.19 309.51,1376.23 310.48,1374.28 311.45,1372.34 312.42,1370.41 313.39,1368.49 314.36,1366.59 315.33,1364.71 316.3,1362.83 317.26,1360.98 318.23,1359.13 319.2,1357.3 320.17,1355.49 321.14,1353.69 322.11,1351.9 323.08,1350.13 324.04,1348.38 325.01,1346.64 325.98,1344.92 326.95,1343.21 327.92,1341.52 328.89,1339.85 329.86,1338.19 330.83,1336.55 331.79,1334.92 332.76,1333.31 333.73,1331.72 334.7,1330.15 335.67,1328.59 336.64,1327.05 337.61,1325.53 338.58,1324.02 339.54,1322.53 340.51,1321.06 341.48,1319.61 342.45,1318.17 343.42,1316.75 344.39,1315.35 345.36,1313.96 346.32,1312.6 347.29,1311.25 348.26,1309.92 349.23,1308.6 350.2,1307.31 351.17,1306.03 352.14,1304.76 353.11,1303.52 354.07,1302.29 355.04,1301.09 356.01,1299.89 356.98,1298.72 357.95,1297.56 358.92,1296.42 359.89,1295.3 360.85,1294.2 361.82,1293.11 362.79,1292.04 363.76,1290.98 364.73,1289.95 365.7,1288.92 366.67,1287.92 367.64,1286.93 368.6,1285.96 369.57,1285.01 370.54,1284.07 371.51,1283.15 372.48,1282.24 373.45,1281.35 374.42,1280.48 375.38,1279.62 376.35,1278.78 377.32,1277.95 378.29,1277.14 379.26,1276.34 380.23,1275.56 381.2,1274.79 382.17,1274.04 383.13,1273.3 384.1,1272.58 385.07,1271.87 386.04,1271.17 387.01,1270.49 387.98,1269.82 388.95,1269.17 389.91,1268.53 390.88,1267.9 391.85,1267.29 392.82,1266.69 393.79,1266.1 394.76,1265.53 395.73,1264.96 396.7,1264.41 397.66,1263.87 398.63,1263.35 399.6,1262.83 400.57,1262.33 401.54,1261.84 402.51,1261.36 403.48,1260.89 404.44,1260.43 405.41,1259.99 406.38,1259.55 407.35,1259.12 408.32,1258.71 409.29,1258.3 410.26,1257.91 411.23,1257.52 412.19,1257.15 413.16,1256.78 414.13,1256.42 415.1,1256.07 416.07,1255.74 417.04,1255.41 418.01,1255.08 418.97,1254.77 419.94,1254.46 420.91,1254.17 421.88,1253.88 422.85,1253.6 423.82,1253.32 424.79,1253.06 425.76,1252.8 426.72,1252.55 427.69,1252.3 428.66,1252.06 429.63,1251.83 430.6,1251.61 431.57,1251.39 432.54,1251.18 433.5,1250.97 434.47,1250.78 435.44,1250.58 436.41,1250.39 437.38,1250.21 438.35,1250.04 439.32,1249.86 440.29,1249.7 441.25,1249.54 442.22,1249.38 443.19,1249.23 444.16,1249.08 445.13,1248.94 446.1,1248.8 447.07,1248.67 448.03,1248.54 449,1248.42 449.97,1248.3 450.94,1248.18 451.91,1248.07 452.88,1247.96 453.85,1247.85 454.82,1247.75 455.78,1247.65 456.75,1247.56 457.72,1247.47 458.69,1247.38 459.66,1247.29 460.63,1247.21 461.6,1247.13 462.56,1247.05 463.53,1246.98 464.5,1246.91 465.47,1246.84 466.44,1246.77 467.41,1246.71 468.38,1246.65 469.35,1246.59 470.31,1246.53 471.28,1246.47 472.25,1246.42 473.22,1246.37 474.19,1246.32 475.16,1246.27 476.13,1246.23 477.09,1246.18 478.06,1246.14 479.03,1246.1 480,1246.06 480.97,1246.02 481.94,1245.99 482.91,1245.95 483.88,1245.92 484.84,1245.89 485.81,1245.86 486.78,1245.83 487.75,1245.8 488.72,1245.77 489.69,1245.75 490.66,1245.72 491.63,1245.7 492.59,1245.67 493.56,1245.65 494.53,1245.63 495.5,1245.61" fill="none" stroke="#2a2aff" stroke-width="1.25"/>
<polyline points="109,1645.9 110.37,1645.9 111.74,1645.9 113.12,1645.89 114.49,1645.89 115.86,1645.87 117.23,1645.85 118.6,1645.82 119.98,1645.79 121.35,1645.74 122.72,1645.68 124.09,1645.61 125.46,1645.52 126.84,1645.42 128.21,1645.3 129.58,1645.17 130.95,1645.01 132.32,1644.84 133.7,1644.64 135.07,1644.42 136.44,1644.18 137.81,1643.91 139.19,1643.62 140.56,1643.3 141.93,1642.95 143.3,1642.57 144.67,1642.16 146.05,1641.71 147.42,1641.24 148.79,1640.73 150.16,1640.18 151.53,1639.6 152.91,1638.98 154.28,1638.33 155.65,1637.63 157.02,1636.9 158.39,1636.12 159.77,1635.3 161.14,1634.44 162.51,1633.53 163.88,1632.58 165.25,1631.58 166.63,1630.54 168,1629.45 169.37,1628.31 170.74,1627.12 172.11,1625.88 173.49,1624.6 174.86,1623.26 176.23,1621.87 177.6,1620.43 178.97,1618.94 180.35,1617.39 181.72,1615.8 183.09,1614.14 184.46,1612.44 185.84,1610.68 187.21,1608.87 188.58,1607 189.95,1605.08 191.32,1603.1 192.7,1601.07 194.07,1598.98 195.44,1596.84 196.81,1594.64 198.18,1592.39 199.56,1590.09 200.93,1587.73 202.3,1585.32 203.67,1582.85 205.04,1580.33 206.42,1577.76 207.79,1575.14 209.16,1572.47 210.53,1569.74 211.9,1566.96 213.28,1564.14 214.65,1561.27 216.02,1558.35 217.39,1555.38 218.76,1552.36 220.14,1549.31 221.51,1546.2 222.88,1543.06 224.25,1539.87 225.62,1536.64 227,1533.38 228.37,1530.07 229.74,1526.73 231.11,1523.35 232.48,1519.94 233.86,1516.5 235.23,1513.03 236.6,1509.52 237.97,1505.99 239.35,1502.43 240.72,1498.85 242.09,1495.25 243.46,1491.62 244.83,1487.97 246.21,1484.31 247.58,1480.63 248.95,1476.93 250.32,1473.23 251.69,1469.51 253.07,1465.78 254.44,1462.05 255.81,1458.31 257.18,1454.57 258.55,1450.82 259.93,1447.08 261.3,1443.34 262.67,1439.6 264.04,1435.87 265.41,1432.14 266.79,1428.43 268.16,1424.73 269.53,1421.04 270.9,1417.36 272.27,1413.71 273.65,1410.07 275.02,1406.45 276.39,1402.85 277.76,1399.27 279.13,1395.73 280.51,1392.2 281.88,1388.71 283.25,1385.25 284.62,1381.81 286,1378.41 287.37,1375.05 288.74,1371.72 290.11,1368.42 291.48,1365.17 292.86,1361.95 294.23,1358.78 295.6,1355.64 296.97,1352.55 298.34,1349.5 299.72,1346.5 301.09,1343.54 302.46,1340.63 303.83,1337.76 305.2,1334.94 306.58,1332.17 307.95,1329.45 309.32,1326.78 310.69,1324.16 312.06,1321.59 313.44,1319.07 314.81,1316.61 316.18,1314.19 317.55,1311.82 318.92,1309.51 320.3,1307.25 321.67,1305.04 323.04,1302.88 324.41,1300.77 325.78,1298.72 327.16,1296.72 328.53,1294.76 329.9,1292.86 331.27,1291.01 332.64,1289.22 334.02,1287.47 335.39,1285.77 336.76,1284.12 338.13,1282.51 339.51,1280.96 340.88,1279.45 342.25,1277.99 343.62,1276.58 344.99,1275.21 346.37,1273.89 347.74,1272.61 349.11,1271.38 350.48,1270.18 351.85,1269.03 353.23,1267.92 354.6,1266.85 355.97,1265.82 357.34,1264.83 358.71,1263.87 360.09,1262.96 361.46,1262.07 362.83,1261.23 364.2,1260.42 365.57,1259.64 366.95,1258.89 368.32,1258.17 369.69,1257.49 371.06,1256.83 372.43,1256.2 373.81,1255.61 375.18,1255.03 376.55,1254.49 377.92,1253.97 379.29,1253.47 380.67,1253 382.04,1252.55 383.41,1252.12 384.78,1251.71 386.16,1251.32 387.53,1250.96 388.9,1250.61 390.27,1250.28 391.64,1249.96 393.02,1249.67 394.39,1249.39 395.76,1249.12 397.13,1248.87 398.5,1248.63 399.88,1248.41 401.25,1248.2 402.62,1248 403.99,1247.81 405.36,1247.63 406.74,1247.47 408.11,1247.31 409.48,1247.17 410.85,1247.03 412.22,1246.9 413.6,1246.78 414.97,1246.67 416.34,1246.56 417.71,1246.46 419.08,1246.37 420.46,1246.28 421.83,1246.2 423.2,1246.12 424.57,1246.05 425.94,1245.99 427.32,1245.93 428.69,1245.87 430.06,1245.82 431.43,1245.77 432.81,1245.72 434.18,1245.68 435.55,1245.64 436.92,1245.61 438.29,1245.57 439.67,1245.54 441.04,1245.51 442.41,1245.49 443.78,1245.46 445.15,1245.44 446.53,1245.42 447.9,1245.4 449.27,1245.38 450.64,1245.37 452.01,1245.35 453.39,1245.34 454.76,1245.32 456.13,1245.31 457.5,1245.3 458.87,1245.29 460.25,1245.28 461.62,1245.28 462.99,1245.27 464.36,1245.26 465.73,1245.26 467.11,1245.25 468.48,1245.25 469.85,1245.24 471.22,1245.24 472.59,1245.23 473.97,1245.23 475.34,1245.23 476.71,1245.22 478.08,1245.22 479.45,1245.22 480.83,1245.22 482.2,1245.22 483.57,1245.21 484.94,1245.21 486.32,1245.21 487.69,1245.21 489.06,1245.21 490.43,1245.21 491.8,1245.21 493.18,1245.21 494.55,1245.21 495.92,1245.21 497.29,1245.2 498.66,1245.2 500.04,1245.2 501.41,1245.2 502.78,1245.2 504.15,1245.2 505.52,1245.2 506.9,1245.2 508.27,1245.2 509.64,1245.2 511.01,1245.2 512.38,1245.2 513.76,1245.2 515.13,1245.2 516.5,1245.2 517.87,1245.2 519.24,1245.2 520.62,1245.2 521.99,1245.2 523.36,1245.2 524.73,1245.2 526.1,1245.2 527.48,1245.2 528.85,1245.2 530.22,1245.2 531.59,1245.2 532.97,1245.2 534.34,1245.2 535.71,1245.2 537.08,1245.2 538.45,1245.2 539.83,1245.2 541.2,1245.2 542.57,1245.2 543.94,1245.2 545.31,1245.2 546.69,1245.2 548.06,1245.2 549.43,1245.2 550.8,1245.2 552.17,1245.2 553.55,1245.2 554.92,1245.2 556.29,1245.2 557.66,1245.2 559.03,1245.2 560.41,1245.2 561.78,1245.2 563.15,1245.2 564.52,1245.2 565.89,1245.2 567.27,1245.2 568.64,1245.2 570.01,1245.2 571.38,1245.2 572.75,1245.2 574.13,1245.2 575.5,1245.2 576.87,1245.2 578.24,1245.2 579.61,1245.2 580.99,1245.2 582.36,1245.2 583.73,1245.2 585.1,1245.2 586.48,1245.2 587.85,1245.2 589.22,1245.2 590.59,1245.2 591.96,1245.2 593.34,1245.2 594.71,1245.2 596.08,1245.2 597.45,1245.2 598.82,1245.2 600.2,1245.2 601.57,1245.2 602.94,1245.2 604.31,1245.2 605.68,1245.2 607.06,1245.2 608.43,1245.2 609.8,1245.2 611.17,1245.2 612.54,1245.2 613.92,1245.2 615.29,1245.2 616.66,1245.2 618.03,1245.2 619.4,1245.2 620.78,1245.2 622.15,1245.2 623.52,1245.2 624.89,1245.2 626.26,1245.2 627.64,1245.2 629.01,1245.2 630.38,1245.2 631.75,1245.2 633.13,1245.2 634.5,1245.2 635.87,1245.2 637.24,1245.2 638.61,1245.2 639.99,1245.2 641.36,1245.2 642.73,1245.2 644.1,1245.2 645.47,1245.2 646.85,1245.2 648.22,1245.2 649.59,1245.2 650.96,1245.2 652.33,1245.2 653.71,1245.2 655.08,1245.2 656.45,1245.2" fill="none" stroke="#2aff2a" stroke-width="1.25"/>
</g>
<g style="font-family:'Liberation Sans',Arial,sans-serif;font-size:23px" fill="#1a1a1a">
<text x="94.5" y="1654.1" text-anchor="end">0</text>
<text x="94.5" y="1573.96" text-anchor="end">20</text>
<text x="94.5" y="1493.82" text-anchor="end">40</text>
<text x="94.5" y="1413.68" text-anchor="end">60</text>
<text x="94.5" y="1333.54" text-anchor="end">80</text>
<text x="94.5" y="1253.4" text-anchor="end">100</text>
<text x="109" y="1680.4" text-anchor="middle">0</text>
<text x="327.98" y="1680.4" text-anchor="middle">2</text>
<text x="546.96" y="1680.4" text-anchor="middle">4</text>
<text transform="translate(46.6,1425.52) rotate(-90)" text-anchor="middle" style="font-size:26px">Q3 (%)</text>
<text x="383.12" y="1720.4" text-anchor="middle" style="font-size:25px;letter-spacing:0.3px">x (mm)</text>
</g>
<rect x="518" y="1512.4" width="144.8" height="116.9" fill="#fff" stroke="#666" stroke-width="1.2"/>
<g style="font-family:'Liberation Sans',Arial,sans-serif;font-size:22.5px" fill="#1a1a1a">
<rect x="540.8" y="1523" width="10" height="10" fill="#000000"/>
<text x="578.5" y="1535.5">conf 3.1</text>
<rect x="540.8" y="1551.6" width="10" height="10" fill="#ff0000"/>
<text x="578.5" y="1564.1">conf 3.2</text>
<rect x="540.8" y="1580.2" width="10" height="10" fill="#0000ff"/>
<text x="578.5" y="1592.7">conf 3.3</text>
<rect x="540.8" y="1608.8" width="10" height="10" fill="#00ff00"/>
<text x="578.5" y="1621.3">conf 3.4</text>
</g>
<g stroke="#1a1a1a" stroke-width="1.5" fill="none">
<line x1="974.1" y1="1649.8" x2="974.1" y2="1185.9"/>
<line x1="966.1" y1="1649.8" x2="1553.5" y2="1649.8"/>
<line x1="966.1" y1="1649.8" x2="974.1" y2="1649.8"/>
<line x1="966.1" y1="1568.36" x2="974.1" y2="1568.36"/>
<line x1="966.1" y1="1486.92" x2="974.1" y2="1486.92"/>
<line x1="966.1" y1="1405.48" x2="974.1" y2="1405.48"/>
<line x1="966.1" y1="1324.04" x2="974.1" y2="1324.04"/>
<line x1="966.1" y1="1242.6" x2="974.1" y2="1242.6"/>
<line x1="970.1" y1="1609.08" x2="974.1" y2="1609.08"/>
<line x1="970.1" y1="1527.64" x2="974.1" y2="1527.64"/>
<line x1="970.1" y1="1446.2" x2="974.1" y2="1446.2"/>
<line x1="970.1" y1="1364.76" x2="974.1" y2="1364.76"/>
<line x1="970.1" y1="1283.32" x2="974.1" y2="1283.32"/>
<line x1="970.1" y1="1201.88" x2="974.1" y2="1201.88"/>
<line x1="974.1" y1="1649.8" x2="974.1" y2="1658.3"/>
<line x1="1252.1" y1="1649.8" x2="1252.1" y2="1658.3"/>
<line x1="1530.1" y1="1649.8" x2="1530.1" y2="1658.3"/>
<line x1="1113.1" y1="1649.8" x2="1113.1" y2="1654.3"/>
<line x1="1391.1" y1="1649.8" x2="1391.1" y2="1654.3"/>
</g>
<path d="M974.1,1180.3 L979.6,1191.7 L974.1,1188.3 L968.6,1191.7 Z" fill="#1a1a1a" stroke="#1a1a1a" stroke-width="0.8" stroke-linejoin="round"/>
<path d="M1559.1,1649.8 L1547.7,1644.3 L1551.1,1649.8 L1547.7,1655.3 Z" fill="#1a1a1a" stroke="#1a1a1a" stroke-width="0.8" stroke-linejoin="round"/>
<clipPath id="cP6"><rect x="974.1" y="1193.74" width="556" height="457.06"/></clipPath>
<g clip-path="url(#cP6)">
<rect x="1052.9" y="1639.91" width="9.2" height="9.2" fill="#000000"/>
<rect x="1068.19" y="1637.06" width="9.2" height="9.2" fill="#000000"/>
<rect x="1087.65" y="1631.36" width="9.2" height="9.2" fill="#000000"/>
<rect x="1108.5" y="1623.46" width="9.2" height="9.2" fill="#000000"/>
<rect x="1133.52" y="1610.02" width="9.2" height="9.2" fill="#000000"/>
<rect x="1164.1" y="1579.52" width="9.2" height="9.2" fill="#000000"/>
<rect x="1205.8" y="1484.32" width="9.2" height="9.2" fill="#000000"/>
<rect x="1247.5" y="1331.78" width="9.2" height="9.2" fill="#000000"/>
<rect x="1297.54" y="1243.09" width="9.2" height="9.2" fill="#000000"/>
<rect x="1358.7" y="1239.02" width="9.2" height="9.2" fill="#000000"/>
<rect x="1028.58" y="1640.92" width="9.2" height="9.2" fill="#ff0000"/>
<rect x="1039" y="1638.68" width="9.2" height="9.2" fill="#ff0000"/>
<rect x="1052.9" y="1634.86" width="9.2" height="9.2" fill="#ff0000"/>
<rect x="1068.19" y="1630.38" width="9.2" height="9.2" fill="#ff0000"/>
<rect x="1087.65" y="1623.46" width="9.2" height="9.2" fill="#ff0000"/>
<rect x="1108.5" y="1613.68" width="9.2" height="9.2" fill="#ff0000"/>
<rect x="1133.52" y="1593.73" width="9.2" height="9.2" fill="#ff0000"/>
<rect x="1164.1" y="1561.6" width="9.2" height="9.2" fill="#ff0000"/>
<rect x="1205.8" y="1466.85" width="9.2" height="9.2" fill="#ff0000"/>
<rect x="1247.5" y="1319.15" width="9.2" height="9.2" fill="#ff0000"/>
<rect x="1297.54" y="1241.87" width="9.2" height="9.2" fill="#ff0000"/>
<rect x="1358.7" y="1239.02" width="9.2" height="9.2" fill="#ff0000"/>
<rect x="1011.2" y="1643.16" width="9.2" height="9.2" fill="#0000ff"/>
<rect x="1018.85" y="1639.5" width="9.2" height="9.2" fill="#0000ff"/>
<rect x="1028.58" y="1631.76" width="9.2" height="9.2" fill="#0000ff"/>
<rect x="1039" y="1622.64" width="9.2" height="9.2" fill="#0000ff"/>
<rect x="1052.9" y="1611.24" width="9.2" height="9.2" fill="#0000ff"/>
<rect x="1068.19" y="1599.43" width="9.2" height="9.2" fill="#0000ff"/>
<rect x="1087.65" y="1582.78" width="9.2" height="9.2" fill="#0000ff"/>
<rect x="1108.5" y="1561.6" width="9.2" height="9.2" fill="#0000ff"/>
<rect x="1133.52" y="1532.73" width="9.2" height="9.2" fill="#0000ff"/>
<rect x="1164.1" y="1480.65" width="9.2" height="9.2" fill="#0000ff"/>
<rect x="1205.8" y="1373.68" width="9.2" height="9.2" fill="#0000ff"/>
<rect x="1247.5" y="1271.96" width="9.2" height="9.2" fill="#0000ff"/>
<rect x="1297.54" y="1239.43" width="9.2" height="9.2" fill="#0000ff"/>
<rect x="1358.7" y="1237.39" width="9.2" height="9.2" fill="#0000ff"/>
<rect x="972.28" y="1645.2" width="9.2" height="9.2" fill="#00ff00"/>
<rect x="972.98" y="1645.2" width="9.2" height="9.2" fill="#00ff00"/>
<rect x="973.95" y="1645.2" width="9.2" height="9.2" fill="#00ff00"/>
<rect x="974.78" y="1645.2" width="9.2" height="9.2" fill="#00ff00"/>
<rect x="975.75" y="1645.2" width="9.2" height="9.2" fill="#00ff00"/>
<rect x="976.87" y="1645.2" width="9.2" height="9.2" fill="#00ff00"/>
<rect x="978.26" y="1645.2" width="9.2" height="9.2" fill="#00ff00"/>
<rect x="979.92" y="1645.2" width="9.2" height="9.2" fill="#00ff00"/>
<rect x="982.01" y="1645.2" width="9.2" height="9.2" fill="#00ff00"/>
<rect x="984.23" y="1645.2" width="9.2" height="9.2" fill="#00ff00"/>
<rect x="986.88" y="1645.2" width="9.2" height="9.2" fill="#00ff00"/>
<rect x="990.35" y="1645.2" width="9.2" height="9.2" fill="#00ff00"/>
<rect x="994.52" y="1645.2" width="9.2" height="9.2" fill="#00ff00"/>
<rect x="998.97" y="1643.16" width="9.2" height="9.2" fill="#00ff00"/>
<rect x="1004.25" y="1638.28" width="9.2" height="9.2" fill="#00ff00"/>
<rect x="1011.2" y="1634.61" width="9.2" height="9.2" fill="#00ff00"/>
<rect x="1018.85" y="1630.3" width="9.2" height="9.2" fill="#00ff00"/>
<rect x="1028.58" y="1621.99" width="9.2" height="9.2" fill="#00ff00"/>
<rect x="1039" y="1612.22" width="9.2" height="9.2" fill="#00ff00"/>
<rect x="1052.9" y="1596.34" width="9.2" height="9.2" fill="#00ff00"/>
<rect x="1068.19" y="1577.48" width="9.2" height="9.2" fill="#00ff00"/>
<rect x="1087.65" y="1551.87" width="9.2" height="9.2" fill="#00ff00"/>
<rect x="1108.5" y="1520.52" width="9.2" height="9.2" fill="#00ff00"/>
<rect x="1133.52" y="1472.1" width="9.2" height="9.2" fill="#00ff00"/>
<rect x="1164.1" y="1398.07" width="9.2" height="9.2" fill="#00ff00"/>
<rect x="1205.8" y="1300.46" width="9.2" height="9.2" fill="#00ff00"/>
<rect x="1247.5" y="1250.42" width="9.2" height="9.2" fill="#00ff00"/>
<rect x="1297.54" y="1241.05" width="9.2" height="9.2" fill="#00ff00"/>
<rect x="1358.7" y="1239.43" width="9.2" height="9.2" fill="#00ff00"/>
<rect x="1435.15" y="1238.61" width="9.2" height="9.2" fill="#00ff00"/>
<rect x="1525.5" y="1238.61" width="9.2" height="9.2" fill="#00ff00"/>
<polyline points="974.1,1649.8 975.09,1649.8 976.07,1649.8 977.06,1649.8 978.04,1649.8 979.03,1649.8 980.02,1649.8 981,1649.8 981.99,1649.8 982.97,1649.8 983.96,1649.8 984.94,1649.8 985.93,1649.8 986.92,1649.8 987.9,1649.8 988.89,1649.8 989.87,1649.8 990.86,1649.8 991.85,1649.8 992.83,1649.8 993.82,1649.8 994.8,1649.8 995.79,1649.8 996.78,1649.8 997.76,1649.8 998.75,1649.8 999.73,1649.8 1000.72,1649.8 1001.7,1649.8 1002.69,1649.8 1003.68,1649.8 1004.66,1649.8 1005.65,1649.8 1006.63,1649.8 1007.62,1649.8 1008.61,1649.8 1009.59,1649.8 1010.58,1649.8 1011.56,1649.8 1012.55,1649.79 1013.54,1649.79 1014.52,1649.79 1015.51,1649.79 1016.49,1649.79 1017.48,1649.79 1018.47,1649.79 1019.45,1649.79 1020.44,1649.78 1021.42,1649.78 1022.41,1649.78 1023.39,1649.78 1024.38,1649.77 1025.37,1649.77 1026.35,1649.77 1027.34,1649.76 1028.32,1649.76 1029.31,1649.75 1030.3,1649.75 1031.28,1649.74 1032.27,1649.74 1033.25,1649.73 1034.24,1649.72 1035.23,1649.72 1036.21,1649.71 1037.2,1649.7 1038.18,1649.69 1039.17,1649.68 1040.15,1649.67 1041.14,1649.66 1042.13,1649.64 1043.11,1649.63 1044.1,1649.62 1045.08,1649.6 1046.07,1649.58 1047.06,1649.57 1048.04,1649.55 1049.03,1649.53 1050.01,1649.51 1051,1649.48 1051.99,1649.46 1052.97,1649.43 1053.96,1649.4 1054.94,1649.38 1055.93,1649.34 1056.91,1649.31 1057.9,1649.28 1058.89,1649.24 1059.87,1649.2 1060.86,1649.16 1061.84,1649.12 1062.83,1649.07 1063.82,1649.02 1064.8,1648.97 1065.79,1648.91 1066.77,1648.86 1067.76,1648.8 1068.75,1648.73 1069.73,1648.67 1070.72,1648.6 1071.7,1648.53 1072.69,1648.45 1073.67,1648.37 1074.66,1648.28 1075.65,1648.19 1076.63,1648.1 1077.62,1648 1078.6,1647.9 1079.59,1647.8 1080.58,1647.68 1081.56,1647.57 1082.55,1647.45 1083.53,1647.32 1084.52,1647.19 1085.51,1647.05 1086.49,1646.9 1087.48,1646.75 1088.46,1646.59 1089.45,1646.43 1090.43,1646.26 1091.42,1646.08 1092.41,1645.9 1093.39,1645.7 1094.38,1645.5 1095.36,1645.29 1096.35,1645.08 1097.34,1644.85 1098.32,1644.62 1099.31,1644.37 1100.29,1644.12 1101.28,1643.86 1102.27,1643.59 1103.25,1643.31 1104.24,1643.01 1105.22,1642.71 1106.21,1642.4 1107.2,1642.07 1108.18,1641.74 1109.17,1641.39 1110.15,1641.03 1111.14,1640.65 1112.12,1640.27 1113.11,1639.87 1114.1,1639.45 1115.08,1639.03 1116.07,1638.59 1117.05,1638.13 1118.04,1637.66 1119.03,1637.17 1120.01,1636.67 1121,1636.16 1121.98,1635.62 1122.97,1635.07 1123.96,1634.5 1124.94,1633.92 1125.93,1633.32 1126.91,1632.7 1127.9,1632.06 1128.88,1631.4 1129.87,1630.72 1130.86,1630.02 1131.84,1629.3 1132.83,1628.56 1133.81,1627.8 1134.8,1627.02 1135.79,1626.22 1136.77,1625.39 1137.76,1624.54 1138.74,1623.67 1139.73,1622.78 1140.72,1621.86 1141.7,1620.91 1142.69,1619.95 1143.67,1618.95 1144.66,1617.93 1145.64,1616.89 1146.63,1615.82 1147.62,1614.72 1148.6,1613.59 1149.59,1612.44 1150.57,1611.26 1151.56,1610.05 1152.55,1608.81 1153.53,1607.54 1154.52,1606.25 1155.5,1604.92 1156.49,1603.56 1157.48,1602.17 1158.46,1600.75 1159.45,1599.3 1160.43,1597.82 1161.42,1596.31 1162.4,1594.76 1163.39,1593.18 1164.38,1591.57 1165.36,1589.92 1166.35,1588.25 1167.33,1586.53 1168.32,1584.79 1169.31,1583.01 1170.29,1581.19 1171.28,1579.34 1172.26,1577.46 1173.25,1575.54 1174.24,1573.58 1175.22,1571.59 1176.21,1569.57 1177.19,1567.5 1178.18,1565.41 1179.17,1563.28 1180.15,1561.11 1181.14,1558.91 1182.12,1556.67 1183.11,1554.39 1184.09,1552.08 1185.08,1549.74 1186.07,1547.36 1187.05,1544.94 1188.04,1542.49 1189.02,1540.01 1190.01,1537.49 1191,1534.94 1191.98,1532.35 1192.97,1529.73 1193.95,1527.07 1194.94,1524.39 1195.93,1521.67 1196.91,1518.92 1197.9,1516.13 1198.88,1513.32 1199.87,1510.48 1200.85,1507.6 1201.84,1504.7 1202.83,1501.77 1203.81,1498.81 1204.8,1495.82 1205.78,1492.8 1206.77,1489.76 1207.76,1486.7 1208.74,1483.61 1209.73,1480.5 1210.71,1477.37 1211.7,1474.21 1212.69,1471.04 1213.67,1467.84 1214.66,1464.63 1215.64,1461.4 1216.63,1458.15 1217.61,1454.89 1218.6,1451.62 1219.59,1448.33 1220.57,1445.03 1221.56,1441.73 1222.54,1438.41 1223.53,1435.09 1224.52,1431.75 1225.5,1428.42 1226.49,1425.08 1227.47,1421.74 1228.46,1418.4 1229.45,1415.06 1230.43,1411.72 1231.42,1408.39 1232.4,1405.06 1233.39,1401.74 1234.37,1398.42 1235.36,1395.12 1236.35,1391.83 1237.33,1388.54 1238.32,1385.28 1239.3,1382.03 1240.29,1378.79 1241.28,1375.58 1242.26,1372.38 1243.25,1369.21 1244.23,1366.06 1245.22,1362.93 1246.21,1359.83 1247.19,1356.76 1248.18,1353.71 1249.16,1350.7 1250.15,1347.72 1251.14,1344.76 1252.12,1341.85 1253.11,1338.96 1254.09,1336.12 1255.08,1333.31 1256.06,1330.54 1257.05,1327.81 1258.04,1325.12 1259.02,1322.47 1260.01,1319.86 1260.99,1317.3 1261.98,1314.78 1262.97,1312.31 1263.95,1309.88 1264.94,1307.5 1265.92,1305.16 1266.91,1302.88 1267.9,1300.64 1268.88,1298.45 1269.87,1296.31 1270.85,1294.21 1271.84,1292.17 1272.82,1290.18 1273.81,1288.24 1274.8,1286.34 1275.78,1284.5 1276.77,1282.71 1277.75,1280.97 1278.74,1279.27 1279.73,1277.63 1280.71,1276.04 1281.7,1274.49 1282.68,1273 1283.67,1271.55 1284.66,1270.15 1285.64,1268.8 1286.63,1267.5 1287.61,1266.24 1288.6,1265.03 1289.58,1263.86 1290.57,1262.74 1291.56,1261.66 1292.54,1260.62 1293.53,1259.63 1294.51,1258.67 1295.5,1257.76 1296.49,1256.89 1297.47,1256.05 1298.46,1255.25 1299.44,1254.49 1300.43,1253.77 1301.42,1253.07 1302.4,1252.42 1303.39,1251.79 1304.37,1251.2 1305.36,1250.64 1306.34,1250.1 1307.33,1249.6 1308.32,1249.12 1309.3,1248.67 1310.29,1248.24 1311.27,1247.84 1312.26,1247.46 1313.25,1247.11 1314.23,1246.77 1315.22,1246.46 1316.2,1246.17 1317.19,1245.89 1318.18,1245.64 1319.16,1245.39 1320.15,1245.17 1321.13,1244.96 1322.12,1244.77 1323.1,1244.59 1324.09,1244.42 1325.08,1244.26 1326.06,1244.12 1327.05,1243.98 1328.03,1243.86 1329.02,1243.75 1330.01,1243.64 1330.99,1243.55 1331.98,1243.46 1332.96,1243.38 1333.95,1243.3 1334.94,1243.23 1335.92,1243.17 1336.91,1243.11 1337.89,1243.06 1338.88,1243.01 1339.87,1242.97 1340.85,1242.93 1341.84,1242.9 1342.82,1242.87 1343.81,1242.84 1344.79,1242.81 1345.78,1242.79 1346.77,1242.77 1347.75,1242.75 1348.74,1242.73 1349.72,1242.71 1350.71,1242.7 1351.7,1242.69 1352.68,1242.68 1353.67,1242.67 1354.65,1242.66 1355.64,1242.65 1356.63,1242.65 1357.61,1242.64 1358.6,1242.63 1359.58,1242.63 1360.57,1242.63 1361.55,1242.62 1362.54,1242.62 1363.53,1242.62 1364.51,1242.61 1365.5,1242.61 1366.48,1242.61 1367.47,1242.61" fill="none" stroke="#2a2a2a" stroke-width="1.25"/>
<polyline points="974.1,1649.8 975.09,1649.8 976.07,1649.8 977.06,1649.8 978.04,1649.8 979.03,1649.8 980.02,1649.8 981,1649.8 981.99,1649.8 982.97,1649.8 983.96,1649.8 984.94,1649.8 985.93,1649.8 986.92,1649.8 987.9,1649.8 988.89,1649.8 989.87,1649.8 990.86,1649.8 991.85,1649.8 992.83,1649.8 993.82,1649.8 994.8,1649.8 995.79,1649.8 996.78,1649.8 997.76,1649.8 998.75,1649.8 999.73,1649.8 1000.72,1649.8 1001.7,1649.8 1002.69,1649.79 1003.68,1649.79 1004.66,1649.79 1005.65,1649.79 1006.63,1649.79 1007.62,1649.79 1008.61,1649.79 1009.59,1649.78 1010.58,1649.78 1011.56,1649.78 1012.55,1649.77 1013.54,1649.77 1014.52,1649.77 1015.51,1649.76 1016.49,1649.76 1017.48,1649.75 1018.47,1649.75 1019.45,1649.74 1020.44,1649.73 1021.42,1649.73 1022.41,1649.72 1023.39,1649.71 1024.38,1649.7 1025.37,1649.69 1026.35,1649.68 1027.34,1649.67 1028.32,1649.65 1029.31,1649.64 1030.3,1649.62 1031.28,1649.61 1032.27,1649.59 1033.25,1649.57 1034.24,1649.55 1035.23,1649.53 1036.21,1649.51 1037.2,1649.48 1038.18,1649.46 1039.17,1649.43 1040.15,1649.4 1041.14,1649.37 1042.13,1649.33 1043.11,1649.3 1044.1,1649.26 1045.08,1649.22 1046.07,1649.18 1047.06,1649.13 1048.04,1649.09 1049.03,1649.04 1050.01,1648.99 1051,1648.93 1051.99,1648.87 1052.97,1648.81 1053.96,1648.75 1054.94,1648.68 1055.93,1648.61 1056.91,1648.53 1057.9,1648.45 1058.89,1648.37 1059.87,1648.28 1060.86,1648.19 1061.84,1648.1 1062.83,1648 1063.82,1647.89 1064.8,1647.78 1065.79,1647.67 1066.77,1647.55 1067.76,1647.43 1068.75,1647.3 1069.73,1647.16 1070.72,1647.02 1071.7,1646.88 1072.69,1646.72 1073.67,1646.56 1074.66,1646.4 1075.65,1646.22 1076.63,1646.04 1077.62,1645.86 1078.6,1645.66 1079.59,1645.46 1080.58,1645.25 1081.56,1645.04 1082.55,1644.81 1083.53,1644.58 1084.52,1644.33 1085.51,1644.08 1086.49,1643.82 1087.48,1643.55 1088.46,1643.27 1089.45,1642.98 1090.43,1642.68 1091.42,1642.37 1092.41,1642.05 1093.39,1641.72 1094.38,1641.38 1095.36,1641.02 1096.35,1640.66 1097.34,1640.28 1098.32,1639.89 1099.31,1639.49 1100.29,1639.07 1101.28,1638.65 1102.27,1638.21 1103.25,1637.75 1104.24,1637.28 1105.22,1636.8 1106.21,1636.3 1107.2,1635.79 1108.18,1635.26 1109.17,1634.72 1110.15,1634.16 1111.14,1633.59 1112.12,1633 1113.11,1632.39 1114.1,1631.77 1115.08,1631.12 1116.07,1630.47 1117.05,1629.79 1118.04,1629.09 1119.03,1628.38 1120.01,1627.65 1121,1626.9 1121.98,1626.13 1122.97,1625.34 1123.96,1624.53 1124.94,1623.7 1125.93,1622.84 1126.91,1621.97 1127.9,1621.08 1128.88,1620.16 1129.87,1619.23 1130.86,1618.27 1131.84,1617.29 1132.83,1616.28 1133.81,1615.25 1134.8,1614.2 1135.79,1613.13 1136.77,1612.03 1137.76,1610.91 1138.74,1609.76 1139.73,1608.59 1140.72,1607.39 1141.7,1606.17 1142.69,1604.92 1143.67,1603.65 1144.66,1602.35 1145.64,1601.02 1146.63,1599.67 1147.62,1598.29 1148.6,1596.88 1149.59,1595.45 1150.57,1593.99 1151.56,1592.5 1152.55,1590.98 1153.53,1589.44 1154.52,1587.87 1155.5,1586.27 1156.49,1584.64 1157.48,1582.98 1158.46,1581.3 1159.45,1579.58 1160.43,1577.84 1161.42,1576.07 1162.4,1574.26 1163.39,1572.43 1164.38,1570.58 1165.36,1568.69 1166.35,1566.77 1167.33,1564.82 1168.32,1562.85 1169.31,1560.84 1170.29,1558.81 1171.28,1556.75 1172.26,1554.66 1173.25,1552.54 1174.24,1550.39 1175.22,1548.21 1176.21,1546.01 1177.19,1543.78 1178.18,1541.52 1179.17,1539.23 1180.15,1536.91 1181.14,1534.57 1182.12,1532.2 1183.11,1529.8 1184.09,1527.38 1185.08,1524.93 1186.07,1522.45 1187.05,1519.95 1188.04,1517.43 1189.02,1514.88 1190.01,1512.31 1191,1509.71 1191.98,1507.09 1192.97,1504.45 1193.95,1501.78 1194.94,1499.09 1195.93,1496.39 1196.91,1493.66 1197.9,1490.91 1198.88,1488.15 1199.87,1485.36 1200.85,1482.56 1201.84,1479.74 1202.83,1476.9 1203.81,1474.05 1204.8,1471.18 1205.78,1468.3 1206.77,1465.41 1207.76,1462.5 1208.74,1459.58 1209.73,1456.65 1210.71,1453.71 1211.7,1450.76 1212.69,1447.81 1213.67,1444.84 1214.66,1441.87 1215.64,1438.89 1216.63,1435.91 1217.61,1432.93 1218.6,1429.94 1219.59,1426.95 1220.57,1423.96 1221.56,1420.97 1222.54,1417.98 1223.53,1415 1224.52,1412.01 1225.5,1409.04 1226.49,1406.06 1227.47,1403.1 1228.46,1400.14 1229.45,1397.19 1230.43,1394.25 1231.42,1391.32 1232.4,1388.4 1233.39,1385.49 1234.37,1382.6 1235.36,1379.72 1236.35,1376.86 1237.33,1374.02 1238.32,1371.19 1239.3,1368.38 1240.29,1365.59 1241.28,1362.82 1242.26,1360.08 1243.25,1357.35 1244.23,1354.65 1245.22,1351.97 1246.21,1349.32 1247.19,1346.7 1248.18,1344.1 1249.16,1341.53 1250.15,1338.99 1251.14,1336.47 1252.12,1333.99 1253.11,1331.54 1254.09,1329.12 1255.08,1326.73 1256.06,1324.37 1257.05,1322.05 1258.04,1319.76 1259.02,1317.51 1260.01,1315.29 1260.99,1313.11 1261.98,1310.96 1262.97,1308.85 1263.95,1306.78 1264.94,1304.74 1265.92,1302.74 1266.91,1300.78 1267.9,1298.86 1268.88,1296.97 1269.87,1295.13 1270.85,1293.32 1271.84,1291.55 1272.82,1289.82 1273.81,1288.13 1274.8,1286.47 1275.78,1284.86 1276.77,1283.29 1277.75,1281.75 1278.74,1280.25 1279.73,1278.79 1280.71,1277.37 1281.7,1275.99 1282.68,1274.64 1283.67,1273.34 1284.66,1272.07 1285.64,1270.83 1286.63,1269.64 1287.61,1268.48 1288.6,1267.35 1289.58,1266.26 1290.57,1265.21 1291.56,1264.19 1292.54,1263.2 1293.53,1262.25 1294.51,1261.33 1295.5,1260.44 1296.49,1259.58 1297.47,1258.76 1298.46,1257.96 1299.44,1257.2 1300.43,1256.46 1301.42,1255.75 1302.4,1255.07 1303.39,1254.42 1304.37,1253.8 1305.36,1253.2 1306.34,1252.62 1307.33,1252.08 1308.32,1251.55 1309.3,1251.05 1310.29,1250.57 1311.27,1250.11 1312.26,1249.67 1313.25,1249.26 1314.23,1248.86 1315.22,1248.49 1316.2,1248.13 1317.19,1247.79 1318.18,1247.46 1319.16,1247.16 1320.15,1246.87 1321.13,1246.59 1322.12,1246.33 1323.1,1246.09 1324.09,1245.86 1325.08,1245.64 1326.06,1245.43 1327.05,1245.23 1328.03,1245.05 1329.02,1244.88 1330.01,1244.72 1330.99,1244.56 1331.98,1244.42 1332.96,1244.29 1333.95,1244.16 1334.94,1244.04 1335.92,1243.93 1336.91,1243.83 1337.89,1243.74 1338.88,1243.65 1339.87,1243.56 1340.85,1243.49 1341.84,1243.42 1342.82,1243.35 1343.81,1243.29 1344.79,1243.23 1345.78,1243.18 1346.77,1243.13 1347.75,1243.08 1348.74,1243.04 1349.72,1243 1350.71,1242.97 1351.7,1242.93 1352.68,1242.9 1353.67,1242.87 1354.65,1242.85 1355.64,1242.83 1356.63,1242.8 1357.61,1242.79 1358.6,1242.77 1359.58,1242.75 1360.57,1242.74 1361.55,1242.72 1362.54,1242.71 1363.53,1242.7 1364.51,1242.69 1365.5,1242.68 1366.48,1242.67 1367.47,1242.66" fill="none" stroke="#ff2a2a" stroke-width="1.25"/>
<polyline points="974.1,1649.8 975.13,1649.8 976.17,1649.8 977.2,1649.8 978.24,1649.8 979.27,1649.8 980.31,1649.8 981.34,1649.79 982.38,1649.79 983.41,1649.79 984.45,1649.78 985.48,1649.77 986.52,1649.76 987.55,1649.75 988.59,1649.74 989.62,1649.73 990.65,1649.71 991.69,1649.69 992.72,1649.67 993.76,1649.64 994.79,1649.61 995.83,1649.58 996.86,1649.55 997.9,1649.51 998.93,1649.47 999.97,1649.42 1001,1649.37 1002.04,1649.31 1003.07,1649.25 1004.11,1649.19 1005.14,1649.12 1006.17,1649.04 1007.21,1648.96 1008.24,1648.87 1009.28,1648.78 1010.31,1648.68 1011.35,1648.57 1012.38,1648.46 1013.42,1648.34 1014.45,1648.21 1015.49,1648.08 1016.52,1647.94 1017.56,1647.79 1018.59,1647.63 1019.63,1647.46 1020.66,1647.29 1021.69,1647.1 1022.73,1646.91 1023.76,1646.71 1024.8,1646.5 1025.83,1646.27 1026.87,1646.04 1027.9,1645.8 1028.94,1645.55 1029.97,1645.29 1031.01,1645.01 1032.04,1644.73 1033.08,1644.44 1034.11,1644.13 1035.15,1643.81 1036.18,1643.48 1037.21,1643.14 1038.25,1642.78 1039.28,1642.41 1040.32,1642.03 1041.35,1641.64 1042.39,1641.23 1043.42,1640.81 1044.46,1640.38 1045.49,1639.93 1046.53,1639.47 1047.56,1638.99 1048.6,1638.5 1049.63,1637.99 1050.66,1637.47 1051.7,1636.94 1052.73,1636.39 1053.77,1635.82 1054.8,1635.24 1055.84,1634.64 1056.87,1634.03 1057.91,1633.39 1058.94,1632.75 1059.98,1632.08 1061.01,1631.4 1062.05,1630.7 1063.08,1629.99 1064.12,1629.26 1065.15,1628.51 1066.18,1627.74 1067.22,1626.96 1068.25,1626.15 1069.29,1625.33 1070.32,1624.49 1071.36,1623.63 1072.39,1622.76 1073.43,1621.86 1074.46,1620.95 1075.5,1620.02 1076.53,1619.07 1077.57,1618.09 1078.6,1617.1 1079.64,1616.1 1080.67,1615.07 1081.7,1614.02 1082.74,1612.95 1083.77,1611.86 1084.81,1610.76 1085.84,1609.63 1086.88,1608.48 1087.91,1607.32 1088.95,1606.13 1089.98,1604.92 1091.02,1603.7 1092.05,1602.45 1093.09,1601.18 1094.12,1599.9 1095.16,1598.59 1096.19,1597.26 1097.22,1595.92 1098.26,1594.55 1099.29,1593.16 1100.33,1591.75 1101.36,1590.33 1102.4,1588.88 1103.43,1587.41 1104.47,1585.92 1105.5,1584.42 1106.54,1582.89 1107.57,1581.34 1108.61,1579.78 1109.64,1578.19 1110.68,1576.59 1111.71,1574.96 1112.74,1573.32 1113.78,1571.65 1114.81,1569.97 1115.85,1568.27 1116.88,1566.55 1117.92,1564.81 1118.95,1563.06 1119.99,1561.28 1121.02,1559.49 1122.06,1557.68 1123.09,1555.85 1124.13,1554 1125.16,1552.14 1126.2,1550.26 1127.23,1548.36 1128.26,1546.44 1129.3,1544.51 1130.33,1542.56 1131.37,1540.6 1132.4,1538.62 1133.44,1536.63 1134.47,1534.62 1135.51,1532.59 1136.54,1530.55 1137.58,1528.5 1138.61,1526.43 1139.65,1524.35 1140.68,1522.25 1141.72,1520.15 1142.75,1518.02 1143.78,1515.89 1144.82,1513.74 1145.85,1511.59 1146.89,1509.42 1147.92,1507.24 1148.96,1505.04 1149.99,1502.84 1151.03,1500.63 1152.06,1498.41 1153.1,1496.18 1154.13,1493.94 1155.17,1491.69 1156.2,1489.43 1157.24,1487.17 1158.27,1484.89 1159.3,1482.61 1160.34,1480.33 1161.37,1478.04 1162.41,1475.74 1163.44,1473.44 1164.48,1471.13 1165.51,1468.81 1166.55,1466.5 1167.58,1464.18 1168.62,1461.85 1169.65,1459.53 1170.69,1457.2 1171.72,1454.87 1172.76,1452.54 1173.79,1450.2 1174.82,1447.87 1175.86,1445.53 1176.89,1443.2 1177.93,1440.87 1178.96,1438.53 1180,1436.2 1181.03,1433.88 1182.07,1431.55 1183.1,1429.23 1184.14,1426.91 1185.17,1424.59 1186.21,1422.28 1187.24,1419.97 1188.27,1417.67 1189.31,1415.37 1190.34,1413.08 1191.38,1410.8 1192.41,1408.52 1193.45,1406.25 1194.48,1403.99 1195.52,1401.74 1196.55,1399.49 1197.59,1397.25 1198.62,1395.03 1199.66,1392.81 1200.69,1390.6 1201.73,1388.4 1202.76,1386.22 1203.79,1384.04 1204.83,1381.88 1205.86,1379.72 1206.9,1377.59 1207.93,1375.46 1208.97,1373.34 1210,1371.24 1211.04,1369.16 1212.07,1367.08 1213.11,1365.03 1214.14,1362.98 1215.18,1360.95 1216.21,1358.94 1217.25,1356.94 1218.28,1354.96 1219.31,1352.99 1220.35,1351.04 1221.38,1349.11 1222.42,1347.19 1223.45,1345.29 1224.49,1343.41 1225.52,1341.55 1226.56,1339.7 1227.59,1337.87 1228.63,1336.06 1229.66,1334.27 1230.7,1332.5 1231.73,1330.75 1232.77,1329.01 1233.8,1327.29 1234.83,1325.6 1235.87,1323.92 1236.9,1322.26 1237.94,1320.62 1238.97,1319.01 1240.01,1317.41 1241.04,1315.83 1242.08,1314.27 1243.11,1312.73 1244.15,1311.22 1245.18,1309.72 1246.22,1308.24 1247.25,1306.78 1248.29,1305.35 1249.32,1303.93 1250.35,1302.54 1251.39,1301.16 1252.42,1299.81 1253.46,1298.47 1254.49,1297.16 1255.53,1295.87 1256.56,1294.59 1257.6,1293.34 1258.63,1292.11 1259.67,1290.9 1260.7,1289.71 1261.74,1288.54 1262.77,1287.38 1263.81,1286.25 1264.84,1285.14 1265.87,1284.05 1266.91,1282.98 1267.94,1281.93 1268.98,1280.89 1270.01,1279.88 1271.05,1278.89 1272.08,1277.91 1273.12,1276.96 1274.15,1276.02 1275.19,1275.1 1276.22,1274.2 1277.26,1273.32 1278.29,1272.45 1279.33,1271.61 1280.36,1270.78 1281.39,1269.97 1282.43,1269.18 1283.46,1268.4 1284.5,1267.64 1285.53,1266.9 1286.57,1266.18 1287.6,1265.47 1288.64,1264.78 1289.67,1264.1 1290.71,1263.44 1291.74,1262.8 1292.78,1262.17 1293.81,1261.56 1294.85,1260.96 1295.88,1260.37 1296.91,1259.81 1297.95,1259.25 1298.98,1258.71 1300.02,1258.18 1301.05,1257.67 1302.09,1257.17 1303.12,1256.68 1304.16,1256.21 1305.19,1255.75 1306.23,1255.3 1307.26,1254.87 1308.3,1254.44 1309.33,1254.03 1310.37,1253.63 1311.4,1253.24 1312.43,1252.86 1313.47,1252.5 1314.5,1252.14 1315.54,1251.8 1316.57,1251.46 1317.61,1251.14 1318.64,1250.82 1319.68,1250.52 1320.71,1250.22 1321.75,1249.93 1322.78,1249.65 1323.82,1249.39 1324.85,1249.13 1325.88,1248.87 1326.92,1248.63 1327.95,1248.39 1328.99,1248.17 1330.02,1247.94 1331.06,1247.73 1332.09,1247.53 1333.13,1247.33 1334.16,1247.13 1335.2,1246.95 1336.23,1246.77 1337.27,1246.6 1338.3,1246.43 1339.34,1246.27 1340.37,1246.12 1341.4,1245.97 1342.44,1245.82 1343.47,1245.68 1344.51,1245.55 1345.54,1245.42 1346.58,1245.3 1347.61,1245.18 1348.65,1245.07 1349.68,1244.96 1350.72,1244.85 1351.75,1244.75 1352.79,1244.65 1353.82,1244.56 1354.86,1244.47 1355.89,1244.38 1356.92,1244.3 1357.96,1244.22 1358.99,1244.14 1360.03,1244.07 1361.06,1244 1362.1,1243.93 1363.13,1243.87 1364.17,1243.81 1365.2,1243.75 1366.24,1243.69 1367.27,1243.64 1368.31,1243.59 1369.34,1243.54 1370.38,1243.49 1371.41,1243.45 1372.44,1243.4 1373.48,1243.36 1374.51,1243.32 1375.55,1243.29 1376.58,1243.25 1377.62,1243.22 1378.65,1243.19 1379.69,1243.15 1380.72,1243.12 1381.76,1243.1 1382.79,1243.07 1383.83,1243.05 1384.86,1243.02 1385.9,1243 1386.93,1242.98" fill="none" stroke="#2a2aff" stroke-width="1.25"/>
<polyline points="974.1,1649.8 975.49,1649.8 976.89,1649.8 978.28,1649.79 979.67,1649.78 981.07,1649.76 982.46,1649.73 983.85,1649.7 985.25,1649.65 986.64,1649.6 988.03,1649.53 989.43,1649.44 990.82,1649.35 992.22,1649.23 993.61,1649.11 995,1648.96 996.4,1648.8 997.79,1648.61 999.18,1648.41 1000.58,1648.18 1001.97,1647.94 1003.36,1647.67 1004.76,1647.38 1006.15,1647.06 1007.54,1646.72 1008.94,1646.35 1010.33,1645.96 1011.72,1645.54 1013.12,1645.09 1014.51,1644.61 1015.9,1644.11 1017.3,1643.57 1018.69,1643 1020.08,1642.4 1021.48,1641.77 1022.87,1641.11 1024.27,1640.41 1025.66,1639.68 1027.05,1638.91 1028.45,1638.11 1029.84,1637.28 1031.23,1636.4 1032.63,1635.5 1034.02,1634.55 1035.41,1633.57 1036.81,1632.55 1038.2,1631.49 1039.59,1630.39 1040.99,1629.26 1042.38,1628.08 1043.77,1626.87 1045.17,1625.62 1046.56,1624.32 1047.95,1622.99 1049.35,1621.62 1050.74,1620.2 1052.14,1618.75 1053.53,1617.25 1054.92,1615.71 1056.32,1614.13 1057.71,1612.51 1059.1,1610.85 1060.5,1609.15 1061.89,1607.41 1063.28,1605.63 1064.68,1603.8 1066.07,1601.94 1067.46,1600.03 1068.86,1598.09 1070.25,1596.1 1071.64,1594.07 1073.04,1592.01 1074.43,1589.9 1075.82,1587.76 1077.22,1585.57 1078.61,1583.35 1080,1581.09 1081.4,1578.79 1082.79,1576.45 1084.19,1574.08 1085.58,1571.67 1086.97,1569.23 1088.37,1566.75 1089.76,1564.23 1091.15,1561.68 1092.55,1559.1 1093.94,1556.49 1095.33,1553.84 1096.73,1551.16 1098.12,1548.45 1099.51,1545.71 1100.91,1542.95 1102.3,1540.15 1103.69,1537.33 1105.09,1534.48 1106.48,1531.6 1107.87,1528.7 1109.27,1525.77 1110.66,1522.83 1112.05,1519.86 1113.45,1516.86 1114.84,1513.85 1116.24,1510.82 1117.63,1507.77 1119.02,1504.7 1120.42,1501.62 1121.81,1498.52 1123.2,1495.41 1124.6,1492.28 1125.99,1489.15 1127.38,1486 1128.78,1482.84 1130.17,1479.67 1131.56,1476.5 1132.96,1473.32 1134.35,1470.13 1135.74,1466.94 1137.14,1463.74 1138.53,1460.55 1139.92,1457.35 1141.32,1454.15 1142.71,1450.96 1144.11,1447.76 1145.5,1444.57 1146.89,1441.38 1148.29,1438.2 1149.68,1435.03 1151.07,1431.86 1152.47,1428.71 1153.86,1425.56 1155.25,1422.42 1156.65,1419.3 1158.04,1416.18 1159.43,1413.09 1160.83,1410 1162.22,1406.93 1163.61,1403.88 1165.01,1400.85 1166.4,1397.84 1167.79,1394.84 1169.19,1391.87 1170.58,1388.92 1171.97,1385.99 1173.37,1383.08 1174.76,1380.2 1176.16,1377.34 1177.55,1374.5 1178.94,1371.7 1180.34,1368.92 1181.73,1366.16 1183.12,1363.44 1184.52,1360.74 1185.91,1358.08 1187.3,1355.44 1188.7,1352.83 1190.09,1350.26 1191.48,1347.71 1192.88,1345.2 1194.27,1342.73 1195.66,1340.28 1197.06,1337.87 1198.45,1335.49 1199.84,1333.14 1201.24,1330.83 1202.63,1328.56 1204.02,1326.32 1205.42,1324.11 1206.81,1321.94 1208.21,1319.81 1209.6,1317.71 1210.99,1315.65 1212.39,1313.62 1213.78,1311.63 1215.17,1309.68 1216.57,1307.76 1217.96,1305.87 1219.35,1304.03 1220.75,1302.22 1222.14,1300.44 1223.53,1298.71 1224.93,1297 1226.32,1295.34 1227.71,1293.7 1229.11,1292.11 1230.5,1290.55 1231.89,1289.02 1233.29,1287.53 1234.68,1286.07 1236.07,1284.65 1237.47,1283.26 1238.86,1281.9 1240.26,1280.58 1241.65,1279.29 1243.04,1278.03 1244.44,1276.81 1245.83,1275.61 1247.22,1274.45 1248.62,1273.32 1250.01,1272.22 1251.4,1271.15 1252.8,1270.11 1254.19,1269.09 1255.58,1268.11 1256.98,1267.16 1258.37,1266.23 1259.76,1265.33 1261.16,1264.46 1262.55,1263.61 1263.94,1262.79 1265.34,1261.99 1266.73,1261.22 1268.13,1260.48 1269.52,1259.76 1270.91,1259.06 1272.31,1258.38 1273.7,1257.73 1275.09,1257.1 1276.49,1256.49 1277.88,1255.9 1279.27,1255.33 1280.67,1254.79 1282.06,1254.26 1283.45,1253.75 1284.85,1253.26 1286.24,1252.78 1287.63,1252.33 1289.03,1251.89 1290.42,1251.47 1291.81,1251.06 1293.21,1250.67 1294.6,1250.29 1295.99,1249.93 1297.39,1249.59 1298.78,1249.26 1300.18,1248.94 1301.57,1248.63 1302.96,1248.34 1304.36,1248.06 1305.75,1247.79 1307.14,1247.53 1308.54,1247.28 1309.93,1247.05 1311.32,1246.82 1312.72,1246.61 1314.11,1246.4 1315.5,1246.2 1316.9,1246.01 1318.29,1245.83 1319.68,1245.66 1321.08,1245.5 1322.47,1245.34 1323.86,1245.2 1325.26,1245.05 1326.65,1244.92 1328.04,1244.79 1329.44,1244.67 1330.83,1244.55 1332.23,1244.44 1333.62,1244.34 1335.01,1244.24 1336.41,1244.15 1337.8,1244.06 1339.19,1243.97 1340.59,1243.89 1341.98,1243.82 1343.37,1243.74 1344.77,1243.68 1346.16,1243.61 1347.55,1243.55 1348.95,1243.49 1350.34,1243.44 1351.73,1243.39 1353.13,1243.34 1354.52,1243.29 1355.91,1243.25 1357.31,1243.21 1358.7,1243.17 1360.09,1243.13 1361.49,1243.1 1362.88,1243.06 1364.28,1243.03 1365.67,1243.01 1367.06,1242.98 1368.46,1242.95 1369.85,1242.93 1371.24,1242.91 1372.64,1242.89 1374.03,1242.87 1375.42,1242.85 1376.82,1242.83 1378.21,1242.82 1379.6,1242.8 1381,1242.79 1382.39,1242.77 1383.78,1242.76 1385.18,1242.75 1386.57,1242.74 1387.96,1242.73 1389.36,1242.72 1390.75,1242.71 1392.15,1242.7 1393.54,1242.7 1394.93,1242.69 1396.33,1242.68 1397.72,1242.68 1399.11,1242.67 1400.51,1242.66 1401.9,1242.66 1403.29,1242.65 1404.69,1242.65 1406.08,1242.65 1407.47,1242.64 1408.87,1242.64 1410.26,1242.64 1411.65,1242.63 1413.05,1242.63 1414.44,1242.63 1415.83,1242.63 1417.23,1242.62 1418.62,1242.62 1420.01,1242.62 1421.41,1242.62 1422.8,1242.62 1424.2,1242.62 1425.59,1242.61 1426.98,1242.61 1428.38,1242.61 1429.77,1242.61 1431.16,1242.61 1432.56,1242.61 1433.95,1242.61 1435.34,1242.61 1436.74,1242.61 1438.13,1242.61 1439.52,1242.61 1440.92,1242.61 1442.31,1242.6 1443.7,1242.6 1445.1,1242.6 1446.49,1242.6 1447.88,1242.6 1449.28,1242.6 1450.67,1242.6 1452.06,1242.6 1453.46,1242.6 1454.85,1242.6 1456.25,1242.6 1457.64,1242.6 1459.03,1242.6 1460.43,1242.6 1461.82,1242.6 1463.21,1242.6 1464.61,1242.6 1466,1242.6 1467.39,1242.6 1468.79,1242.6 1470.18,1242.6 1471.57,1242.6 1472.97,1242.6 1474.36,1242.6 1475.75,1242.6 1477.15,1242.6 1478.54,1242.6 1479.93,1242.6 1481.33,1242.6 1482.72,1242.6 1484.12,1242.6 1485.51,1242.6 1486.9,1242.6 1488.3,1242.6 1489.69,1242.6 1491.08,1242.6 1492.48,1242.6 1493.87,1242.6 1495.26,1242.6 1496.66,1242.6 1498.05,1242.6 1499.44,1242.6 1500.84,1242.6 1502.23,1242.6 1503.62,1242.6 1505.02,1242.6 1506.41,1242.6 1507.8,1242.6 1509.2,1242.6 1510.59,1242.6 1511.98,1242.6 1513.38,1242.6 1514.77,1242.6 1516.17,1242.6 1517.56,1242.6 1518.95,1242.6 1520.35,1242.6 1521.74,1242.6 1523.13,1242.6 1524.53,1242.6 1525.92,1242.6 1527.31,1242.6 1528.71,1242.6 1530.1,1242.6" fill="none" stroke="#2aff2a" stroke-width="1.25"/>
</g>
<g style="font-family:'Liberation Sans',Arial,sans-serif;font-size:23px" fill="#1a1a1a">
<text x="959.6" y="1658" text-anchor="end">0</text>
<text x="959.6" y="1576.56" text-anchor="end">20</text>
<text x="959.6" y="1495.12" text-anchor="end">40</text>
<text x="959.6" y="1413.68" text-anchor="end">60</text>
<text x="959.6" y="1332.24" text-anchor="end">80</text>
<text x="959.6" y="1250.8" text-anchor="end">100</text>
<text x="974.1" y="1684.3" text-anchor="middle">0</text>
<text x="1252.1" y="1684.3" text-anchor="middle">2</text>
<text x="1530.1" y="1684.3" text-anchor="middle">4</text>
<text transform="translate(910.8,1425.84) rotate(-90)" text-anchor="middle" style="font-size:26px">Q3 (%)</text>
<text x="1252.5" y="1725.8" text-anchor="middle" style="font-size:25px;letter-spacing:0.3px">x (mm)</text>
</g>
<rect x="1402.4" y="1512" width="146.1" height="118.2" fill="#fff" stroke="#666" stroke-width="1.2"/>
<g style="font-family:'Liberation Sans',Arial,sans-serif;font-size:22.5px" fill="#1a1a1a">
<rect x="1425.2" y="1522.6" width="10" height="10" fill="#000000"/>
<text x="1462.9" y="1535.1">conf 3.1</text>
<rect x="1425.2" y="1551.2" width="10" height="10" fill="#ff0000"/>
<text x="1462.9" y="1563.7">conf 3.2</text>
<rect x="1425.2" y="1579.8" width="10" height="10" fill="#0000ff"/>
<text x="1462.9" y="1592.3">conf 3.3</text>
<rect x="1425.2" y="1608.4" width="10" height="10" fill="#00ff00"/>
<text x="1462.9" y="1620.9">conf 3.4</text>
</g>
<g stroke="#1a1a1a" stroke-width="1.5" fill="none">
<line x1="107.9" y1="2214.5" x2="107.9" y2="1752.6"/>
<line x1="99.9" y1="2214.5" x2="683.8" y2="2214.5"/>
<line x1="99.9" y1="2214.5" x2="107.9" y2="2214.5"/>
<line x1="99.9" y1="2133.4" x2="107.9" y2="2133.4"/>
<line x1="99.9" y1="2052.3" x2="107.9" y2="2052.3"/>
<line x1="99.9" y1="1971.2" x2="107.9" y2="1971.2"/>
<line x1="99.9" y1="1890.1" x2="107.9" y2="1890.1"/>
<line x1="99.9" y1="1809" x2="107.9" y2="1809"/>
<line x1="103.9" y1="2173.95" x2="107.9" y2="2173.95"/>
<line x1="103.9" y1="2092.85" x2="107.9" y2="2092.85"/>
<line x1="103.9" y1="2011.75" x2="107.9" y2="2011.75"/>
<line x1="103.9" y1="1930.65" x2="107.9" y2="1930.65"/>
<line x1="103.9" y1="1849.55" x2="107.9" y2="1849.55"/>
<line x1="103.9" y1="1768.45" x2="107.9" y2="1768.45"/>
<line x1="107.9" y1="2214.5" x2="107.9" y2="2223"/>
<line x1="329.46" y1="2214.5" x2="329.46" y2="2223"/>
<line x1="551.02" y1="2214.5" x2="551.02" y2="2223"/>
<line x1="218.68" y1="2214.5" x2="218.68" y2="2219"/>
<line x1="440.24" y1="2214.5" x2="440.24" y2="2219"/>
<line x1="661.8" y1="2214.5" x2="661.8" y2="2219"/>
</g>
<path d="M107.9,1747 L113.4,1758.4 L107.9,1755 L102.4,1758.4 Z" fill="#1a1a1a" stroke="#1a1a1a" stroke-width="0.8" stroke-linejoin="round"/>
<path d="M689.4,2214.5 L678,2209 L681.4,2214.5 L678,2220 Z" fill="#1a1a1a" stroke="#1a1a1a" stroke-width="0.8" stroke-linejoin="round"/>
<clipPath id="cP7"><rect x="107.9" y="1760.34" width="553.9" height="455.16"/></clipPath>
<g clip-path="url(#cP7)">
<rect x="158.69" y="2202.8" width="9.2" height="9.2" fill="#000000"/>
<rect x="169.77" y="2196.11" width="9.2" height="9.2" fill="#000000"/>
<rect x="181.95" y="2183.95" width="9.2" height="9.2" fill="#000000"/>
<rect x="197.46" y="2166.11" width="9.2" height="9.2" fill="#000000"/>
<rect x="214.08" y="2138.37" width="9.2" height="9.2" fill="#000000"/>
<rect x="234.02" y="2104.02" width="9.2" height="9.2" fill="#000000"/>
<rect x="258.39" y="2058.73" width="9.2" height="9.2" fill="#000000"/>
<rect x="291.63" y="1997.3" width="9.2" height="9.2" fill="#000000"/>
<rect x="324.86" y="1944.34" width="9.2" height="9.2" fill="#000000"/>
<rect x="364.74" y="1891.79" width="9.2" height="9.2" fill="#000000"/>
<rect x="413.48" y="1850.59" width="9.2" height="9.2" fill="#000000"/>
<rect x="474.41" y="1819.04" width="9.2" height="9.2" fill="#000000"/>
<rect x="546.42" y="1806.91" width="9.2" height="9.2" fill="#000000"/>
<rect x="158.69" y="2201.79" width="9.2" height="9.2" fill="#ff0000"/>
<rect x="169.77" y="2194.49" width="9.2" height="9.2" fill="#ff0000"/>
<rect x="181.95" y="2180.3" width="9.2" height="9.2" fill="#ff0000"/>
<rect x="197.46" y="2154.55" width="9.2" height="9.2" fill="#ff0000"/>
<rect x="214.08" y="2124.22" width="9.2" height="9.2" fill="#ff0000"/>
<rect x="234.02" y="2079.78" width="9.2" height="9.2" fill="#ff0000"/>
<rect x="258.39" y="2027.63" width="9.2" height="9.2" fill="#ff0000"/>
<rect x="291.63" y="1962.14" width="9.2" height="9.2" fill="#ff0000"/>
<rect x="324.86" y="1911.61" width="9.2" height="9.2" fill="#ff0000"/>
<rect x="364.74" y="1869.56" width="9.2" height="9.2" fill="#ff0000"/>
<rect x="413.48" y="1834.41" width="9.2" height="9.2" fill="#ff0000"/>
<rect x="474.41" y="1816.61" width="9.2" height="9.2" fill="#ff0000"/>
<rect x="546.42" y="1809.75" width="9.2" height="9.2" fill="#ff0000"/>
<rect x="629.5" y="1806.51" width="9.2" height="9.2" fill="#ff0000"/>
<rect x="158.69" y="2203.05" width="9.2" height="9.2" fill="#0000ff"/>
<rect x="169.77" y="2191.25" width="9.2" height="9.2" fill="#0000ff"/>
<rect x="181.95" y="2176.65" width="9.2" height="9.2" fill="#0000ff"/>
<rect x="197.46" y="2152.52" width="9.2" height="9.2" fill="#0000ff"/>
<rect x="214.08" y="2116.96" width="9.2" height="9.2" fill="#0000ff"/>
<rect x="234.02" y="2070.85" width="9.2" height="9.2" fill="#0000ff"/>
<rect x="258.39" y="2008.61" width="9.2" height="9.2" fill="#0000ff"/>
<rect x="291.63" y="1917.66" width="9.2" height="9.2" fill="#0000ff"/>
<rect x="324.86" y="1855.82" width="9.2" height="9.2" fill="#0000ff"/>
<rect x="364.74" y="1821.07" width="9.2" height="9.2" fill="#0000ff"/>
<rect x="413.48" y="1804.89" width="9.2" height="9.2" fill="#0000ff"/>
<rect x="474.41" y="1804.48" width="9.2" height="9.2" fill="#0000ff"/>
<rect x="105.52" y="2209.9" width="9.2" height="9.2" fill="#00ff00"/>
<rect x="106.07" y="2209.9" width="9.2" height="9.2" fill="#00ff00"/>
<rect x="106.84" y="2209.9" width="9.2" height="9.2" fill="#00ff00"/>
<rect x="107.51" y="2209.9" width="9.2" height="9.2" fill="#00ff00"/>
<rect x="108.29" y="2209.9" width="9.2" height="9.2" fill="#00ff00"/>
<rect x="109.17" y="2209.9" width="9.2" height="9.2" fill="#00ff00"/>
<rect x="110.28" y="2209.9" width="9.2" height="9.2" fill="#00ff00"/>
<rect x="111.61" y="2209.9" width="9.2" height="9.2" fill="#00ff00"/>
<rect x="113.27" y="2209.9" width="9.2" height="9.2" fill="#00ff00"/>
<rect x="115.04" y="2209.9" width="9.2" height="9.2" fill="#00ff00"/>
<rect x="117.15" y="2209.9" width="9.2" height="9.2" fill="#00ff00"/>
<rect x="119.92" y="2209.9" width="9.2" height="9.2" fill="#00ff00"/>
<rect x="123.24" y="2209.9" width="9.2" height="9.2" fill="#00ff00"/>
<rect x="126.79" y="2209.9" width="9.2" height="9.2" fill="#00ff00"/>
<rect x="131" y="2209.9" width="9.2" height="9.2" fill="#00ff00"/>
<rect x="136.53" y="2209.9" width="9.2" height="9.2" fill="#00ff00"/>
<rect x="142.63" y="2209.9" width="9.2" height="9.2" fill="#00ff00"/>
<rect x="150.38" y="2209.9" width="9.2" height="9.2" fill="#00ff00"/>
<rect x="158.69" y="2200.98" width="9.2" height="9.2" fill="#00ff00"/>
<rect x="169.77" y="2195.71" width="9.2" height="9.2" fill="#00ff00"/>
<rect x="181.95" y="2183.14" width="9.2" height="9.2" fill="#00ff00"/>
<rect x="197.46" y="2162.46" width="9.2" height="9.2" fill="#00ff00"/>
<rect x="214.08" y="2125.03" width="9.2" height="9.2" fill="#00ff00"/>
<rect x="234.02" y="2085.01" width="9.2" height="9.2" fill="#00ff00"/>
<rect x="258.39" y="2026.82" width="9.2" height="9.2" fill="#00ff00"/>
<rect x="291.63" y="1939.11" width="9.2" height="9.2" fill="#00ff00"/>
<rect x="324.86" y="1872.81" width="9.2" height="9.2" fill="#00ff00"/>
<rect x="364.74" y="1832.79" width="9.2" height="9.2" fill="#00ff00"/>
<rect x="413.48" y="1812.19" width="9.2" height="9.2" fill="#00ff00"/>
<rect x="474.41" y="1806.51" width="9.2" height="9.2" fill="#00ff00"/>
<rect x="546.42" y="1804.89" width="9.2" height="9.2" fill="#00ff00"/>
<rect x="629.5" y="1804.89" width="9.2" height="9.2" fill="#00ff00"/>
<polyline points="107.9,2214.5 109.11,2214.5 110.32,2214.49 111.52,2214.48 112.73,2214.46 113.94,2214.43 115.15,2214.39 116.35,2214.34 117.56,2214.28 118.77,2214.21 119.98,2214.12 121.19,2214.03 122.39,2213.92 123.6,2213.79 124.81,2213.65 126.02,2213.5 127.22,2213.33 128.43,2213.15 129.64,2212.95 130.85,2212.73 132.06,2212.5 133.26,2212.25 134.47,2211.98 135.68,2211.7 136.89,2211.4 138.09,2211.08 139.3,2210.74 140.51,2210.38 141.72,2210 142.92,2209.61 144.13,2209.19 145.34,2208.76 146.55,2208.3 147.76,2207.83 148.96,2207.33 150.17,2206.82 151.38,2206.28 152.59,2205.72 153.79,2205.14 155,2204.55 156.21,2203.93 157.42,2203.28 158.63,2202.62 159.83,2201.94 161.04,2201.23 162.25,2200.5 163.46,2199.75 164.66,2198.98 165.87,2198.19 167.08,2197.37 168.29,2196.53 169.5,2195.67 170.7,2194.79 171.91,2193.88 173.12,2192.96 174.33,2192.01 175.53,2191.04 176.74,2190.04 177.95,2189.02 179.16,2187.99 180.37,2186.92 181.57,2185.84 182.78,2184.73 183.99,2183.61 185.2,2182.46 186.4,2181.28 187.61,2180.09 188.82,2178.87 190.03,2177.63 191.23,2176.37 192.44,2175.09 193.65,2173.79 194.86,2172.46 196.07,2171.12 197.27,2169.75 198.48,2168.36 199.69,2166.95 200.9,2165.52 202.1,2164.07 203.31,2162.6 204.52,2161.1 205.73,2159.59 206.94,2158.06 208.14,2156.51 209.35,2154.93 210.56,2153.34 211.77,2151.73 212.97,2150.1 214.18,2148.45 215.39,2146.79 216.6,2145.1 217.81,2143.4 219.01,2141.67 220.22,2139.94 221.43,2138.18 222.64,2136.4 223.84,2134.61 225.05,2132.81 226.26,2130.98 227.47,2129.14 228.68,2127.29 229.88,2125.42 231.09,2123.53 232.3,2121.63 233.51,2119.71 234.71,2117.78 235.92,2115.84 237.13,2113.88 238.34,2111.91 239.54,2109.92 240.75,2107.93 241.96,2105.92 243.17,2103.89 244.38,2101.86 245.58,2099.82 246.79,2097.76 248,2095.69 249.21,2093.62 250.41,2091.53 251.62,2089.43 252.83,2087.33 254.04,2085.21 255.25,2083.09 256.45,2080.96 257.66,2078.82 258.87,2076.67 260.08,2074.52 261.28,2072.36 262.49,2070.19 263.7,2068.02 264.91,2065.84 266.12,2063.65 267.32,2061.47 268.53,2059.27 269.74,2057.07 270.95,2054.87 272.15,2052.67 273.36,2050.46 274.57,2048.25 275.78,2046.04 276.99,2043.82 278.19,2041.61 279.4,2039.39 280.61,2037.17 281.82,2034.95 283.02,2032.73 284.23,2030.52 285.44,2028.3 286.65,2026.08 287.86,2023.87 289.06,2021.65 290.27,2019.44 291.48,2017.23 292.69,2015.03 293.89,2012.83 295.1,2010.63 296.31,2008.43 297.52,2006.24 298.72,2004.05 299.93,2001.87 301.14,1999.69 302.35,1997.52 303.56,1995.36 304.76,1993.2 305.97,1991.05 307.18,1988.9 308.39,1986.76 309.59,1984.63 310.8,1982.51 312.01,1980.39 313.22,1978.28 314.43,1976.18 315.63,1974.09 316.84,1972.01 318.05,1969.94 319.26,1967.88 320.46,1965.83 321.67,1963.79 322.88,1961.76 324.09,1959.74 325.3,1957.73 326.5,1955.73 327.71,1953.74 328.92,1951.77 330.13,1949.8 331.33,1947.85 332.54,1945.91 333.75,1943.99 334.96,1942.07 336.17,1940.17 337.37,1938.29 338.58,1936.41 339.79,1934.55 341,1932.71 342.2,1930.87 343.41,1929.05 344.62,1927.25 345.83,1925.46 347.03,1923.68 348.24,1921.92 349.45,1920.18 350.66,1918.44 351.87,1916.73 353.07,1915.03 354.28,1913.34 355.49,1911.67 356.7,1910.01 357.9,1908.37 359.11,1906.75 360.32,1905.14 361.53,1903.55 362.74,1901.97 363.94,1900.41 365.15,1898.86 366.36,1897.34 367.57,1895.82 368.77,1894.33 369.98,1892.84 371.19,1891.38 372.4,1889.93 373.61,1888.5 374.81,1887.09 376.02,1885.69 377.23,1884.3 378.44,1882.94 379.64,1881.59 380.85,1880.25 382.06,1878.94 383.27,1877.64 384.48,1876.35 385.68,1875.08 386.89,1873.83 388.1,1872.59 389.31,1871.37 390.51,1870.17 391.72,1868.98 392.93,1867.81 394.14,1866.66 395.34,1865.52 396.55,1864.39 397.76,1863.29 398.97,1862.19 400.18,1861.12 401.38,1860.06 402.59,1859.01 403.8,1857.98 405.01,1856.97 406.21,1855.97 407.42,1854.99 408.63,1854.02 409.84,1853.07 411.05,1852.13 412.25,1851.2 413.46,1850.3 414.67,1849.4 415.88,1848.52 417.08,1847.66 418.29,1846.81 419.5,1845.97 420.71,1845.15 421.92,1844.34 423.12,1843.54 424.33,1842.76 425.54,1841.99 426.75,1841.24 427.95,1840.5 429.16,1839.77 430.37,1839.06 431.58,1838.35 432.79,1837.66 433.99,1836.99 435.2,1836.32 436.41,1835.67 437.62,1835.03 438.82,1834.41 440.03,1833.79 441.24,1833.19 442.45,1832.6 443.66,1832.02 444.86,1831.45 446.07,1830.89 447.28,1830.34 448.49,1829.81 449.69,1829.29 450.9,1828.77 452.11,1828.27 453.32,1827.78 454.52,1827.29 455.73,1826.82 456.94,1826.36 458.15,1825.91 459.36,1825.46 460.56,1825.03 461.77,1824.6 462.98,1824.19 464.19,1823.78 465.39,1823.39 466.6,1823 467.81,1822.62 469.02,1822.25 470.23,1821.89 471.43,1821.53 472.64,1821.19 473.85,1820.85 475.06,1820.52 476.26,1820.2 477.47,1819.88 478.68,1819.57 479.89,1819.27 481.1,1818.98 482.3,1818.7 483.51,1818.42 484.72,1818.14 485.93,1817.88 487.13,1817.62 488.34,1817.37 489.55,1817.12 490.76,1816.88 491.97,1816.65 493.17,1816.42 494.38,1816.2 495.59,1815.98 496.8,1815.77 498,1815.57 499.21,1815.37 500.42,1815.17 501.63,1814.98 502.83,1814.8 504.04,1814.62 505.25,1814.44 506.46,1814.27 507.67,1814.11 508.87,1813.95 510.08,1813.79 511.29,1813.64 512.5,1813.49 513.7,1813.35 514.91,1813.21 516.12,1813.07 517.33,1812.94 518.54,1812.81 519.74,1812.68 520.95,1812.56 522.16,1812.45 523.37,1812.33 524.57,1812.22 525.78,1812.11 526.99,1812.01 528.2,1811.91 529.41,1811.81 530.61,1811.71 531.82,1811.62 533.03,1811.53 534.24,1811.45 535.44,1811.36 536.65,1811.28 537.86,1811.2 539.07,1811.12 540.28,1811.05 541.48,1810.98 542.69,1810.91 543.9,1810.84 545.11,1810.77 546.31,1810.71 547.52,1810.65 548.73,1810.59 549.94,1810.53 551.14,1810.48 552.35,1810.42 553.56,1810.37 554.77,1810.32 555.98,1810.27 557.18,1810.23 558.39,1810.18 559.6,1810.14 560.81,1810.09 562.01,1810.05 563.22,1810.01 564.43,1809.97 565.64,1809.94 566.85,1809.9 568.05,1809.87 569.26,1809.83 570.47,1809.8 571.68,1809.77 572.88,1809.74 574.09,1809.71 575.3,1809.68 576.51,1809.66 577.72,1809.63 578.92,1809.61 580.13,1809.58 581.34,1809.56 582.55,1809.54 583.75,1809.52 584.96,1809.5 586.17,1809.48 587.38,1809.46 588.59,1809.44 589.79,1809.42" fill="none" stroke="#2a2a2a" stroke-width="1.25"/>
<polyline points="107.9,2214.5 108.98,2214.5 110.07,2214.49 111.15,2214.48 112.23,2214.46 113.31,2214.44 114.4,2214.4 115.48,2214.36 116.56,2214.31 117.65,2214.24 118.73,2214.16 119.81,2214.08 120.89,2213.98 121.98,2213.86 123.06,2213.74 124.14,2213.59 125.22,2213.44 126.31,2213.27 127.39,2213.09 128.47,2212.89 129.56,2212.67 130.64,2212.44 131.72,2212.2 132.8,2211.93 133.89,2211.65 134.97,2211.35 136.05,2211.04 137.14,2210.71 138.22,2210.36 139.3,2209.99 140.38,2209.6 141.47,2209.19 142.55,2208.77 143.63,2208.32 144.72,2207.86 145.8,2207.38 146.88,2206.88 147.96,2206.35 149.05,2205.81 150.13,2205.25 151.21,2204.66 152.3,2204.06 153.38,2203.44 154.46,2202.79 155.54,2202.12 156.63,2201.44 157.71,2200.73 158.79,2200 159.87,2199.25 160.96,2198.48 162.04,2197.68 163.12,2196.87 164.21,2196.03 165.29,2195.17 166.37,2194.29 167.45,2193.39 168.54,2192.46 169.62,2191.52 170.7,2190.55 171.79,2189.56 172.87,2188.55 173.95,2187.51 175.03,2186.46 176.12,2185.38 177.2,2184.28 178.28,2183.16 179.37,2182.02 180.45,2180.86 181.53,2179.67 182.61,2178.46 183.7,2177.24 184.78,2175.99 185.86,2174.72 186.95,2173.42 188.03,2172.11 189.11,2170.77 190.19,2169.42 191.28,2168.04 192.36,2166.65 193.44,2165.23 194.52,2163.79 195.61,2162.33 196.69,2160.86 197.77,2159.36 198.86,2157.84 199.94,2156.3 201.02,2154.75 202.1,2153.17 203.19,2151.58 204.27,2149.96 205.35,2148.33 206.44,2146.68 207.52,2145.01 208.6,2143.32 209.68,2141.62 210.77,2139.9 211.85,2138.16 212.93,2136.4 214.02,2134.63 215.1,2132.84 216.18,2131.04 217.26,2129.21 218.35,2127.38 219.43,2125.52 220.51,2123.66 221.6,2121.77 222.68,2119.88 223.76,2117.97 224.84,2116.04 225.93,2114.1 227.01,2112.15 228.09,2110.18 229.17,2108.2 230.26,2106.21 231.34,2104.21 232.42,2102.2 233.51,2100.17 234.59,2098.13 235.67,2096.09 236.75,2094.03 237.84,2091.96 238.92,2089.88 240,2087.79 241.09,2085.7 242.17,2083.59 243.25,2081.48 244.33,2079.36 245.42,2077.23 246.5,2075.09 247.58,2072.95 248.67,2070.8 249.75,2068.64 250.83,2066.48 251.91,2064.31 253,2062.14 254.08,2059.96 255.16,2057.78 256.25,2055.59 257.33,2053.4 258.41,2051.21 259.49,2049.01 260.58,2046.82 261.66,2044.62 262.74,2042.41 263.82,2040.21 264.91,2038 265.99,2035.8 267.07,2033.59 268.16,2031.39 269.24,2029.18 270.32,2026.98 271.4,2024.77 272.49,2022.57 273.57,2020.37 274.65,2018.17 275.74,2015.98 276.82,2013.78 277.9,2011.59 278.98,2009.41 280.07,2007.22 281.15,2005.05 282.23,2002.87 283.32,2000.7 284.4,1998.54 285.48,1996.38 286.56,1994.23 287.65,1992.08 288.73,1989.94 289.81,1987.81 290.9,1985.68 291.98,1983.57 293.06,1981.45 294.14,1979.35 295.23,1977.26 296.31,1975.17 297.39,1973.09 298.47,1971.02 299.56,1968.96 300.64,1966.92 301.72,1964.88 302.81,1962.85 303.89,1960.83 304.97,1958.82 306.05,1956.82 307.14,1954.84 308.22,1952.86 309.3,1950.9 310.39,1948.95 311.47,1947.01 312.55,1945.08 313.63,1943.16 314.72,1941.26 315.8,1939.37 316.88,1937.5 317.97,1935.63 319.05,1933.78 320.13,1931.95 321.21,1930.12 322.3,1928.32 323.38,1926.52 324.46,1924.74 325.55,1922.98 326.63,1921.22 327.71,1919.49 328.79,1917.77 329.88,1916.06 330.96,1914.37 332.04,1912.69 333.12,1911.03 334.21,1909.38 335.29,1907.75 336.37,1906.14 337.46,1904.54 338.54,1902.95 339.62,1901.38 340.7,1899.83 341.79,1898.29 342.87,1896.77 343.95,1895.27 345.04,1893.78 346.12,1892.31 347.2,1890.85 348.28,1889.41 349.37,1887.99 350.45,1886.58 351.53,1885.19 352.62,1883.81 353.7,1882.45 354.78,1881.11 355.86,1879.78 356.95,1878.47 358.03,1877.18 359.11,1875.9 360.2,1874.64 361.28,1873.39 362.36,1872.17 363.44,1870.95 364.53,1869.75 365.61,1868.57 366.69,1867.41 367.77,1866.26 368.86,1865.13 369.94,1864.01 371.02,1862.91 372.11,1861.82 373.19,1860.75 374.27,1859.7 375.35,1858.66 376.44,1857.63 377.52,1856.62 378.6,1855.63 379.69,1854.65 380.77,1853.69 381.85,1852.74 382.93,1851.81 384.02,1850.89 385.1,1849.98 386.18,1849.09 387.27,1848.22 388.35,1847.36 389.43,1846.51 390.51,1845.68 391.6,1844.86 392.68,1844.06 393.76,1843.27 394.85,1842.49 395.93,1841.73 397.01,1840.98 398.09,1840.24 399.18,1839.52 400.26,1838.81 401.34,1838.11 402.42,1837.42 403.51,1836.75 404.59,1836.09 405.67,1835.44 406.76,1834.81 407.84,1834.18 408.92,1833.57 410,1832.97 411.09,1832.39 412.17,1831.81 413.25,1831.24 414.34,1830.69 415.42,1830.15 416.5,1829.61 417.58,1829.09 418.67,1828.58 419.75,1828.08 420.83,1827.59 421.92,1827.11 423,1826.64 424.08,1826.18 425.16,1825.73 426.25,1825.29 427.33,1824.86 428.41,1824.44 429.5,1824.03 430.58,1823.63 431.66,1823.23 432.74,1822.85 433.83,1822.47 434.91,1822.1 435.99,1821.74 437.07,1821.39 438.16,1821.05 439.24,1820.71 440.32,1820.39 441.41,1820.07 442.49,1819.75 443.57,1819.45 444.65,1819.15 445.74,1818.86 446.82,1818.58 447.9,1818.3 448.99,1818.03 450.07,1817.77 451.15,1817.51 452.23,1817.26 453.32,1817.02 454.4,1816.78 455.48,1816.55 456.57,1816.32 457.65,1816.1 458.73,1815.89 459.81,1815.68 460.9,1815.47 461.98,1815.28 463.06,1815.08 464.15,1814.89 465.23,1814.71 466.31,1814.53 467.39,1814.36 468.48,1814.19 469.56,1814.03 470.64,1813.87 471.72,1813.71 472.81,1813.56 473.89,1813.42 474.97,1813.28 476.06,1813.14 477.14,1813 478.22,1812.87 479.3,1812.74 480.39,1812.62 481.47,1812.5 482.55,1812.39 483.64,1812.27 484.72,1812.16 485.8,1812.06 486.88,1811.95 487.97,1811.85 489.05,1811.76 490.13,1811.66 491.22,1811.57 492.3,1811.48 493.38,1811.4 494.46,1811.31 495.55,1811.23 496.63,1811.16 497.71,1811.08 498.8,1811.01 499.88,1810.94 500.96,1810.87 502.04,1810.8 503.13,1810.74 504.21,1810.67 505.29,1810.61 506.37,1810.56 507.46,1810.5 508.54,1810.44 509.62,1810.39 510.71,1810.34 511.79,1810.29 512.87,1810.24 513.95,1810.2 515.04,1810.15 516.12,1810.11 517.2,1810.07 518.29,1810.03 519.37,1809.99 520.45,1809.95 521.53,1809.91 522.62,1809.88 523.7,1809.85 524.78,1809.81 525.87,1809.78 526.95,1809.75 528.03,1809.72 529.11,1809.69 530.2,1809.67 531.28,1809.64 532.36,1809.61 533.45,1809.59 534.53,1809.57 535.61,1809.54 536.69,1809.52 537.78,1809.5 538.86,1809.48 539.94,1809.46" fill="none" stroke="#ff2a2a" stroke-width="1.25"/>
<polyline points="107.9,2214.5 108.77,2214.5 109.65,2214.5 110.52,2214.5 111.4,2214.5 112.27,2214.49 113.15,2214.49 114.02,2214.48 114.9,2214.48 115.77,2214.47 116.65,2214.46 117.52,2214.44 118.39,2214.42 119.27,2214.4 120.14,2214.37 121.02,2214.35 121.89,2214.31 122.77,2214.27 123.64,2214.23 124.52,2214.18 125.39,2214.13 126.27,2214.07 127.14,2214.01 128.02,2213.93 128.89,2213.86 129.76,2213.77 130.64,2213.68 131.51,2213.58 132.39,2213.47 133.26,2213.36 134.14,2213.23 135.01,2213.1 135.89,2212.96 136.76,2212.8 137.64,2212.64 138.51,2212.47 139.38,2212.29 140.26,2212.1 141.13,2211.9 142.01,2211.69 142.88,2211.46 143.76,2211.23 144.63,2210.98 145.51,2210.72 146.38,2210.44 147.26,2210.16 148.13,2209.86 149.01,2209.55 149.88,2209.22 150.75,2208.88 151.63,2208.53 152.5,2208.16 153.38,2207.78 154.25,2207.38 155.13,2206.97 156,2206.54 156.88,2206.1 157.75,2205.64 158.63,2205.16 159.5,2204.67 160.37,2204.16 161.25,2203.64 162.12,2203.09 163,2202.53 163.87,2201.95 164.75,2201.36 165.62,2200.74 166.5,2200.11 167.37,2199.46 168.25,2198.79 169.12,2198.1 170,2197.4 170.87,2196.67 171.74,2195.92 172.62,2195.16 173.49,2194.37 174.37,2193.56 175.24,2192.74 176.12,2191.89 176.99,2191.03 177.87,2190.14 178.74,2189.23 179.62,2188.3 180.49,2187.35 181.36,2186.38 182.24,2185.38 183.11,2184.37 183.99,2183.33 184.86,2182.28 185.74,2181.2 186.61,2180.1 187.49,2178.97 188.36,2177.83 189.24,2176.66 190.11,2175.47 190.99,2174.26 191.86,2173.03 192.73,2171.77 193.61,2170.49 194.48,2169.19 195.36,2167.87 196.23,2166.52 197.11,2165.16 197.98,2163.77 198.86,2162.36 199.73,2160.92 200.61,2159.47 201.48,2157.99 202.35,2156.49 203.23,2154.97 204.1,2153.42 204.98,2151.86 205.85,2150.27 206.73,2148.66 207.6,2147.03 208.48,2145.38 209.35,2143.7 210.23,2142.01 211.1,2140.29 211.97,2138.55 212.85,2136.8 213.72,2135.02 214.6,2133.22 215.47,2131.4 216.35,2129.56 217.22,2127.7 218.1,2125.83 218.97,2123.93 219.85,2122.01 220.72,2120.08 221.6,2118.12 222.47,2116.15 223.34,2114.16 224.22,2112.15 225.09,2110.13 225.97,2108.08 226.84,2106.02 227.72,2103.95 228.59,2101.85 229.47,2099.74 230.34,2097.62 231.22,2095.48 232.09,2093.33 232.96,2091.16 233.84,2088.97 234.71,2086.77 235.59,2084.56 236.46,2082.34 237.34,2080.1 238.21,2077.85 239.09,2075.59 239.96,2073.31 240.84,2071.03 241.71,2068.73 242.59,2066.43 243.46,2064.11 244.33,2061.79 245.21,2059.45 246.08,2057.11 246.96,2054.76 247.83,2052.4 248.71,2050.04 249.58,2047.66 250.46,2045.29 251.33,2042.9 252.21,2040.51 253.08,2038.12 253.95,2035.72 254.83,2033.31 255.7,2030.91 256.58,2028.5 257.45,2026.09 258.33,2023.67 259.2,2021.26 260.08,2018.84 260.95,2016.42 261.83,2014 262.7,2011.59 263.58,2009.17 264.45,2006.76 265.32,2004.35 266.2,2001.94 267.07,1999.53 267.95,1997.12 268.82,1994.72 269.7,1992.33 270.57,1989.94 271.45,1987.55 272.32,1985.17 273.2,1982.8 274.07,1980.43 274.94,1978.07 275.82,1975.72 276.69,1973.38 277.57,1971.04 278.44,1968.72 279.32,1966.4 280.19,1964.09 281.07,1961.8 281.94,1959.51 282.82,1957.23 283.69,1954.97 284.56,1952.72 285.44,1950.48 286.31,1948.26 287.19,1946.04 288.06,1943.84 288.94,1941.66 289.81,1939.49 290.69,1937.33 291.56,1935.19 292.44,1933.06 293.31,1930.95 294.19,1928.86 295.06,1926.78 295.93,1924.72 296.81,1922.67 297.68,1920.64 298.56,1918.63 299.43,1916.64 300.31,1914.67 301.18,1912.71 302.06,1910.77 302.93,1908.86 303.81,1906.96 304.68,1905.08 305.55,1903.22 306.43,1901.37 307.3,1899.55 308.18,1897.75 309.05,1895.97 309.93,1894.21 310.8,1892.47 311.68,1890.75 312.55,1889.05 313.43,1887.37 314.3,1885.72 315.18,1884.08 316.05,1882.46 316.92,1880.87 317.8,1879.3 318.67,1877.75 319.55,1876.22 320.42,1874.71 321.3,1873.22 322.17,1871.76 323.05,1870.32 323.92,1868.89 324.8,1867.49 325.67,1866.12 326.54,1864.76 327.42,1863.42 328.29,1862.11 329.17,1860.82 330.04,1859.55 330.92,1858.3 331.79,1857.07 332.67,1855.86 333.54,1854.67 334.42,1853.51 335.29,1852.36 336.17,1851.24 337.04,1850.14 337.91,1849.05 338.79,1847.99 339.66,1846.95 340.54,1845.93 341.41,1844.92 342.29,1843.94 343.16,1842.98 344.04,1842.04 344.91,1841.11 345.79,1840.21 346.66,1839.32 347.53,1838.46 348.41,1837.61 349.28,1836.78 350.16,1835.97 351.03,1835.17 351.91,1834.4 352.78,1833.64 353.66,1832.9 354.53,1832.17 355.41,1831.46 356.28,1830.77 357.15,1830.1 358.03,1829.44 358.9,1828.8 359.78,1828.18 360.65,1827.57 361.53,1826.97 362.4,1826.39 363.28,1825.82 364.15,1825.27 365.03,1824.74 365.9,1824.22 366.78,1823.71 367.65,1823.21 368.52,1822.73 369.4,1822.26 370.27,1821.81 371.15,1821.37 372.02,1820.94 372.9,1820.52 373.77,1820.11 374.65,1819.72 375.52,1819.34 376.4,1818.96 377.27,1818.6 378.14,1818.25 379.02,1817.91 379.89,1817.59 380.77,1817.27 381.64,1816.96 382.52,1816.66 383.39,1816.37 384.27,1816.09 385.14,1815.82 386.02,1815.55 386.89,1815.3 387.77,1815.05 388.64,1814.82 389.51,1814.59 390.39,1814.36 391.26,1814.15 392.14,1813.94 393.01,1813.74 393.89,1813.55 394.76,1813.36 395.64,1813.18 396.51,1813.01 397.39,1812.84 398.26,1812.68 399.13,1812.52 400.01,1812.37 400.88,1812.23 401.76,1812.09 402.63,1811.96 403.51,1811.83 404.38,1811.7 405.26,1811.58 406.13,1811.47 407.01,1811.36 407.88,1811.25 408.76,1811.15 409.63,1811.05 410.5,1810.96 411.38,1810.87 412.25,1810.78 413.13,1810.7 414,1810.62 414.88,1810.54 415.75,1810.47 416.63,1810.4 417.5,1810.33 418.38,1810.27 419.25,1810.21 420.12,1810.15 421,1810.09 421.87,1810.04 422.75,1809.99 423.62,1809.94 424.5,1809.89 425.37,1809.85 426.25,1809.8 427.12,1809.76 428,1809.73 428.87,1809.69 429.75,1809.65 430.62,1809.62 431.49,1809.59 432.37,1809.56 433.24,1809.53 434.12,1809.5 434.99,1809.47 435.87,1809.45 436.74,1809.42 437.62,1809.4 438.49,1809.38 439.37,1809.36 440.24,1809.34 441.11,1809.32 441.99,1809.3 442.86,1809.28 443.74,1809.27 444.61,1809.25 445.49,1809.24 446.36,1809.22 447.24,1809.21 448.11,1809.2 448.99,1809.19 449.86,1809.18 450.73,1809.17 451.61,1809.16 452.48,1809.15 453.36,1809.14 454.23,1809.13 455.11,1809.12 455.98,1809.12 456.86,1809.11" fill="none" stroke="#2a2aff" stroke-width="1.25"/>
<polyline points="107.9,2214.5 109.29,2214.5 110.68,2214.5 112.06,2214.5 113.45,2214.49 114.84,2214.48 116.23,2214.46 117.62,2214.44 119.01,2214.41 120.39,2214.38 121.78,2214.33 123.17,2214.27 124.56,2214.21 125.95,2214.13 127.34,2214.03 128.72,2213.93 130.11,2213.8 131.5,2213.66 132.89,2213.51 134.28,2213.33 135.66,2213.13 137.05,2212.92 138.44,2212.68 139.83,2212.42 141.22,2212.14 142.61,2211.83 143.99,2211.49 145.38,2211.13 146.77,2210.75 148.16,2210.33 149.55,2209.88 150.93,2209.41 152.32,2208.9 153.71,2208.36 155.1,2207.78 156.49,2207.17 157.88,2206.53 159.26,2205.85 160.65,2205.14 162.04,2204.38 163.43,2203.59 164.82,2202.76 166.21,2201.89 167.59,2200.98 168.98,2200.02 170.37,2199.03 171.76,2197.99 173.15,2196.91 174.53,2195.78 175.92,2194.61 177.31,2193.39 178.7,2192.13 180.09,2190.82 181.48,2189.47 182.86,2188.06 184.25,2186.61 185.64,2185.11 187.03,2183.57 188.42,2181.97 189.81,2180.32 191.19,2178.63 192.58,2176.88 193.97,2175.08 195.36,2173.24 196.75,2171.34 198.13,2169.4 199.52,2167.4 200.91,2165.35 202.3,2163.25 203.69,2161.11 205.08,2158.91 206.46,2156.66 207.85,2154.36 209.24,2152.02 210.63,2149.62 212.02,2147.18 213.4,2144.68 214.79,2142.14 216.18,2139.56 217.57,2136.92 218.96,2134.24 220.35,2131.51 221.73,2128.74 223.12,2125.93 224.51,2123.07 225.9,2120.16 227.29,2117.22 228.68,2114.23 230.06,2111.21 231.45,2108.14 232.84,2105.04 234.23,2101.9 235.62,2098.73 237,2095.52 238.39,2092.28 239.78,2089 241.17,2085.69 242.56,2082.36 243.95,2078.99 245.33,2075.6 246.72,2072.18 248.11,2068.74 249.5,2065.27 250.89,2061.78 252.27,2058.28 253.66,2054.75 255.05,2051.21 256.44,2047.65 257.83,2044.08 259.22,2040.49 260.6,2036.9 261.99,2033.29 263.38,2029.68 264.77,2026.06 266.16,2022.44 267.55,2018.82 268.93,2015.19 270.32,2011.57 271.71,2007.94 273.1,2004.32 274.49,2000.71 275.87,1997.11 277.26,1993.51 278.65,1989.92 280.04,1986.35 281.43,1982.79 282.82,1979.25 284.2,1975.72 285.59,1972.21 286.98,1968.72 288.37,1965.25 289.76,1961.81 291.15,1958.39 292.53,1954.99 293.92,1951.62 295.31,1948.29 296.7,1944.98 298.09,1941.7 299.47,1938.45 300.86,1935.24 302.25,1932.06 303.64,1928.92 305.03,1925.81 306.42,1922.74 307.8,1919.71 309.19,1916.72 310.58,1913.77 311.97,1910.86 313.36,1908 314.74,1905.18 316.13,1902.4 317.52,1899.66 318.91,1896.97 320.3,1894.33 321.69,1891.73 323.07,1889.18 324.46,1886.67 325.85,1884.22 327.24,1881.81 328.63,1879.44 330.02,1877.13 331.4,1874.86 332.79,1872.64 334.18,1870.47 335.57,1868.35 336.96,1866.28 338.34,1864.26 339.73,1862.28 341.12,1860.35 342.51,1858.47 343.9,1856.64 345.29,1854.85 346.67,1853.11 348.06,1851.42 349.45,1849.77 350.84,1848.17 352.23,1846.62 353.62,1845.11 355,1843.64 356.39,1842.22 357.78,1840.84 359.17,1839.5 360.56,1838.21 361.94,1836.96 363.33,1835.75 364.72,1834.57 366.11,1833.44 367.5,1832.35 368.89,1831.29 370.27,1830.27 371.66,1829.29 373.05,1828.34 374.44,1827.43 375.83,1826.55 377.21,1825.71 378.6,1824.9 379.99,1824.12 381.38,1823.37 382.77,1822.65 384.16,1821.96 385.54,1821.29 386.93,1820.66 388.32,1820.05 389.71,1819.47 391.1,1818.91 392.49,1818.38 393.87,1817.87 395.26,1817.39 396.65,1816.93 398.04,1816.48 399.43,1816.06 400.81,1815.66 402.2,1815.28 403.59,1814.92 404.98,1814.57 406.37,1814.24 407.76,1813.93 409.14,1813.64 410.53,1813.36 411.92,1813.09 413.31,1812.84 414.7,1812.6 416.08,1812.37 417.47,1812.16 418.86,1811.96 420.25,1811.77 421.64,1811.59 423.03,1811.42 424.41,1811.26 425.8,1811.11 427.19,1810.97 428.58,1810.83 429.97,1810.71 431.36,1810.59 432.74,1810.48 434.13,1810.38 435.52,1810.28 436.91,1810.19 438.3,1810.1 439.68,1810.02 441.07,1809.95 442.46,1809.88 443.85,1809.81 445.24,1809.75 446.63,1809.7 448.01,1809.64 449.4,1809.59 450.79,1809.55 452.18,1809.51 453.57,1809.47 454.96,1809.43 456.34,1809.39 457.73,1809.36 459.12,1809.33 460.51,1809.31 461.9,1809.28 463.28,1809.26 464.67,1809.24 466.06,1809.22 467.45,1809.2 468.84,1809.18 470.23,1809.17 471.61,1809.15 473,1809.14 474.39,1809.13 475.78,1809.11 477.17,1809.1 478.55,1809.1 479.94,1809.09 481.33,1809.08 482.72,1809.07 484.11,1809.06 485.5,1809.06 486.88,1809.05 488.27,1809.05 489.66,1809.04 491.05,1809.04 492.44,1809.04 493.83,1809.03 495.21,1809.03 496.6,1809.03 497.99,1809.02 499.38,1809.02 500.77,1809.02 502.15,1809.02 503.54,1809.02 504.93,1809.01 506.32,1809.01 507.71,1809.01 509.1,1809.01 510.48,1809.01 511.87,1809.01 513.26,1809.01 514.65,1809.01 516.04,1809.01 517.43,1809.01 518.81,1809 520.2,1809 521.59,1809 522.98,1809 524.37,1809 525.75,1809 527.14,1809 528.53,1809 529.92,1809 531.31,1809 532.7,1809 534.08,1809 535.47,1809 536.86,1809 538.25,1809 539.64,1809 541.02,1809 542.41,1809 543.8,1809 545.19,1809 546.58,1809 547.97,1809 549.35,1809 550.74,1809 552.13,1809 553.52,1809 554.91,1809 556.3,1809 557.68,1809 559.07,1809 560.46,1809 561.85,1809 563.24,1809 564.62,1809 566.01,1809 567.4,1809 568.79,1809 570.18,1809 571.57,1809 572.95,1809 574.34,1809 575.73,1809 577.12,1809 578.51,1809 579.89,1809 581.28,1809 582.67,1809 584.06,1809 585.45,1809 586.84,1809 588.22,1809 589.61,1809 591,1809 592.39,1809 593.78,1809 595.17,1809 596.55,1809 597.94,1809 599.33,1809 600.72,1809 602.11,1809 603.49,1809 604.88,1809 606.27,1809 607.66,1809 609.05,1809 610.44,1809 611.82,1809 613.21,1809 614.6,1809 615.99,1809 617.38,1809 618.77,1809 620.15,1809 621.54,1809 622.93,1809 624.32,1809 625.71,1809 627.09,1809 628.48,1809 629.87,1809 631.26,1809 632.65,1809 634.04,1809 635.42,1809 636.81,1809 638.2,1809 639.59,1809 640.98,1809 642.36,1809 643.75,1809 645.14,1809 646.53,1809 647.92,1809 649.31,1809 650.69,1809 652.08,1809 653.47,1809 654.86,1809 656.25,1809 657.64,1809 659.02,1809 660.41,1809 661.8,1809" fill="none" stroke="#2aff2a" stroke-width="1.25"/>
</g>
<g style="font-family:'Liberation Sans',Arial,sans-serif;font-size:23px" fill="#1a1a1a">
<text x="93.4" y="2222.7" text-anchor="end">0</text>
<text x="93.4" y="2141.6" text-anchor="end">20</text>
<text x="93.4" y="2060.5" text-anchor="end">40</text>
<text x="93.4" y="1979.4" text-anchor="end">60</text>
<text x="93.4" y="1898.3" text-anchor="end">80</text>
<text x="93.4" y="1817.2" text-anchor="end">100</text>
<text x="107.9" y="2249" text-anchor="middle">0</text>
<text x="329.46" y="2249" text-anchor="middle">2</text>
<text x="551.02" y="2249" text-anchor="middle">4</text>
<text transform="translate(45.1,1991.47) rotate(-90)" text-anchor="middle" style="font-size:26px">Q3 (%)</text>
<text x="385.25" y="2289.95" text-anchor="middle" style="font-size:25px;letter-spacing:0.3px">x (mm)</text>
</g>
<rect x="521.6" y="2079.6" width="146.1" height="117.8" fill="#fff" stroke="#666" stroke-width="1.2"/>
<g style="font-family:'Liberation Sans',Arial,sans-serif;font-size:22.5px" fill="#1a1a1a">
<rect x="544.4" y="2090.2" width="10" height="10" fill="#000000"/>
<text x="582.1" y="2102.7">conf 4.1</text>
<rect x="544.4" y="2118.8" width="10" height="10" fill="#ff0000"/>
<text x="582.1" y="2131.3">conf 4.2</text>
<rect x="544.4" y="2147.4" width="10" height="10" fill="#0000ff"/>
<text x="582.1" y="2159.9">conf 4.3</text>
<rect x="544.4" y="2176" width="10" height="10" fill="#00ff00"/>
<text x="582.1" y="2188.5">conf 4.4</text>
</g>
<g stroke="#1a1a1a" stroke-width="1.5" fill="none">
<line x1="970.1" y1="2217.55" x2="970.1" y2="1752.6"/>
<line x1="962.1" y1="2217.55" x2="1544.7" y2="2217.55"/>
<line x1="962.1" y1="2217.55" x2="970.1" y2="2217.55"/>
<line x1="962.1" y1="2135.82" x2="970.1" y2="2135.82"/>
<line x1="962.1" y1="2054.09" x2="970.1" y2="2054.09"/>
<line x1="962.1" y1="1972.36" x2="970.1" y2="1972.36"/>
<line x1="962.1" y1="1890.63" x2="970.1" y2="1890.63"/>
<line x1="962.1" y1="1808.9" x2="970.1" y2="1808.9"/>
<line x1="966.1" y1="2176.69" x2="970.1" y2="2176.69"/>
<line x1="966.1" y1="2094.96" x2="970.1" y2="2094.96"/>
<line x1="966.1" y1="2013.23" x2="970.1" y2="2013.23"/>
<line x1="966.1" y1="1931.5" x2="970.1" y2="1931.5"/>
<line x1="966.1" y1="1849.77" x2="970.1" y2="1849.77"/>
<line x1="966.1" y1="1768.04" x2="970.1" y2="1768.04"/>
<line x1="970.1" y1="2217.55" x2="970.1" y2="2226.05"/>
<line x1="1249.3" y1="2217.55" x2="1249.3" y2="2226.05"/>
<line x1="1528.5" y1="2217.55" x2="1528.5" y2="2226.05"/>
<line x1="1109.7" y1="2217.55" x2="1109.7" y2="2222.05"/>
<line x1="1388.9" y1="2217.55" x2="1388.9" y2="2222.05"/>
</g>
<path d="M970.1,1747 L975.6,1758.4 L970.1,1755 L964.6,1758.4 Z" fill="#1a1a1a" stroke="#1a1a1a" stroke-width="0.8" stroke-linejoin="round"/>
<path d="M1550.3,2217.55 L1538.9,2212.05 L1542.3,2217.55 L1538.9,2223.05 Z" fill="#1a1a1a" stroke="#1a1a1a" stroke-width="0.8" stroke-linejoin="round"/>
<clipPath id="cP8"><rect x="970.1" y="1759.86" width="558.4" height="458.69"/></clipPath>
<g clip-path="url(#cP8)">
<rect x="1049.26" y="2206.82" width="9.2" height="9.2" fill="#000000"/>
<rect x="1064.62" y="2203.14" width="9.2" height="9.2" fill="#000000"/>
<rect x="1084.16" y="2198.24" width="9.2" height="9.2" fill="#000000"/>
<rect x="1105.1" y="2190.23" width="9.2" height="9.2" fill="#000000"/>
<rect x="1130.23" y="2178.01" width="9.2" height="9.2" fill="#000000"/>
<rect x="1160.94" y="2147.4" width="9.2" height="9.2" fill="#000000"/>
<rect x="1202.82" y="2051.86" width="9.2" height="9.2" fill="#000000"/>
<rect x="1244.7" y="1898.37" width="9.2" height="9.2" fill="#000000"/>
<rect x="1294.96" y="1807.57" width="9.2" height="9.2" fill="#000000"/>
<rect x="1356.38" y="1805.73" width="9.2" height="9.2" fill="#000000"/>
<rect x="1024.83" y="2209.68" width="9.2" height="9.2" fill="#ff0000"/>
<rect x="1035.3" y="2207.64" width="9.2" height="9.2" fill="#ff0000"/>
<rect x="1049.26" y="2203.96" width="9.2" height="9.2" fill="#ff0000"/>
<rect x="1064.62" y="2198.81" width="9.2" height="9.2" fill="#ff0000"/>
<rect x="1084.16" y="2191.29" width="9.2" height="9.2" fill="#ff0000"/>
<rect x="1105.1" y="2177.19" width="9.2" height="9.2" fill="#ff0000"/>
<rect x="1130.23" y="2157.17" width="9.2" height="9.2" fill="#ff0000"/>
<rect x="1160.94" y="2116.35" width="9.2" height="9.2" fill="#ff0000"/>
<rect x="1202.82" y="2010.63" width="9.2" height="9.2" fill="#ff0000"/>
<rect x="1244.7" y="1871.44" width="9.2" height="9.2" fill="#ff0000"/>
<rect x="1294.96" y="1807.36" width="9.2" height="9.2" fill="#ff0000"/>
<rect x="1356.38" y="1804.91" width="9.2" height="9.2" fill="#ff0000"/>
<rect x="1015.06" y="2205.19" width="9.2" height="9.2" fill="#0000ff"/>
<rect x="1024.83" y="2201.1" width="9.2" height="9.2" fill="#0000ff"/>
<rect x="1035.3" y="2195.79" width="9.2" height="9.2" fill="#0000ff"/>
<rect x="1049.26" y="2189.66" width="9.2" height="9.2" fill="#0000ff"/>
<rect x="1064.62" y="2180.46" width="9.2" height="9.2" fill="#0000ff"/>
<rect x="1084.16" y="2164.93" width="9.2" height="9.2" fill="#0000ff"/>
<rect x="1105.1" y="2141.68" width="9.2" height="9.2" fill="#0000ff"/>
<rect x="1130.23" y="2109.44" width="9.2" height="9.2" fill="#0000ff"/>
<rect x="1160.94" y="2053.09" width="9.2" height="9.2" fill="#0000ff"/>
<rect x="1202.82" y="1942.46" width="9.2" height="9.2" fill="#0000ff"/>
<rect x="1244.7" y="1837.97" width="9.2" height="9.2" fill="#0000ff"/>
<rect x="1294.96" y="1802.67" width="9.2" height="9.2" fill="#0000ff"/>
<rect x="1356.38" y="1804.5" width="9.2" height="9.2" fill="#0000ff"/>
<rect x="968.29" y="2212.95" width="9.2" height="9.2" fill="#00ff00"/>
<rect x="968.99" y="2212.95" width="9.2" height="9.2" fill="#00ff00"/>
<rect x="969.97" y="2212.95" width="9.2" height="9.2" fill="#00ff00"/>
<rect x="970.8" y="2212.95" width="9.2" height="9.2" fill="#00ff00"/>
<rect x="971.78" y="2212.95" width="9.2" height="9.2" fill="#00ff00"/>
<rect x="972.9" y="2212.95" width="9.2" height="9.2" fill="#00ff00"/>
<rect x="974.29" y="2212.95" width="9.2" height="9.2" fill="#00ff00"/>
<rect x="975.97" y="2212.95" width="9.2" height="9.2" fill="#00ff00"/>
<rect x="978.06" y="2212.95" width="9.2" height="9.2" fill="#00ff00"/>
<rect x="980.3" y="2212.95" width="9.2" height="9.2" fill="#00ff00"/>
<rect x="982.95" y="2211.11" width="9.2" height="9.2" fill="#00ff00"/>
<rect x="986.44" y="2211.11" width="9.2" height="9.2" fill="#00ff00"/>
<rect x="990.63" y="2211.11" width="9.2" height="9.2" fill="#00ff00"/>
<rect x="995.1" y="2209.39" width="9.2" height="9.2" fill="#00ff00"/>
<rect x="1000.4" y="2209.39" width="9.2" height="9.2" fill="#00ff00"/>
<rect x="1007.38" y="2206.41" width="9.2" height="9.2" fill="#00ff00"/>
<rect x="1015.06" y="2203.14" width="9.2" height="9.2" fill="#00ff00"/>
<rect x="1024.83" y="2198.65" width="9.2" height="9.2" fill="#00ff00"/>
<rect x="1035.3" y="2192.52" width="9.2" height="9.2" fill="#00ff00"/>
<rect x="1049.26" y="2181.89" width="9.2" height="9.2" fill="#00ff00"/>
<rect x="1064.62" y="2169.63" width="9.2" height="9.2" fill="#00ff00"/>
<rect x="1084.16" y="2148.63" width="9.2" height="9.2" fill="#00ff00"/>
<rect x="1105.1" y="2123.7" width="9.2" height="9.2" fill="#00ff00"/>
<rect x="1130.23" y="2084.1" width="9.2" height="9.2" fill="#00ff00"/>
<rect x="1160.94" y="2017.57" width="9.2" height="9.2" fill="#00ff00"/>
<rect x="1202.82" y="1907.36" width="9.2" height="9.2" fill="#00ff00"/>
<rect x="1244.7" y="1826.12" width="9.2" height="9.2" fill="#00ff00"/>
<rect x="1294.96" y="1804.71" width="9.2" height="9.2" fill="#00ff00"/>
<rect x="1356.38" y="1804.5" width="9.2" height="9.2" fill="#00ff00"/>
<rect x="1433.16" y="1804.5" width="9.2" height="9.2" fill="#00ff00"/>
<rect x="1523.9" y="1804.5" width="9.2" height="9.2" fill="#00ff00"/>
<polyline points="970.1,2217.55 971.08,2217.55 972.06,2217.55 973.04,2217.55 974.02,2217.55 975,2217.55 975.98,2217.55 976.96,2217.55 977.94,2217.55 978.92,2217.55 979.9,2217.55 980.88,2217.55 981.86,2217.55 982.84,2217.55 983.82,2217.55 984.79,2217.55 985.77,2217.55 986.75,2217.55 987.73,2217.55 988.71,2217.55 989.69,2217.55 990.67,2217.55 991.65,2217.55 992.63,2217.55 993.61,2217.55 994.59,2217.55 995.57,2217.55 996.55,2217.55 997.53,2217.55 998.51,2217.55 999.49,2217.55 1000.47,2217.55 1001.45,2217.55 1002.43,2217.55 1003.41,2217.55 1004.39,2217.55 1005.37,2217.55 1006.35,2217.55 1007.33,2217.55 1008.31,2217.55 1009.29,2217.54 1010.27,2217.54 1011.25,2217.54 1012.22,2217.54 1013.2,2217.54 1014.18,2217.54 1015.16,2217.54 1016.14,2217.54 1017.12,2217.53 1018.1,2217.53 1019.08,2217.53 1020.06,2217.53 1021.04,2217.52 1022.02,2217.52 1023,2217.52 1023.98,2217.51 1024.96,2217.51 1025.94,2217.5 1026.92,2217.5 1027.9,2217.49 1028.88,2217.49 1029.86,2217.48 1030.84,2217.48 1031.82,2217.47 1032.8,2217.46 1033.78,2217.45 1034.76,2217.44 1035.74,2217.43 1036.72,2217.42 1037.7,2217.41 1038.68,2217.4 1039.66,2217.38 1040.63,2217.37 1041.61,2217.35 1042.59,2217.34 1043.57,2217.32 1044.55,2217.3 1045.53,2217.28 1046.51,2217.26 1047.49,2217.24 1048.47,2217.22 1049.45,2217.19 1050.43,2217.16 1051.41,2217.13 1052.39,2217.1 1053.37,2217.07 1054.35,2217.04 1055.33,2217 1056.31,2216.97 1057.29,2216.92 1058.27,2216.88 1059.25,2216.84 1060.23,2216.79 1061.21,2216.74 1062.19,2216.69 1063.17,2216.63 1064.15,2216.58 1065.13,2216.51 1066.11,2216.45 1067.09,2216.38 1068.06,2216.31 1069.04,2216.24 1070.02,2216.16 1071,2216.08 1071.98,2215.99 1072.96,2215.9 1073.94,2215.81 1074.92,2215.71 1075.9,2215.61 1076.88,2215.5 1077.86,2215.39 1078.84,2215.27 1079.82,2215.15 1080.8,2215.02 1081.78,2214.88 1082.76,2214.75 1083.74,2214.6 1084.72,2214.45 1085.7,2214.29 1086.68,2214.12 1087.66,2213.95 1088.64,2213.77 1089.62,2213.59 1090.6,2213.4 1091.58,2213.19 1092.56,2212.99 1093.54,2212.77 1094.52,2212.54 1095.5,2212.31 1096.47,2212.06 1097.45,2211.81 1098.43,2211.55 1099.41,2211.28 1100.39,2211 1101.37,2210.7 1102.35,2210.4 1103.33,2210.09 1104.31,2209.76 1105.29,2209.43 1106.27,2209.08 1107.25,2208.72 1108.23,2208.35 1109.21,2207.96 1110.19,2207.56 1111.17,2207.15 1112.15,2206.73 1113.13,2206.29 1114.11,2205.84 1115.09,2205.37 1116.07,2204.88 1117.05,2204.39 1118.03,2203.87 1119.01,2203.34 1119.99,2202.79 1120.97,2202.23 1121.95,2201.65 1122.93,2201.05 1123.9,2200.43 1124.88,2199.8 1125.86,2199.14 1126.84,2198.47 1127.82,2197.77 1128.8,2197.06 1129.78,2196.33 1130.76,2195.57 1131.74,2194.8 1132.72,2194 1133.7,2193.18 1134.68,2192.34 1135.66,2191.48 1136.64,2190.59 1137.62,2189.68 1138.6,2188.74 1139.58,2187.78 1140.56,2186.8 1141.54,2185.79 1142.52,2184.75 1143.5,2183.69 1144.48,2182.6 1145.46,2181.49 1146.44,2180.35 1147.42,2179.18 1148.4,2177.98 1149.38,2176.75 1150.36,2175.5 1151.34,2174.21 1152.31,2172.9 1153.29,2171.56 1154.27,2170.18 1155.25,2168.78 1156.23,2167.34 1157.21,2165.88 1158.19,2164.38 1159.17,2162.85 1160.15,2161.28 1161.13,2159.69 1162.11,2158.06 1163.09,2156.4 1164.07,2154.71 1165.05,2152.98 1166.03,2151.21 1167.01,2149.42 1167.99,2147.59 1168.97,2145.72 1169.95,2143.82 1170.93,2141.89 1171.91,2139.92 1172.89,2137.92 1173.87,2135.88 1174.85,2133.8 1175.83,2131.69 1176.81,2129.55 1177.79,2127.37 1178.77,2125.15 1179.74,2122.9 1180.72,2120.62 1181.7,2118.3 1182.68,2115.94 1183.66,2113.55 1184.64,2111.12 1185.62,2108.66 1186.6,2106.17 1187.58,2103.64 1188.56,2101.08 1189.54,2098.48 1190.52,2095.85 1191.5,2093.19 1192.48,2090.49 1193.46,2087.77 1194.44,2085.01 1195.42,2082.22 1196.4,2079.4 1197.38,2076.55 1198.36,2073.67 1199.34,2070.76 1200.32,2067.83 1201.3,2064.86 1202.28,2061.87 1203.26,2058.86 1204.24,2055.81 1205.22,2052.75 1206.2,2049.66 1207.18,2046.54 1208.15,2043.41 1209.13,2040.26 1210.11,2037.08 1211.09,2033.89 1212.07,2030.67 1213.05,2027.45 1214.03,2024.2 1215.01,2020.94 1215.99,2017.67 1216.97,2014.39 1217.95,2011.09 1218.93,2007.79 1219.91,2004.48 1220.89,2001.16 1221.87,1997.83 1222.85,1994.5 1223.83,1991.17 1224.81,1987.83 1225.79,1984.5 1226.77,1981.16 1227.75,1977.83 1228.73,1974.51 1229.71,1971.18 1230.69,1967.87 1231.67,1964.56 1232.65,1961.27 1233.63,1957.98 1234.61,1954.71 1235.58,1951.45 1236.56,1948.21 1237.54,1944.98 1238.52,1941.78 1239.5,1938.59 1240.48,1935.42 1241.46,1932.28 1242.44,1929.16 1243.42,1926.07 1244.4,1923.01 1245.38,1919.97 1246.36,1916.96 1247.34,1913.99 1248.32,1911.05 1249.3,1908.14 1250.28,1905.26 1251.26,1902.43 1252.24,1899.62 1253.22,1896.86 1254.2,1894.14 1255.18,1891.46 1256.16,1888.81 1257.14,1886.21 1258.12,1883.66 1259.1,1881.15 1260.08,1878.68 1261.06,1876.26 1262.04,1873.88 1263.02,1871.55 1263.99,1869.27 1264.97,1867.03 1265.95,1864.85 1266.93,1862.71 1267.91,1860.62 1268.89,1858.58 1269.87,1856.59 1270.85,1854.65 1271.83,1852.76 1272.81,1850.92 1273.79,1849.13 1274.77,1847.39 1275.75,1845.7 1276.73,1844.06 1277.71,1842.47 1278.69,1840.93 1279.67,1839.43 1280.65,1837.98 1281.63,1836.58 1282.61,1835.23 1283.59,1833.93 1284.57,1832.67 1285.55,1831.46 1286.53,1830.29 1287.51,1829.16 1288.49,1828.08 1289.47,1827.04 1290.45,1826.05 1291.42,1825.09 1292.4,1824.18 1293.38,1823.3 1294.36,1822.46 1295.34,1821.66 1296.32,1820.9 1297.3,1820.17 1298.28,1819.48 1299.26,1818.82 1300.24,1818.19 1301.22,1817.59 1302.2,1817.03 1303.18,1816.49 1304.16,1815.98 1305.14,1815.5 1306.12,1815.05 1307.1,1814.62 1308.08,1814.21 1309.06,1813.83 1310.04,1813.47 1311.02,1813.14 1312,1812.82 1312.98,1812.52 1313.96,1812.25 1314.94,1811.99 1315.92,1811.74 1316.9,1811.52 1317.88,1811.31 1318.86,1811.11 1319.83,1810.92 1320.81,1810.75 1321.79,1810.6 1322.77,1810.45 1323.75,1810.31 1324.73,1810.19 1325.71,1810.07 1326.69,1809.97 1327.67,1809.87 1328.65,1809.78 1329.63,1809.7 1330.61,1809.62 1331.59,1809.55 1332.57,1809.49 1333.55,1809.43 1334.53,1809.38 1335.51,1809.33 1336.49,1809.28 1337.47,1809.24 1338.45,1809.21 1339.43,1809.17 1340.41,1809.14 1341.39,1809.12 1342.37,1809.09 1343.35,1809.07 1344.33,1809.05 1345.31,1809.03 1346.29,1809.02 1347.26,1809.01 1348.24,1808.99 1349.22,1808.98 1350.2,1808.97 1351.18,1808.96 1352.16,1808.95 1353.14,1808.95 1354.12,1808.94 1355.1,1808.94 1356.08,1808.93 1357.06,1808.93 1358.04,1808.92 1359.02,1808.92 1360,1808.92 1360.98,1808.92" fill="none" stroke="#2a2a2a" stroke-width="1.25"/>
<polyline points="970.1,2217.55 971.08,2217.55 972.06,2217.55 973.04,2217.55 974.02,2217.55 975,2217.55 975.98,2217.55 976.96,2217.55 977.94,2217.55 978.92,2217.55 979.9,2217.55 980.88,2217.55 981.86,2217.55 982.84,2217.55 983.82,2217.55 984.79,2217.55 985.77,2217.55 986.75,2217.55 987.73,2217.55 988.71,2217.55 989.69,2217.55 990.67,2217.55 991.65,2217.55 992.63,2217.55 993.61,2217.55 994.59,2217.55 995.57,2217.54 996.55,2217.54 997.53,2217.54 998.51,2217.54 999.49,2217.54 1000.47,2217.54 1001.45,2217.53 1002.43,2217.53 1003.41,2217.53 1004.39,2217.53 1005.37,2217.52 1006.35,2217.52 1007.33,2217.51 1008.31,2217.51 1009.29,2217.5 1010.27,2217.5 1011.25,2217.49 1012.22,2217.48 1013.2,2217.48 1014.18,2217.47 1015.16,2217.46 1016.14,2217.45 1017.12,2217.44 1018.1,2217.43 1019.08,2217.41 1020.06,2217.4 1021.04,2217.38 1022.02,2217.37 1023,2217.35 1023.98,2217.33 1024.96,2217.31 1025.94,2217.29 1026.92,2217.27 1027.9,2217.24 1028.88,2217.22 1029.86,2217.19 1030.84,2217.16 1031.82,2217.13 1032.8,2217.09 1033.78,2217.06 1034.76,2217.02 1035.74,2216.98 1036.72,2216.94 1037.7,2216.89 1038.68,2216.84 1039.66,2216.79 1040.63,2216.74 1041.61,2216.68 1042.59,2216.62 1043.57,2216.56 1044.55,2216.49 1045.53,2216.42 1046.51,2216.35 1047.49,2216.27 1048.47,2216.19 1049.45,2216.11 1050.43,2216.02 1051.41,2215.92 1052.39,2215.83 1053.37,2215.72 1054.35,2215.62 1055.33,2215.5 1056.31,2215.39 1057.29,2215.26 1058.27,2215.14 1059.25,2215 1060.23,2214.86 1061.21,2214.72 1062.19,2214.57 1063.17,2214.41 1064.15,2214.25 1065.13,2214.07 1066.11,2213.9 1067.09,2213.71 1068.06,2213.52 1069.04,2213.32 1070.02,2213.11 1071,2212.9 1071.98,2212.67 1072.96,2212.44 1073.94,2212.2 1074.92,2211.95 1075.9,2211.69 1076.88,2211.42 1077.86,2211.15 1078.84,2210.86 1079.82,2210.56 1080.8,2210.25 1081.78,2209.94 1082.76,2209.61 1083.74,2209.27 1084.72,2208.92 1085.7,2208.55 1086.68,2208.18 1087.66,2207.79 1088.64,2207.39 1089.62,2206.98 1090.6,2206.56 1091.58,2206.12 1092.56,2205.67 1093.54,2205.2 1094.52,2204.73 1095.5,2204.23 1096.47,2203.73 1097.45,2203.2 1098.43,2202.67 1099.41,2202.11 1100.39,2201.54 1101.37,2200.96 1102.35,2200.36 1103.33,2199.74 1104.31,2199.11 1105.29,2198.46 1106.27,2197.79 1107.25,2197.1 1108.23,2196.39 1109.21,2195.67 1110.19,2194.93 1111.17,2194.17 1112.15,2193.39 1113.13,2192.59 1114.11,2191.77 1115.09,2190.93 1116.07,2190.07 1117.05,2189.19 1118.03,2188.29 1119.01,2187.36 1119.99,2186.42 1120.97,2185.45 1121.95,2184.46 1122.93,2183.45 1123.9,2182.42 1124.88,2181.36 1125.86,2180.28 1126.84,2179.18 1127.82,2178.05 1128.8,2176.9 1129.78,2175.72 1130.76,2174.52 1131.74,2173.3 1132.72,2172.05 1133.7,2170.77 1134.68,2169.47 1135.66,2168.15 1136.64,2166.8 1137.62,2165.42 1138.6,2164.01 1139.58,2162.58 1140.56,2161.13 1141.54,2159.64 1142.52,2158.13 1143.5,2156.6 1144.48,2155.03 1145.46,2153.44 1146.44,2151.82 1147.42,2150.17 1148.4,2148.5 1149.38,2146.8 1150.36,2145.07 1151.34,2143.31 1152.31,2141.52 1153.29,2139.71 1154.27,2137.87 1155.25,2136 1156.23,2134.1 1157.21,2132.18 1158.19,2130.23 1159.17,2128.25 1160.15,2126.24 1161.13,2124.2 1162.11,2122.14 1163.09,2120.05 1164.07,2117.93 1165.05,2115.78 1166.03,2113.61 1167.01,2111.41 1167.99,2109.19 1168.97,2106.94 1169.95,2104.66 1170.93,2102.35 1171.91,2100.02 1172.89,2097.67 1173.87,2095.29 1174.85,2092.88 1175.83,2090.45 1176.81,2088 1177.79,2085.52 1178.77,2083.02 1179.74,2080.5 1180.72,2077.95 1181.7,2075.39 1182.68,2072.8 1183.66,2070.19 1184.64,2067.56 1185.62,2064.91 1186.6,2062.24 1187.58,2059.55 1188.56,2056.84 1189.54,2054.12 1190.52,2051.38 1191.5,2048.62 1192.48,2045.85 1193.46,2043.06 1194.44,2040.26 1195.42,2037.44 1196.4,2034.61 1197.38,2031.77 1198.36,2028.92 1199.34,2026.06 1200.32,2023.18 1201.3,2020.3 1202.28,2017.41 1203.26,2014.52 1204.24,2011.61 1205.22,2008.7 1206.2,2005.79 1207.18,2002.87 1208.15,1999.95 1209.13,1997.03 1210.11,1994.1 1211.09,1991.18 1212.07,1988.26 1213.05,1985.33 1214.03,1982.42 1215.01,1979.5 1215.99,1976.59 1216.97,1973.68 1217.95,1970.78 1218.93,1967.89 1219.91,1965.01 1220.89,1962.13 1221.87,1959.27 1222.85,1956.41 1223.83,1953.57 1224.81,1950.74 1225.79,1947.93 1226.77,1945.13 1227.75,1942.35 1228.73,1939.58 1229.71,1936.83 1230.69,1934.1 1231.67,1931.39 1232.65,1928.7 1233.63,1926.02 1234.61,1923.38 1235.58,1920.75 1236.56,1918.15 1237.54,1915.57 1238.52,1913.02 1239.5,1910.49 1240.48,1907.99 1241.46,1905.52 1242.44,1903.08 1243.42,1900.66 1244.4,1898.27 1245.38,1895.92 1246.36,1893.59 1247.34,1891.3 1248.32,1889.03 1249.3,1886.8 1250.28,1884.6 1251.26,1882.44 1252.24,1880.31 1253.22,1878.21 1254.2,1876.15 1255.18,1874.12 1256.16,1872.13 1257.14,1870.17 1258.12,1868.25 1259.1,1866.36 1260.08,1864.51 1261.06,1862.7 1262.04,1860.92 1263.02,1859.18 1263.99,1857.48 1264.97,1855.81 1265.95,1854.18 1266.93,1852.59 1267.91,1851.03 1268.89,1849.51 1269.87,1848.02 1270.85,1846.58 1271.83,1845.16 1272.81,1843.79 1273.79,1842.45 1274.77,1841.14 1275.75,1839.87 1276.73,1838.64 1277.71,1837.44 1278.69,1836.27 1279.67,1835.14 1280.65,1834.05 1281.63,1832.98 1282.61,1831.95 1283.59,1830.95 1284.57,1829.98 1285.55,1829.05 1286.53,1828.14 1287.51,1827.27 1288.49,1826.42 1289.47,1825.61 1290.45,1824.82 1291.42,1824.06 1292.4,1823.33 1293.38,1822.63 1294.36,1821.95 1295.34,1821.3 1296.32,1820.68 1297.3,1820.07 1298.28,1819.5 1299.26,1818.94 1300.24,1818.41 1301.22,1817.91 1302.2,1817.42 1303.18,1816.96 1304.16,1816.51 1305.14,1816.09 1306.12,1815.68 1307.1,1815.29 1308.08,1814.93 1309.06,1814.57 1310.04,1814.24 1311.02,1813.92 1312,1813.62 1312.98,1813.33 1313.96,1813.06 1314.94,1812.8 1315.92,1812.55 1316.9,1812.32 1317.88,1812.1 1318.86,1811.89 1319.83,1811.7 1320.81,1811.51 1321.79,1811.34 1322.77,1811.17 1323.75,1811.02 1324.73,1810.87 1325.71,1810.73 1326.69,1810.6 1327.67,1810.48 1328.65,1810.37 1329.63,1810.26 1330.61,1810.16 1331.59,1810.07 1332.57,1809.98 1333.55,1809.9 1334.53,1809.82 1335.51,1809.75 1336.49,1809.68 1337.47,1809.62 1338.45,1809.56 1339.43,1809.51 1340.41,1809.46 1341.39,1809.42 1342.37,1809.37 1343.35,1809.33 1344.33,1809.3 1345.31,1809.26 1346.29,1809.23 1347.26,1809.2 1348.24,1809.18 1349.22,1809.15 1350.2,1809.13 1351.18,1809.11 1352.16,1809.09 1353.14,1809.07 1354.12,1809.06 1355.1,1809.04 1356.08,1809.03 1357.06,1809.02 1358.04,1809 1359.02,1808.99 1360,1808.98 1360.98,1808.98" fill="none" stroke="#ff2a2a" stroke-width="1.25"/>
<polyline points="970.1,2217.55 971.08,2217.55 972.06,2217.55 973.04,2217.55 974.02,2217.55 975,2217.55 975.98,2217.55 976.96,2217.55 977.94,2217.55 978.92,2217.55 979.9,2217.55 980.88,2217.54 981.86,2217.54 982.84,2217.54 983.82,2217.53 984.79,2217.53 985.77,2217.52 986.75,2217.52 987.73,2217.51 988.71,2217.5 989.69,2217.49 990.67,2217.48 991.65,2217.47 992.63,2217.46 993.61,2217.44 994.59,2217.42 995.57,2217.4 996.55,2217.38 997.53,2217.36 998.51,2217.33 999.49,2217.31 1000.47,2217.28 1001.45,2217.24 1002.43,2217.21 1003.41,2217.17 1004.39,2217.12 1005.37,2217.08 1006.35,2217.03 1007.33,2216.98 1008.31,2216.92 1009.29,2216.86 1010.27,2216.8 1011.25,2216.73 1012.22,2216.65 1013.2,2216.58 1014.18,2216.49 1015.16,2216.41 1016.14,2216.31 1017.12,2216.22 1018.1,2216.11 1019.08,2216 1020.06,2215.89 1021.04,2215.77 1022.02,2215.64 1023,2215.51 1023.98,2215.37 1024.96,2215.22 1025.94,2215.07 1026.92,2214.91 1027.9,2214.74 1028.88,2214.56 1029.86,2214.38 1030.84,2214.19 1031.82,2213.99 1032.8,2213.78 1033.78,2213.57 1034.76,2213.34 1035.74,2213.11 1036.72,2212.86 1037.7,2212.61 1038.68,2212.35 1039.66,2212.08 1040.63,2211.8 1041.61,2211.5 1042.59,2211.2 1043.57,2210.89 1044.55,2210.56 1045.53,2210.23 1046.51,2209.88 1047.49,2209.52 1048.47,2209.15 1049.45,2208.77 1050.43,2208.38 1051.41,2207.97 1052.39,2207.55 1053.37,2207.12 1054.35,2206.68 1055.33,2206.22 1056.31,2205.75 1057.29,2205.26 1058.27,2204.76 1059.25,2204.25 1060.23,2203.72 1061.21,2203.18 1062.19,2202.62 1063.17,2202.05 1064.15,2201.47 1065.13,2200.86 1066.11,2200.25 1067.09,2199.61 1068.06,2198.97 1069.04,2198.3 1070.02,2197.62 1071,2196.92 1071.98,2196.21 1072.96,2195.48 1073.94,2194.73 1074.92,2193.96 1075.9,2193.18 1076.88,2192.38 1077.86,2191.56 1078.84,2190.72 1079.82,2189.87 1080.8,2189 1081.78,2188.11 1082.76,2187.2 1083.74,2186.27 1084.72,2185.32 1085.7,2184.36 1086.68,2183.37 1087.66,2182.37 1088.64,2181.35 1089.62,2180.3 1090.6,2179.24 1091.58,2178.16 1092.56,2177.06 1093.54,2175.93 1094.52,2174.79 1095.5,2173.63 1096.47,2172.45 1097.45,2171.24 1098.43,2170.02 1099.41,2168.78 1100.39,2167.51 1101.37,2166.23 1102.35,2164.92 1103.33,2163.6 1104.31,2162.25 1105.29,2160.88 1106.27,2159.5 1107.25,2158.09 1108.23,2156.66 1109.21,2155.21 1110.19,2153.74 1111.17,2152.25 1112.15,2150.73 1113.13,2149.2 1114.11,2147.65 1115.09,2146.07 1116.07,2144.48 1117.05,2142.86 1118.03,2141.23 1119.01,2139.57 1119.99,2137.89 1120.97,2136.19 1121.95,2134.48 1122.93,2132.74 1123.9,2130.98 1124.88,2129.21 1125.86,2127.41 1126.84,2125.59 1127.82,2123.76 1128.8,2121.9 1129.78,2120.03 1130.76,2118.14 1131.74,2116.23 1132.72,2114.3 1133.7,2112.35 1134.68,2110.38 1135.66,2108.4 1136.64,2106.4 1137.62,2104.38 1138.6,2102.35 1139.58,2100.29 1140.56,2098.22 1141.54,2096.14 1142.52,2094.04 1143.5,2091.92 1144.48,2089.79 1145.46,2087.64 1146.44,2085.48 1147.42,2083.3 1148.4,2081.11 1149.38,2078.9 1150.36,2076.68 1151.34,2074.45 1152.31,2072.2 1153.29,2069.95 1154.27,2067.68 1155.25,2065.4 1156.23,2063.1 1157.21,2060.8 1158.19,2058.49 1159.17,2056.16 1160.15,2053.83 1161.13,2051.49 1162.11,2049.13 1163.09,2046.77 1164.07,2044.41 1165.05,2042.03 1166.03,2039.65 1167.01,2037.26 1167.99,2034.86 1168.97,2032.46 1169.95,2030.06 1170.93,2027.65 1171.91,2025.23 1172.89,2022.81 1173.87,2020.39 1174.85,2017.97 1175.83,2015.54 1176.81,2013.11 1177.79,2010.68 1178.77,2008.25 1179.74,2005.82 1180.72,2003.39 1181.7,2000.96 1182.68,1998.53 1183.66,1996.11 1184.64,1993.68 1185.62,1991.26 1186.6,1988.84 1187.58,1986.43 1188.56,1984.02 1189.54,1981.61 1190.52,1979.21 1191.5,1976.82 1192.48,1974.43 1193.46,1972.05 1194.44,1969.68 1195.42,1967.31 1196.4,1964.95 1197.38,1962.61 1198.36,1960.27 1199.34,1957.94 1200.32,1955.62 1201.3,1953.31 1202.28,1951.01 1203.26,1948.73 1204.24,1946.45 1205.22,1944.19 1206.2,1941.94 1207.18,1939.71 1208.15,1937.49 1209.13,1935.28 1210.11,1933.09 1211.09,1930.91 1212.07,1928.75 1213.05,1926.61 1214.03,1924.48 1215.01,1922.36 1215.99,1920.27 1216.97,1918.19 1217.95,1916.13 1218.93,1914.09 1219.91,1912.06 1220.89,1910.06 1221.87,1908.07 1222.85,1906.1 1223.83,1904.16 1224.81,1902.23 1225.79,1900.32 1226.77,1898.43 1227.75,1896.57 1228.73,1894.72 1229.71,1892.9 1230.69,1891.09 1231.67,1889.31 1232.65,1887.55 1233.63,1885.81 1234.61,1884.09 1235.58,1882.4 1236.56,1880.73 1237.54,1879.08 1238.52,1877.45 1239.5,1875.84 1240.48,1874.26 1241.46,1872.7 1242.44,1871.17 1243.42,1869.65 1244.4,1868.16 1245.38,1866.7 1246.36,1865.25 1247.34,1863.83 1248.32,1862.43 1249.3,1861.06 1250.28,1859.71 1251.26,1858.38 1252.24,1857.07 1253.22,1855.79 1254.2,1854.53 1255.18,1853.29 1256.16,1852.08 1257.14,1850.89 1258.12,1849.72 1259.1,1848.58 1260.08,1847.45 1261.06,1846.35 1262.04,1845.27 1263.02,1844.21 1263.99,1843.18 1264.97,1842.16 1265.95,1841.17 1266.93,1840.2 1267.91,1839.25 1268.89,1838.32 1269.87,1837.41 1270.85,1836.53 1271.83,1835.66 1272.81,1834.81 1273.79,1833.99 1274.77,1833.18 1275.75,1832.39 1276.73,1831.62 1277.71,1830.87 1278.69,1830.14 1279.67,1829.43 1280.65,1828.74 1281.63,1828.06 1282.61,1827.4 1283.59,1826.76 1284.57,1826.14 1285.55,1825.53 1286.53,1824.94 1287.51,1824.37 1288.49,1823.81 1289.47,1823.27 1290.45,1822.74 1291.42,1822.23 1292.4,1821.74 1293.38,1821.25 1294.36,1820.79 1295.34,1820.33 1296.32,1819.9 1297.3,1819.47 1298.28,1819.06 1299.26,1818.66 1300.24,1818.27 1301.22,1817.9 1302.2,1817.54 1303.18,1817.19 1304.16,1816.85 1305.14,1816.52 1306.12,1816.21 1307.1,1815.9 1308.08,1815.61 1309.06,1815.33 1310.04,1815.05 1311.02,1814.79 1312,1814.53 1312.98,1814.29 1313.96,1814.05 1314.94,1813.82 1315.92,1813.6 1316.9,1813.39 1317.88,1813.19 1318.86,1812.99 1319.83,1812.81 1320.81,1812.62 1321.79,1812.45 1322.77,1812.29 1323.75,1812.13 1324.73,1811.97 1325.71,1811.82 1326.69,1811.68 1327.67,1811.55 1328.65,1811.42 1329.63,1811.3 1330.61,1811.18 1331.59,1811.06 1332.57,1810.95 1333.55,1810.85 1334.53,1810.75 1335.51,1810.66 1336.49,1810.57 1337.47,1810.48 1338.45,1810.4 1339.43,1810.32 1340.41,1810.24 1341.39,1810.17 1342.37,1810.1 1343.35,1810.04 1344.33,1809.97 1345.31,1809.92 1346.29,1809.86 1347.26,1809.81 1348.24,1809.76 1349.22,1809.71 1350.2,1809.66 1351.18,1809.62 1352.16,1809.58 1353.14,1809.54 1354.12,1809.5 1355.1,1809.47 1356.08,1809.43 1357.06,1809.4 1358.04,1809.37 1359.02,1809.34 1360,1809.32 1360.98,1809.29" fill="none" stroke="#2a2aff" stroke-width="1.25"/>
<polyline points="970.1,2217.55 971.5,2217.55 972.9,2217.55 974.3,2217.55 975.7,2217.55 977.1,2217.54 978.5,2217.54 979.9,2217.53 981.3,2217.52 982.7,2217.51 984.09,2217.49 985.49,2217.47 986.89,2217.45 988.29,2217.42 989.69,2217.39 991.09,2217.34 992.49,2217.3 993.89,2217.24 995.29,2217.18 996.69,2217.1 998.09,2217.02 999.49,2216.93 1000.89,2216.83 1002.29,2216.72 1003.69,2216.6 1005.09,2216.46 1006.49,2216.31 1007.89,2216.15 1009.29,2215.98 1010.69,2215.78 1012.08,2215.58 1013.48,2215.36 1014.88,2215.12 1016.28,2214.86 1017.68,2214.59 1019.08,2214.3 1020.48,2213.99 1021.88,2213.65 1023.28,2213.3 1024.68,2212.93 1026.08,2212.53 1027.48,2212.12 1028.88,2211.68 1030.28,2211.21 1031.68,2210.72 1033.08,2210.21 1034.48,2209.67 1035.88,2209.1 1037.28,2208.51 1038.68,2207.89 1040.07,2207.24 1041.47,2206.56 1042.87,2205.85 1044.27,2205.12 1045.67,2204.35 1047.07,2203.55 1048.47,2202.72 1049.87,2201.85 1051.27,2200.96 1052.67,2200.03 1054.07,2199.06 1055.47,2198.06 1056.87,2197.03 1058.27,2195.96 1059.67,2194.86 1061.07,2193.71 1062.47,2192.54 1063.87,2191.32 1065.27,2190.07 1066.67,2188.78 1068.06,2187.45 1069.46,2186.08 1070.86,2184.67 1072.26,2183.22 1073.66,2181.74 1075.06,2180.21 1076.46,2178.65 1077.86,2177.04 1079.26,2175.39 1080.66,2173.7 1082.06,2171.98 1083.46,2170.21 1084.86,2168.4 1086.26,2166.54 1087.66,2164.65 1089.06,2162.72 1090.46,2160.74 1091.86,2158.72 1093.26,2156.67 1094.66,2154.57 1096.05,2152.43 1097.45,2150.25 1098.85,2148.03 1100.25,2145.77 1101.65,2143.47 1103.05,2141.13 1104.45,2138.75 1105.85,2136.33 1107.25,2133.87 1108.65,2131.38 1110.05,2128.84 1111.45,2126.27 1112.85,2123.67 1114.25,2121.02 1115.65,2118.34 1117.05,2115.63 1118.45,2112.88 1119.85,2110.1 1121.25,2107.28 1122.65,2104.43 1124.04,2101.55 1125.44,2098.64 1126.84,2095.7 1128.24,2092.73 1129.64,2089.74 1131.04,2086.71 1132.44,2083.66 1133.84,2080.58 1135.24,2077.48 1136.64,2074.35 1138.04,2071.21 1139.44,2068.04 1140.84,2064.85 1142.24,2061.64 1143.64,2058.41 1145.04,2055.17 1146.44,2051.91 1147.84,2048.63 1149.24,2045.35 1150.64,2042.05 1152.03,2038.73 1153.43,2035.41 1154.83,2032.08 1156.23,2028.75 1157.63,2025.4 1159.03,2022.06 1160.43,2018.71 1161.83,2015.35 1163.23,2012 1164.63,2008.65 1166.03,2005.29 1167.43,2001.94 1168.83,1998.6 1170.23,1995.26 1171.63,1991.93 1173.03,1988.61 1174.43,1985.29 1175.83,1981.99 1177.23,1978.7 1178.63,1975.42 1180.02,1972.16 1181.42,1968.91 1182.82,1965.68 1184.22,1962.47 1185.62,1959.28 1187.02,1956.11 1188.42,1952.96 1189.82,1949.83 1191.22,1946.73 1192.62,1943.65 1194.02,1940.6 1195.42,1937.58 1196.82,1934.58 1198.22,1931.62 1199.62,1928.68 1201.02,1925.77 1202.42,1922.9 1203.82,1920.06 1205.22,1917.25 1206.62,1914.48 1208.01,1911.74 1209.41,1909.04 1210.81,1906.37 1212.21,1903.74 1213.61,1901.15 1215.01,1898.6 1216.41,1896.08 1217.81,1893.61 1219.21,1891.18 1220.61,1888.78 1222.01,1886.43 1223.41,1884.11 1224.81,1881.84 1226.21,1879.61 1227.61,1877.42 1229.01,1875.28 1230.41,1873.17 1231.81,1871.11 1233.21,1869.09 1234.61,1867.11 1236,1865.18 1237.4,1863.28 1238.8,1861.43 1240.2,1859.63 1241.6,1857.86 1243,1856.13 1244.4,1854.45 1245.8,1852.81 1247.2,1851.21 1248.6,1849.65 1250,1848.13 1251.4,1846.65 1252.8,1845.22 1254.2,1843.82 1255.6,1842.46 1257,1841.14 1258.4,1839.85 1259.8,1838.61 1261.2,1837.4 1262.6,1836.23 1263.99,1835.1 1265.39,1834 1266.79,1832.93 1268.19,1831.9 1269.59,1830.91 1270.99,1829.94 1272.39,1829.01 1273.79,1828.12 1275.19,1827.25 1276.59,1826.41 1277.99,1825.61 1279.39,1824.83 1280.79,1824.08 1282.19,1823.36 1283.59,1822.67 1284.99,1822 1286.39,1821.36 1287.79,1820.75 1289.19,1820.16 1290.59,1819.59 1291.98,1819.05 1293.38,1818.53 1294.78,1818.03 1296.18,1817.55 1297.58,1817.1 1298.98,1816.66 1300.38,1816.24 1301.78,1815.84 1303.18,1815.46 1304.58,1815.1 1305.98,1814.76 1307.38,1814.43 1308.78,1814.11 1310.18,1813.81 1311.58,1813.53 1312.98,1813.26 1314.38,1813 1315.78,1812.76 1317.18,1812.53 1318.58,1812.31 1319.97,1812.1 1321.37,1811.9 1322.77,1811.72 1324.17,1811.54 1325.57,1811.37 1326.97,1811.22 1328.37,1811.07 1329.77,1810.93 1331.17,1810.79 1332.57,1810.67 1333.97,1810.55 1335.37,1810.44 1336.77,1810.34 1338.17,1810.24 1339.57,1810.15 1340.97,1810.06 1342.37,1809.98 1343.77,1809.9 1345.17,1809.83 1346.57,1809.77 1347.96,1809.7 1349.36,1809.64 1350.76,1809.59 1352.16,1809.54 1353.56,1809.49 1354.96,1809.45 1356.36,1809.41 1357.76,1809.37 1359.16,1809.33 1360.56,1809.3 1361.96,1809.27 1363.36,1809.24 1364.76,1809.21 1366.16,1809.19 1367.56,1809.16 1368.96,1809.14 1370.36,1809.12 1371.76,1809.1 1373.16,1809.09 1374.56,1809.07 1375.95,1809.06 1377.35,1809.04 1378.75,1809.03 1380.15,1809.02 1381.55,1809.01 1382.95,1809 1384.35,1808.99 1385.75,1808.98 1387.15,1808.98 1388.55,1808.97 1389.95,1808.96 1391.35,1808.96 1392.75,1808.95 1394.15,1808.95 1395.55,1808.94 1396.95,1808.94 1398.35,1808.93 1399.75,1808.93 1401.15,1808.93 1402.55,1808.93 1403.94,1808.92 1405.34,1808.92 1406.74,1808.92 1408.14,1808.92 1409.54,1808.92 1410.94,1808.91 1412.34,1808.91 1413.74,1808.91 1415.14,1808.91 1416.54,1808.91 1417.94,1808.91 1419.34,1808.91 1420.74,1808.91 1422.14,1808.91 1423.54,1808.91 1424.94,1808.9 1426.34,1808.9 1427.74,1808.9 1429.14,1808.9 1430.54,1808.9 1431.93,1808.9 1433.33,1808.9 1434.73,1808.9 1436.13,1808.9 1437.53,1808.9 1438.93,1808.9 1440.33,1808.9 1441.73,1808.9 1443.13,1808.9 1444.53,1808.9 1445.93,1808.9 1447.33,1808.9 1448.73,1808.9 1450.13,1808.9 1451.53,1808.9 1452.93,1808.9 1454.33,1808.9 1455.73,1808.9 1457.13,1808.9 1458.53,1808.9 1459.92,1808.9 1461.32,1808.9 1462.72,1808.9 1464.12,1808.9 1465.52,1808.9 1466.92,1808.9 1468.32,1808.9 1469.72,1808.9 1471.12,1808.9 1472.52,1808.9 1473.92,1808.9 1475.32,1808.9 1476.72,1808.9 1478.12,1808.9 1479.52,1808.9 1480.92,1808.9 1482.32,1808.9 1483.72,1808.9 1485.12,1808.9 1486.52,1808.9 1487.91,1808.9 1489.31,1808.9 1490.71,1808.9 1492.11,1808.9 1493.51,1808.9 1494.91,1808.9 1496.31,1808.9 1497.71,1808.9 1499.11,1808.9 1500.51,1808.9 1501.91,1808.9 1503.31,1808.9 1504.71,1808.9 1506.11,1808.9 1507.51,1808.9 1508.91,1808.9 1510.31,1808.9 1511.71,1808.9 1513.11,1808.9 1514.51,1808.9 1515.9,1808.9 1517.3,1808.9 1518.7,1808.9 1520.1,1808.9 1521.5,1808.9 1522.9,1808.9 1524.3,1808.9 1525.7,1808.9 1527.1,1808.9 1528.5,1808.9" fill="none" stroke="#2aff2a" stroke-width="1.25"/>
</g>
<g style="font-family:'Liberation Sans',Arial,sans-serif;font-size:23px" fill="#1a1a1a">
<text x="955.6" y="2225.75" text-anchor="end">0</text>
<text x="955.6" y="2144.02" text-anchor="end">20</text>
<text x="955.6" y="2062.29" text-anchor="end">40</text>
<text x="955.6" y="1980.56" text-anchor="end">60</text>
<text x="955.6" y="1898.83" text-anchor="end">80</text>
<text x="955.6" y="1817.1" text-anchor="end">100</text>
<text x="970.1" y="2252.05" text-anchor="middle">0</text>
<text x="1249.3" y="2252.05" text-anchor="middle">2</text>
<text x="1528.5" y="2252.05" text-anchor="middle">4</text>
<text transform="translate(906.6,1992.79) rotate(-90)" text-anchor="middle" style="font-size:26px">Q3 (%)</text>
<text x="1249.7" y="2293.55" text-anchor="middle" style="font-size:25px;letter-spacing:0.3px">x (mm)</text>
</g>
<rect x="1399.3" y="2078.7" width="147.9" height="119.6" fill="#fff" stroke="#666" stroke-width="1.2"/>
<g style="font-family:'Liberation Sans',Arial,sans-serif;font-size:22.5px" fill="#1a1a1a">
<rect x="1422.1" y="2089.3" width="10" height="10" fill="#000000"/>
<text x="1459.8" y="2101.8">conf 4.1</text>
<rect x="1422.1" y="2117.9" width="10" height="10" fill="#ff0000"/>
<text x="1459.8" y="2130.4">conf 4.2</text>
<rect x="1422.1" y="2146.5" width="10" height="10" fill="#0000ff"/>
<text x="1459.8" y="2159">conf 4.3</text>
<rect x="1422.1" y="2175.1" width="10" height="10" fill="#00ff00"/>
<text x="1459.8" y="2187.6">conf 4.4</text>
</g>
</svg></body></html>
